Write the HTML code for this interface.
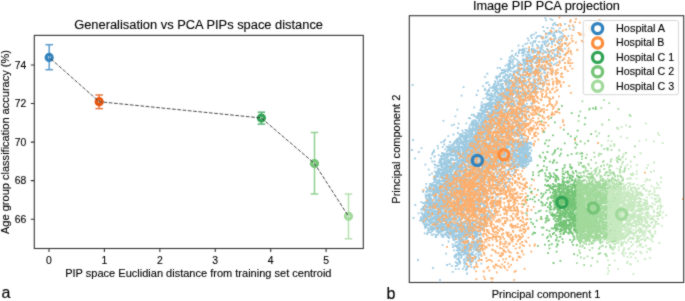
<!DOCTYPE html><html><head><meta charset="utf-8"><style>html,body{margin:0;padding:0;background:#fff;overflow:hidden}svg{display:block}</style></head><body><svg width="685" height="301" viewBox="0 0 685 301" font-family="Liberation Sans, sans-serif"><style>text{stroke:#000;stroke-width:0.12px;fill:#000}</style>
<filter id="bl" x="0" y="0" width="685" height="301" filterUnits="userSpaceOnUse" color-interpolation-filters="sRGB"><feConvolveMatrix order="3" kernelMatrix="1 2 1 2 16 2 1 2 1" edgeMode="duplicate" preserveAlpha="true"/></filter><g filter="url(#bl)">
<rect width="685" height="301" fill="#fff"/>
<g stroke="#3182bd" stroke-width="1.5" opacity="0.8"><line x1="49.2" y1="44.7" x2="49.2" y2="69.7"/><line x1="45.400000000000006" y1="44.7" x2="53.0" y2="44.7"/><line x1="45.400000000000006" y1="69.7" x2="53.0" y2="69.7"/></g>
<g stroke="#e6550d" stroke-width="1.5" opacity="0.8"><line x1="99.2" y1="95.0" x2="99.2" y2="108.6"/><line x1="95.4" y1="95.0" x2="103.0" y2="95.0"/><line x1="95.4" y1="108.6" x2="103.0" y2="108.6"/></g>
<g stroke="#31a354" stroke-width="1.5" opacity="0.8"><line x1="261.4" y1="112.2" x2="261.4" y2="124.1"/><line x1="257.59999999999997" y1="112.2" x2="265.2" y2="112.2"/><line x1="257.59999999999997" y1="124.1" x2="265.2" y2="124.1"/></g>
<g stroke="#74c476" stroke-width="1.5" opacity="0.8"><line x1="314.5" y1="132.5" x2="314.5" y2="194.0"/><line x1="310.7" y1="132.5" x2="318.3" y2="132.5"/><line x1="310.7" y1="194.0" x2="318.3" y2="194.0"/></g>
<g stroke="#a1d99b" stroke-width="1.5" opacity="0.8"><line x1="348.5" y1="194.0" x2="348.5" y2="238.8"/><line x1="344.7" y1="194.0" x2="352.3" y2="194.0"/><line x1="344.7" y1="238.8" x2="352.3" y2="238.8"/></g>
<circle cx="49.2" cy="57.4" r="3" fill="none" stroke="#3182bd" stroke-width="3.2"/>
<circle cx="99.2" cy="101.7" r="3" fill="none" stroke="#e6550d" stroke-width="3.2"/>
<circle cx="261.4" cy="118.0" r="3" fill="none" stroke="#31a354" stroke-width="3.2"/>
<circle cx="314.5" cy="163.5" r="3" fill="none" stroke="#74c476" stroke-width="3.2"/>
<circle cx="348.5" cy="216.3" r="3" fill="none" stroke="#a1d99b" stroke-width="3.2"/>
<polyline points="49.2,57.4 99.2,101.7 261.4,118.0 314.5,163.5 348.5,216.3" fill="none" stroke="#333" stroke-width="0.9" stroke-dasharray="3.7 1.6" stroke-dashoffset="3.1"/>
<rect x="34.3" y="35.4" width="329.0" height="213.1" fill="none" stroke="#333" stroke-width="1.1"/>
<text x="26.3" y="68.60" font-size="10.4" text-anchor="end" fill="#000">74</text>
<text x="26.3" y="107.15" font-size="10.4" text-anchor="end" fill="#000">72</text>
<text x="26.3" y="145.70" font-size="10.4" text-anchor="end" fill="#000">70</text>
<text x="26.3" y="184.25" font-size="10.4" text-anchor="end" fill="#000">68</text>
<text x="26.3" y="222.80" font-size="10.4" text-anchor="end" fill="#000">66</text>
<text x="49.00" y="263.7" font-size="10.4" text-anchor="middle" fill="#000">0</text>
<text x="104.42" y="263.7" font-size="10.4" text-anchor="middle" fill="#000">1</text>
<text x="159.84" y="263.7" font-size="10.4" text-anchor="middle" fill="#000">2</text>
<text x="215.26" y="263.7" font-size="10.4" text-anchor="middle" fill="#000">3</text>
<text x="270.68" y="263.7" font-size="10.4" text-anchor="middle" fill="#000">4</text>
<text x="326.10" y="263.7" font-size="10.4" text-anchor="middle" fill="#000">5</text>
<path d="M34.3 65.00h-3.5 M34.3 103.55h-3.5 M34.3 142.10h-3.5 M34.3 180.65h-3.5 M34.3 219.20h-3.5 M49.00 248.5v3.5 M104.42 248.5v3.5 M159.84 248.5v3.5 M215.26 248.5v3.5 M270.68 248.5v3.5 M326.10 248.5v3.5" stroke="#333" stroke-width="1.1"/>
<text x="198.6" y="29" font-size="12.5" text-anchor="middle" textLength="248.8" lengthAdjust="spacingAndGlyphs">Generalisation vs PCA PIPs space distance</text>
<text x="198.35" y="276.8" font-size="10.4" text-anchor="middle" textLength="266.3" lengthAdjust="spacingAndGlyphs">PIP space Euclidian distance from training set centroid</text>
<text transform="translate(8.7 142) rotate(-90)" font-size="10.4" text-anchor="middle" textLength="184" lengthAdjust="spacingAndGlyphs">Age group classification accuracy (%)</text>
<text x="1.5" y="297.6" font-size="16">a</text>
<clipPath id="rc"><rect x="409.3" y="15.7" width="274.40000000000003" height="266.8"/></clipPath>
<g clip-path="url(#rc)" stroke-width="1.8" stroke-linecap="square" fill="none">
<path stroke="#9ecae1" d="M517.5 143.9h0M428.8 229.2h0M497.8 93.8h0M561.8 49.1h0M450.8 220.7h0M474.7 129.7h0M495.3 92.6h0M473.7 148.9h0M443.7 223.9h0M426.1 220.1h0M431.9 234.9h0M445.8 230.0h0M460.1 189.0h0M489.8 103.6h0M484.5 223.3h0M527.5 59.8h0M442.0 226.8h0M491.0 160.0h0M441.1 209.9h0M475.8 140.6h0M483.0 192.9h0M431.4 228.8h0M461.6 162.5h0M458.6 149.0h0M500.1 175.7h0M486.3 161.2h0M509.4 96.0h0M523.4 61.3h0M466.9 153.7h0M473.8 137.2h0M542.2 46.7h0M499.8 183.3h0M435.1 176.0h0M440.0 188.5h0M500.4 73.7h0M445.6 162.5h0M459.7 146.9h0M484.7 144.4h0M477.5 131.1h0M484.9 107.7h0M442.6 176.2h0M527.8 87.6h0M436.6 174.3h0M479.3 207.6h0M465.7 179.2h0M498.4 172.6h0M472.4 228.6h0M445.1 228.5h0M514.4 73.5h0M489.8 124.0h0M479.6 114.8h0M521.2 49.9h0M452.9 202.7h0M490.2 123.2h0M484.7 191.5h0M454.4 173.2h0M462.2 157.5h0M519.5 161.1h0M535.0 58.5h0M439.3 189.7h0M513.3 142.8h0M481.3 105.3h0M481.7 102.5h0M442.3 174.8h0M448.1 189.5h0M504.7 114.3h0M479.2 127.6h0M494.1 132.4h0M496.4 87.9h0M444.4 173.0h0M491.9 114.1h0M530.0 154.0h0M496.2 100.3h0M443.6 225.5h0M444.6 223.6h0M455.1 191.9h0M506.4 147.5h0M464.7 229.8h0M471.2 135.3h0M513.0 61.8h0M530.7 82.3h0M496.7 106.5h0M514.2 153.6h0M472.4 197.4h0M443.5 167.9h0M505.5 133.1h0M532.7 87.2h0M502.4 136.2h0M552.3 57.4h0M431.7 218.0h0M531.6 67.1h0M520.4 109.1h0M462.6 230.7h0M475.3 147.5h0M456.6 151.3h0M441.2 213.1h0M483.1 188.9h0M461.1 222.9h0M523.3 102.7h0M427.3 225.2h0M491.0 172.7h0M468.2 156.4h0M453.8 192.4h0M460.9 164.7h0M489.8 157.3h0M477.7 198.1h0M449.6 215.3h0M517.6 157.0h0M438.2 190.8h0M507.2 148.4h0M507.5 95.7h0M475.4 201.2h0M485.1 125.8h0M464.1 176.4h0M453.4 224.2h0M468.1 230.9h0M478.0 155.0h0M492.5 94.4h0M522.7 60.4h0M500.8 145.4h0M458.1 224.9h0M453.5 206.9h0M479.7 198.1h0M429.7 203.2h0M467.3 213.8h0M545.4 18.2h0M437.4 219.6h0M434.4 198.6h0M482.1 195.4h0M540.9 36.1h0M425.5 224.9h0M463.3 179.7h0M513.3 71.6h0M502.8 102.3h0M508.9 179.1h0M452.6 189.6h0M528.9 66.0h0M437.9 176.2h0M466.6 199.6h0M454.1 207.2h0M475.9 120.7h0M469.0 164.9h0M489.9 108.6h0M437.7 226.1h0M506.7 99.5h0M505.1 121.9h0M466.7 134.4h0M504.0 182.4h0M482.7 127.6h0M496.8 104.9h0M459.3 154.1h0M522.9 49.1h0M471.2 210.8h0M458.6 149.8h0M509.0 136.0h0M508.1 131.4h0M485.3 125.3h0M428.4 200.2h0M476.2 145.6h0M455.1 187.2h0M512.7 157.3h0M486.6 172.1h0M498.3 154.2h0M447.4 164.4h0M511.0 111.4h0M498.1 152.8h0M471.1 163.9h0M542.5 66.9h0M426.8 195.9h0M447.5 235.9h0M532.4 66.5h0M486.2 118.3h0M513.0 175.1h0M501.5 134.9h0M559.2 57.0h0M445.8 155.2h0M465.5 220.2h0M439.2 209.6h0M488.6 99.6h0M475.5 183.4h0M456.5 184.8h0M475.3 136.3h0M503.9 101.5h0M450.5 183.6h0M463.6 138.2h0M448.8 222.7h0M502.3 120.7h0M534.2 90.8h0M447.3 189.4h0M441.2 226.3h0M471.1 136.2h0M443.1 180.0h0M457.0 204.6h0M473.5 128.3h0M432.6 183.3h0M442.9 217.7h0M451.8 218.5h0M464.8 199.9h0M525.2 78.7h0M513.1 139.0h0M473.9 204.5h0M525.4 143.6h0M465.7 155.9h0M432.4 194.8h0M457.5 222.7h0M523.0 105.9h0M465.2 196.4h0M459.1 227.7h0M499.6 175.7h0M506.8 149.1h0M445.1 174.8h0M480.4 195.1h0M497.4 84.9h0M458.3 209.9h0M489.8 143.0h0M522.4 165.3h0M438.8 186.7h0M487.7 95.8h0M460.0 199.2h0M457.0 211.4h0M438.5 182.6h0M490.8 109.2h0M481.8 151.5h0M523.0 53.1h0M491.5 178.3h0M468.0 169.4h0M483.1 154.8h0M458.9 138.4h0M524.9 115.9h0M466.2 153.0h0M489.9 179.3h0M514.9 160.0h0M470.2 160.6h0M520.0 123.7h0M461.4 205.0h0M573.9 27.1h0M446.2 206.4h0M446.0 176.2h0M465.0 150.2h0M517.9 123.8h0M451.4 173.9h0M503.4 131.4h0M450.8 199.2h0M444.2 182.0h0M464.2 209.4h0M492.6 119.4h0M502.3 160.1h0M491.1 87.6h0M437.2 226.2h0M470.7 130.2h0M484.5 133.7h0M525.0 117.8h0M522.0 123.6h0M430.0 204.1h0M486.3 190.0h0M451.1 215.0h0M549.7 51.3h0M474.5 174.9h0M478.9 176.4h0M430.9 232.6h0M530.5 66.5h0M446.2 218.3h0M492.0 110.0h0M486.4 127.8h0M445.8 191.0h0M531.8 38.2h0M454.0 151.9h0M463.7 147.9h0M470.5 146.9h0M439.5 182.7h0M501.7 141.9h0M474.4 140.2h0M491.5 149.2h0M444.7 167.5h0M449.8 171.5h0M451.8 166.2h0M450.7 187.2h0M495.0 121.7h0M453.1 214.0h0M437.9 217.7h0M486.0 117.6h0M504.2 163.9h0M466.5 138.8h0M473.1 138.5h0M492.7 107.0h0M551.7 42.6h0M461.2 219.1h0M488.8 166.6h0M486.6 175.3h0M573.4 29.8h0M440.0 177.5h0M445.7 230.1h0M441.3 163.0h0M472.8 169.1h0M485.7 122.8h0M505.3 94.2h0M512.2 78.2h0M513.0 92.8h0M483.7 156.4h0M474.8 189.2h0M437.9 199.7h0M477.2 124.1h0M506.2 79.1h0M445.1 154.7h0M447.7 172.3h0M528.9 89.8h0M523.3 92.2h0M506.5 121.3h0M446.7 201.2h0M453.6 168.7h0M459.8 183.1h0M437.7 182.3h0M451.2 224.7h0M503.0 88.3h0M498.9 185.5h0M471.2 181.3h0M450.0 211.4h0M485.2 205.8h0M448.2 161.6h0M427.2 224.0h0M468.7 208.2h0M437.9 210.9h0M436.2 203.5h0M489.6 161.3h0M511.6 149.7h0M490.0 163.5h0M455.5 186.3h0M483.0 113.1h0M505.8 97.9h0M505.9 74.3h0M440.4 191.5h0M428.1 230.3h0M444.3 171.5h0M440.3 192.7h0M505.0 129.8h0M552.0 42.5h0M451.0 168.7h0M449.2 188.8h0M482.2 186.7h0M463.8 221.8h0M486.2 206.5h0M483.6 213.7h0M466.7 152.6h0M462.7 214.9h0M441.0 223.8h0M492.3 149.3h0M490.1 100.1h0M519.9 154.8h0M487.5 127.1h0M496.8 127.3h0M484.9 121.0h0M478.3 159.7h0M494.6 109.1h0M480.5 224.3h0M467.4 181.6h0M456.5 139.4h0M564.2 54.6h0M503.0 113.5h0M507.3 80.2h0M498.9 157.5h0M429.8 187.4h0M498.8 164.3h0M443.6 234.5h0M479.3 194.7h0M461.6 233.3h0M513.3 74.7h0M433.6 219.3h0M496.3 142.5h0M517.8 91.9h0M487.5 92.8h0M483.4 155.8h0M498.6 89.2h0M512.3 88.2h0M441.7 225.1h0M425.2 212.7h0M447.3 229.9h0M503.1 101.4h0M436.2 194.5h0M479.0 159.2h0M487.1 150.3h0M458.0 196.7h0M458.4 192.2h0M470.3 175.3h0M452.2 150.0h0M454.5 177.6h0M449.4 163.1h0M491.2 93.4h0M523.2 144.4h0M498.1 145.4h0M428.9 202.3h0M549.2 54.5h0M481.5 176.4h0M424.6 218.2h0M457.2 158.7h0M452.4 186.8h0M438.0 229.6h0M462.2 196.6h0M465.3 153.9h0M499.2 112.4h0M520.7 159.8h0M488.1 157.8h0M465.6 174.4h0M428.8 191.4h0M452.5 234.4h0M488.0 144.6h0M458.3 206.2h0M438.1 217.9h0M443.2 220.1h0M464.7 197.0h0M547.8 45.6h0M520.0 135.3h0M471.7 152.1h0M481.1 201.2h0M494.5 117.6h0M510.0 157.1h0M505.8 89.0h0M495.3 168.3h0M506.5 89.1h0M459.2 209.7h0M503.1 106.9h0M476.9 144.9h0M467.3 181.3h0M482.1 177.8h0M435.7 199.4h0M513.0 131.8h0M490.6 121.2h0M521.0 81.5h0M513.5 152.3h0M503.1 114.5h0M452.1 185.1h0M492.9 135.2h0M455.5 142.2h0M473.1 174.2h0M500.8 114.7h0M522.9 142.3h0M439.4 162.2h0M431.6 200.0h0M439.9 159.4h0M508.8 64.4h0M492.0 112.3h0M497.4 112.5h0M449.2 154.5h0M491.5 114.7h0M488.1 124.9h0M515.9 77.4h0M446.7 188.4h0M527.4 147.2h0M450.1 194.2h0M460.0 181.1h0M504.7 184.2h0M489.7 97.8h0M525.2 160.2h0M437.8 208.7h0M556.7 32.1h0M456.0 155.2h0M443.4 185.9h0M467.4 179.7h0M470.4 162.0h0M444.5 190.0h0M472.7 221.7h0M505.2 148.8h0M481.1 123.1h0M498.6 140.0h0M499.7 149.0h0M438.7 193.6h0M444.2 155.6h0M523.5 94.5h0M478.7 117.6h0M429.0 197.4h0M436.6 196.8h0M464.0 179.5h0M443.3 212.6h0M444.5 162.0h0M422.3 219.3h0M458.0 174.6h0M447.6 157.6h0M470.0 155.3h0M553.2 53.1h0M517.6 69.7h0M474.7 210.2h0M514.2 106.3h0M491.9 116.9h0M444.0 180.6h0M478.1 157.1h0M521.6 147.4h0M498.7 122.7h0M445.4 170.2h0M511.8 138.1h0M476.1 158.6h0M461.3 139.5h0M435.7 201.5h0M472.2 157.7h0M468.9 134.6h0M514.1 78.1h0M452.1 214.5h0M437.8 171.6h0M507.2 157.4h0M471.0 143.9h0M446.8 171.3h0M440.4 199.0h0M480.9 179.9h0M468.6 161.1h0M514.4 105.0h0M489.3 169.5h0M427.0 203.2h0M457.5 209.4h0M438.7 206.5h0M445.5 212.5h0M429.9 223.3h0M492.6 113.5h0M483.6 118.8h0M484.1 146.9h0M530.6 57.8h0M457.1 214.5h0M485.1 125.5h0M502.5 95.2h0M473.8 212.0h0M499.1 170.3h0M509.4 169.3h0M445.2 207.7h0M489.4 123.3h0M477.7 139.3h0M440.3 214.2h0M509.2 165.3h0M472.9 230.6h0M442.0 177.7h0M449.7 169.1h0M456.1 141.6h0M501.5 144.9h0M471.5 165.8h0M458.8 174.5h0M428.9 202.5h0M458.6 200.3h0M463.6 146.3h0M453.9 220.3h0M497.1 157.2h0M445.5 204.5h0M529.3 143.4h0M450.6 180.8h0M450.2 196.3h0M481.6 138.2h0M434.3 184.8h0M461.8 191.5h0M493.1 161.9h0M488.7 136.5h0M496.3 150.5h0M513.6 156.8h0M495.9 133.5h0M524.0 60.5h0M466.7 159.9h0M485.8 226.6h0M515.4 93.6h0M472.3 220.7h0M518.8 53.0h0M440.3 176.7h0M497.2 100.7h0M530.1 68.8h0M445.7 213.1h0M479.1 167.4h0M485.7 145.4h0M446.2 174.9h0M442.2 186.3h0M468.8 232.8h0M497.0 148.7h0M482.1 194.2h0M516.9 126.5h0M435.1 178.2h0M501.2 97.1h0M448.5 187.1h0M498.6 137.7h0M502.4 126.4h0M490.2 166.6h0M473.9 161.6h0M544.3 82.8h0M486.7 115.1h0M451.0 210.2h0M466.0 187.2h0M452.5 195.2h0M432.0 210.1h0M436.3 200.1h0M437.0 226.7h0M528.3 93.9h0M502.7 158.1h0M487.8 136.6h0M509.2 64.6h0M496.6 113.2h0M463.8 182.1h0M476.5 151.4h0M547.6 76.3h0M438.3 169.7h0M458.7 144.3h0M507.9 98.6h0M480.3 152.4h0M467.5 147.9h0M462.0 178.3h0M486.7 163.0h0M435.0 203.9h0M448.7 161.3h0M527.3 43.4h0M449.4 219.8h0M507.0 142.0h0M504.7 72.5h0M491.5 158.1h0M477.6 143.5h0M435.0 208.4h0M530.2 62.4h0M478.6 121.0h0M469.7 172.7h0M448.1 211.4h0M474.0 139.6h0M539.7 51.6h0M487.1 111.2h0M517.7 102.8h0M520.7 100.3h0M462.1 169.7h0M470.4 142.8h0M490.6 121.1h0M490.5 114.4h0M492.9 119.9h0M469.3 146.5h0M481.6 120.5h0M464.0 189.8h0M437.0 213.6h0M478.2 150.1h0M454.7 192.5h0M458.9 147.2h0M455.4 175.9h0M463.3 143.1h0M536.7 86.0h0M445.4 201.3h0M472.9 207.0h0M511.9 144.4h0M495.5 86.1h0M450.0 154.1h0M501.6 154.6h0M445.0 227.1h0M506.1 177.7h0M448.7 159.9h0M498.7 110.5h0M451.4 213.7h0M471.6 204.3h0M493.1 133.8h0M444.9 174.1h0M511.0 144.8h0M456.4 182.1h0M504.5 149.7h0M428.7 221.3h0M515.4 83.5h0M478.1 168.2h0M538.5 87.5h0M438.7 208.5h0M539.1 41.9h0M458.9 208.4h0M434.4 202.7h0M521.2 138.4h0M488.0 105.9h0M524.9 152.3h0M525.3 159.0h0M471.2 195.2h0M517.0 87.5h0M489.9 132.0h0M424.9 226.3h0M451.6 146.4h0M464.8 150.6h0M481.8 199.4h0M468.5 148.8h0M471.0 163.9h0M500.7 104.7h0M532.1 52.5h0M444.9 174.6h0M489.6 173.2h0M437.2 172.1h0M446.5 224.3h0M482.8 138.1h0M459.5 171.9h0M531.5 64.2h0M473.3 221.8h0M516.7 154.0h0M451.3 163.1h0M504.0 94.8h0M537.4 36.7h0M487.3 182.1h0M503.5 121.6h0M523.7 124.7h0M453.9 164.9h0M495.4 177.7h0M522.7 162.6h0M464.5 218.2h0M463.1 147.3h0M473.0 188.9h0M495.3 122.7h0M455.7 189.7h0M459.9 219.6h0M465.4 165.2h0M457.8 142.4h0M514.4 117.0h0M478.3 199.3h0M448.7 211.9h0M508.6 96.0h0M494.1 214.0h0M434.7 178.5h0M459.4 206.7h0M467.6 209.2h0M497.2 143.8h0M483.2 128.1h0M425.7 225.4h0M479.6 129.7h0M496.4 143.6h0M434.1 189.7h0M477.9 161.9h0M491.7 122.3h0M448.5 194.6h0M488.4 90.7h0M506.0 132.4h0M497.9 149.4h0M437.4 210.8h0M499.8 93.3h0M522.5 155.6h0M464.9 148.5h0M500.4 141.4h0M474.6 161.6h0M460.7 136.4h0M519.4 165.8h0M501.4 157.4h0M472.3 155.7h0M544.7 70.3h0M436.3 196.2h0M523.1 114.7h0M435.5 194.1h0M471.8 144.0h0M492.5 105.5h0M473.3 199.1h0M444.7 182.5h0M445.3 190.6h0M467.2 210.3h0M499.9 75.4h0M484.6 196.0h0M438.5 220.4h0M427.4 200.5h0M494.2 193.0h0M473.4 188.9h0M523.6 162.9h0M514.8 170.9h0M509.4 98.7h0M439.7 226.3h0M512.8 68.4h0M435.6 191.7h0M494.4 139.5h0M500.4 170.3h0M486.6 186.4h0M430.0 219.6h0M504.4 126.7h0M524.6 93.4h0M447.3 189.4h0M501.6 88.4h0M460.3 185.2h0M500.3 88.3h0M484.3 142.1h0M456.3 225.3h0M464.4 153.2h0M500.5 114.7h0M517.5 132.3h0M464.1 142.2h0M451.3 182.3h0M451.6 152.7h0M512.4 76.5h0M479.3 152.6h0M464.7 187.7h0M498.3 114.3h0M496.3 87.2h0M512.6 134.0h0M463.8 164.1h0M422.3 221.3h0M493.5 86.2h0M483.3 143.0h0M452.6 189.3h0M476.1 225.9h0M493.0 145.6h0M480.6 196.0h0M492.6 103.4h0M527.0 62.4h0M453.3 220.6h0M439.0 162.7h0M465.6 140.0h0M461.1 142.7h0M510.9 70.9h0M502.0 153.3h0M512.2 144.4h0M457.2 165.8h0M487.7 154.2h0M532.3 52.4h0M425.7 203.2h0M424.2 224.3h0M510.2 98.4h0M522.1 129.8h0M480.1 122.6h0M423.0 215.5h0M546.1 20.4h0M478.2 147.5h0M469.1 195.5h0M485.7 115.0h0M437.1 205.9h0M443.1 190.8h0M450.0 216.1h0M461.8 215.8h0M476.4 126.5h0M502.4 118.8h0M468.9 182.5h0M471.8 173.7h0M531.0 61.0h0M515.1 65.9h0M525.2 95.8h0M448.9 214.1h0M477.1 138.8h0M428.8 199.0h0M474.5 141.9h0M497.2 160.0h0M554.8 23.1h0M446.6 161.4h0M470.1 151.5h0M457.5 198.3h0M510.8 99.4h0M488.7 104.1h0M445.4 180.5h0M480.5 115.4h0M502.0 80.0h0M480.9 130.2h0M439.3 211.9h0M539.4 58.5h0M494.9 100.4h0M496.6 118.5h0M478.5 175.7h0M486.3 106.4h0M447.2 160.2h0M480.9 221.1h0M454.2 148.4h0M487.0 109.4h0M459.8 218.3h0M501.3 90.0h0M519.8 156.6h0M465.8 195.2h0M427.0 201.8h0M456.3 218.0h0M489.9 106.5h0M493.8 103.2h0M441.6 209.3h0M462.4 160.7h0M518.4 153.5h0M535.1 41.8h0M500.7 107.8h0M436.8 216.8h0M478.8 154.0h0M446.9 227.1h0M520.3 162.5h0M446.9 154.1h0M429.2 229.9h0M522.6 160.1h0M440.7 184.0h0M473.5 161.7h0M445.9 227.5h0M503.6 88.9h0M442.1 198.5h0M514.8 135.5h0M499.7 81.0h0M475.6 155.8h0M457.7 146.3h0M512.2 100.8h0M502.3 162.8h0M477.6 139.7h0M483.8 153.9h0M517.7 70.8h0M480.2 177.4h0M471.2 198.5h0M469.2 154.9h0M452.2 181.2h0M448.1 153.5h0M465.0 166.2h0M423.2 217.2h0M516.0 76.7h0M429.3 232.1h0M478.7 188.9h0M445.6 165.3h0M459.9 227.8h0M429.5 196.7h0M473.5 158.0h0M463.2 193.2h0M482.8 208.7h0M437.9 234.5h0M435.9 224.0h0M505.0 91.3h0M451.3 204.2h0M529.1 91.7h0M454.1 160.0h0M533.8 80.3h0M476.1 139.4h0M523.7 77.9h0M477.2 158.9h0M481.8 151.2h0M490.0 141.5h0M453.4 196.8h0M473.9 151.4h0M484.6 168.2h0M545.3 76.7h0M492.5 179.8h0M495.1 140.6h0M471.4 124.7h0M512.6 103.9h0M487.9 143.6h0M457.2 236.0h0M461.8 196.4h0M538.0 57.9h0M560.5 41.8h0M451.9 170.5h0M480.4 202.2h0M498.0 160.5h0M466.0 172.8h0M431.5 210.1h0M462.2 182.6h0M462.3 188.5h0M490.9 145.4h0M464.1 138.8h0M471.0 192.4h0M448.8 232.2h0M443.9 208.2h0M500.5 119.4h0M471.3 159.5h0M449.5 228.2h0M457.4 211.4h0M517.5 87.4h0M459.0 173.1h0M490.3 112.8h0M429.3 221.5h0M453.2 218.7h0M424.8 220.7h0M465.9 187.5h0M517.4 69.8h0M511.2 137.2h0M512.8 149.5h0M516.1 72.0h0M532.8 61.5h0M442.9 199.3h0M524.6 163.1h0M455.4 163.7h0M453.8 146.9h0M431.9 201.0h0M470.5 136.6h0M513.8 122.3h0M475.0 125.8h0M473.8 151.5h0M429.8 214.8h0M493.7 148.2h0M502.7 132.7h0M479.2 138.3h0M469.6 182.3h0M505.9 71.0h0M496.7 86.5h0M434.6 204.8h0M483.2 123.7h0M473.7 152.5h0M522.4 111.5h0M499.8 133.9h0M511.1 159.9h0M493.6 120.0h0M552.0 57.5h0M461.7 187.6h0M554.4 40.3h0M469.8 146.7h0M508.3 170.0h0M492.6 90.8h0M496.0 194.4h0M426.1 210.4h0M502.3 126.4h0M458.4 188.8h0M514.7 122.7h0M430.4 199.0h0M476.4 182.4h0M472.6 153.8h0M438.5 219.6h0M435.3 204.5h0M518.8 115.9h0M451.7 232.2h0M471.7 157.3h0M436.4 185.9h0M447.5 216.8h0M451.7 185.2h0M465.0 135.4h0M561.1 39.2h0M469.6 127.2h0M446.6 177.5h0M494.3 173.1h0M458.5 202.9h0M445.5 196.3h0M559.5 53.5h0M496.6 88.4h0M490.1 112.4h0M444.7 194.2h0M445.7 163.8h0M460.6 179.3h0M458.3 224.3h0M463.2 185.1h0M449.2 160.7h0M478.5 135.1h0M464.6 209.4h0M471.0 135.4h0M427.9 220.0h0M498.4 100.3h0M447.1 201.3h0M512.3 92.0h0M441.9 236.6h0M440.7 217.0h0M483.0 123.7h0M490.9 123.5h0M528.3 73.8h0M484.9 115.4h0M455.4 183.7h0M461.0 200.4h0M559.3 43.7h0M515.8 114.8h0M504.1 113.2h0M456.1 163.8h0M443.6 158.3h0M448.6 181.0h0M494.5 147.5h0M523.6 80.8h0M501.4 112.8h0M489.7 114.9h0M429.7 202.9h0M454.4 143.1h0M483.9 132.0h0M489.3 126.3h0M483.0 172.0h0M468.8 188.4h0M429.2 202.2h0M486.3 112.1h0M430.0 208.0h0M515.4 117.9h0M468.3 221.0h0M473.0 139.1h0M471.3 204.0h0M426.5 218.7h0M451.1 219.3h0M454.3 159.9h0M469.6 185.8h0M458.4 173.6h0M470.9 185.5h0M510.0 96.4h0M474.6 192.5h0M428.7 188.6h0M519.9 148.0h0M508.3 81.1h0M483.9 125.9h0M428.4 194.2h0M485.8 192.0h0M475.8 123.4h0M462.5 168.2h0M425.8 202.9h0M468.5 153.3h0M524.4 157.5h0M534.7 99.4h0M445.7 223.3h0M482.8 179.7h0M444.4 174.7h0M454.0 233.4h0M482.4 110.7h0M501.9 147.8h0M476.2 147.1h0M424.9 204.9h0M439.1 172.3h0M554.8 54.3h0M505.0 96.6h0M424.8 214.5h0M483.8 148.1h0M438.8 220.3h0M490.7 118.9h0M435.1 193.3h0M458.8 174.6h0M522.5 149.1h0M441.0 204.5h0M547.2 42.1h0M548.7 68.6h0M482.0 172.1h0M553.7 64.6h0M456.3 188.2h0M492.7 159.3h0M452.6 177.1h0M525.4 94.4h0M476.8 190.6h0M501.6 191.5h0M510.5 142.6h0M497.1 98.4h0M495.4 91.4h0M477.8 164.0h0M461.2 182.1h0M534.3 79.9h0M434.3 222.1h0M507.6 137.9h0M447.8 155.4h0M508.6 78.6h0M446.6 211.4h0M509.5 62.9h0M492.0 146.2h0M521.5 64.1h0M462.3 186.1h0M508.2 92.6h0M450.6 173.3h0M496.6 90.3h0M494.7 205.9h0M460.6 174.2h0M493.3 132.3h0M452.6 179.2h0M430.6 227.9h0M509.4 81.8h0M456.1 220.7h0M459.9 174.6h0M541.3 47.2h0M474.3 144.3h0M475.2 147.2h0M440.7 160.8h0M447.9 233.7h0M503.6 144.8h0M504.7 71.4h0M479.9 137.0h0M473.0 145.6h0M492.8 123.9h0M523.9 81.7h0M546.0 46.2h0M443.1 208.3h0M449.2 236.9h0M421.3 212.6h0M482.8 113.9h0M544.5 41.6h0M496.5 145.8h0M453.6 144.2h0M446.0 213.2h0M444.3 174.4h0M483.3 120.2h0M453.4 152.2h0M517.9 127.6h0M490.2 95.0h0M509.1 69.7h0M426.5 209.3h0M475.5 216.4h0M495.1 141.8h0M465.3 216.1h0M462.8 185.5h0M456.0 207.9h0M531.1 95.2h0M479.2 120.3h0M454.0 206.4h0M513.1 67.5h0M456.8 187.3h0M460.0 160.4h0M510.6 156.5h0M508.0 100.3h0M496.9 157.9h0M488.9 120.0h0M507.2 104.1h0M545.8 37.3h0M473.9 221.3h0M500.3 153.5h0M517.9 73.0h0M505.6 88.3h0M490.8 159.9h0M468.5 208.8h0M495.9 182.5h0M464.2 177.7h0M480.0 152.9h0M494.5 89.8h0M447.7 199.3h0M454.5 227.9h0M483.6 183.3h0M455.1 165.1h0M443.3 154.3h0M502.6 108.9h0M508.5 86.4h0M487.2 104.4h0M433.8 229.9h0M451.4 177.4h0M494.2 188.9h0M555.9 24.8h0M509.4 141.8h0M518.6 67.9h0M475.6 142.9h0M440.8 225.0h0M423.2 206.6h0M466.4 181.6h0M450.6 179.6h0M451.2 171.1h0M424.9 206.6h0M468.4 184.0h0M460.3 171.8h0M553.6 23.8h0M507.5 75.0h0M494.0 124.4h0M441.5 167.3h0M457.8 212.4h0M520.8 157.2h0M505.0 154.3h0M463.6 172.2h0M457.5 158.6h0M468.9 217.5h0M444.7 215.4h0M540.2 84.1h0M481.0 174.5h0M524.7 50.7h0M476.9 125.9h0M449.8 198.0h0M489.0 169.7h0M503.8 115.9h0M509.4 160.1h0M510.2 80.6h0M439.9 206.2h0M459.5 175.1h0M518.1 114.8h0M465.6 226.8h0M509.8 147.2h0M489.1 91.0h0M521.5 68.5h0M500.5 111.6h0M472.1 172.9h0M464.4 154.4h0M515.1 144.1h0M508.5 165.9h0M477.7 130.9h0M430.9 188.2h0M541.7 45.0h0M425.7 196.6h0M478.5 224.1h0M473.4 172.8h0M458.8 148.3h0M447.2 175.6h0M491.9 175.6h0M447.3 190.1h0M447.2 193.6h0M448.6 187.3h0M477.2 132.8h0M518.3 90.7h0M460.1 156.6h0M429.3 187.7h0M553.2 41.3h0M541.0 52.7h0M491.6 164.1h0M498.9 105.8h0M451.1 175.1h0M487.0 218.0h0M467.7 166.1h0M495.2 165.2h0M438.1 181.1h0M499.9 76.8h0M482.6 170.5h0M532.1 68.5h0M470.6 184.6h0M513.7 92.8h0M535.4 50.2h0M442.0 227.5h0M460.1 170.5h0M496.6 182.5h0M444.1 164.8h0M470.7 194.2h0M450.9 195.2h0M457.9 140.3h0M472.1 141.2h0M459.8 195.8h0M517.9 82.3h0M444.2 220.1h0M490.0 134.5h0M504.8 157.4h0M447.6 220.0h0M470.4 146.8h0M461.2 206.2h0M472.5 151.8h0M452.2 224.8h0M518.4 66.8h0M428.8 213.7h0M446.4 186.9h0M491.6 109.3h0M498.9 76.2h0M448.6 209.3h0M448.5 207.9h0M447.4 174.3h0M432.4 205.7h0M493.4 98.7h0M509.1 67.7h0M535.4 93.9h0M437.3 176.3h0M479.6 229.2h0M490.6 217.3h0M517.2 64.8h0M453.2 169.0h0M429.9 220.5h0M456.5 218.2h0M438.5 193.2h0M442.4 159.0h0M453.7 196.1h0M500.2 79.9h0M478.6 151.1h0M487.8 182.7h0M540.4 80.6h0M486.9 143.9h0M462.3 135.7h0M506.4 85.2h0M478.3 144.1h0M449.5 222.6h0M430.0 223.0h0M527.4 64.2h0M444.2 210.4h0M472.1 131.7h0M448.9 226.4h0M472.3 134.2h0M431.2 209.9h0M426.5 206.7h0M504.2 145.8h0M481.0 197.8h0M444.8 221.2h0M474.1 180.7h0M472.8 212.6h0M446.0 184.5h0M453.8 143.4h0M469.0 132.1h0M470.8 154.5h0M436.5 206.7h0M480.8 160.6h0M470.6 144.0h0M483.4 120.7h0M541.7 37.3h0M546.9 36.9h0M528.3 149.5h0M486.3 127.9h0M482.1 122.5h0M488.0 214.9h0M460.6 160.0h0M428.9 221.8h0M460.7 143.3h0M476.9 140.7h0M446.2 185.5h0M448.9 172.0h0M494.5 192.5h0M441.4 165.4h0M473.0 232.4h0M477.0 215.7h0M443.5 172.9h0M489.8 143.4h0M530.7 95.3h0M531.4 73.2h0M478.5 127.1h0M445.5 195.9h0M466.9 227.1h0M493.4 145.5h0M488.2 117.6h0M545.6 37.8h0M500.7 121.8h0M486.1 145.8h0M492.9 127.2h0M465.7 168.8h0M449.1 174.7h0M561.5 33.2h0M437.3 188.8h0M497.9 130.6h0M455.2 194.0h0M453.0 218.2h0M489.0 95.3h0M439.0 200.4h0M453.0 165.8h0M456.8 150.3h0M472.2 142.7h0M445.3 179.0h0M462.9 203.6h0M479.6 162.5h0M513.9 161.9h0M450.0 194.9h0M462.3 191.7h0M532.9 49.4h0M436.5 214.4h0M493.7 109.8h0M505.7 146.2h0M537.8 46.7h0M443.6 199.0h0M490.6 129.9h0M428.0 203.3h0M497.1 110.8h0M480.3 118.6h0M465.1 205.2h0M466.6 157.4h0M489.7 126.0h0M457.3 206.7h0M487.0 122.8h0M497.4 151.8h0M516.3 116.4h0M434.2 211.8h0M443.0 196.8h0M454.6 195.2h0M450.3 205.3h0M481.7 159.9h0M491.6 123.7h0M478.7 159.7h0M497.1 135.8h0M454.8 189.2h0M442.1 164.5h0M509.0 76.2h0M536.0 32.7h0M448.7 148.1h0M463.5 132.6h0M453.6 204.8h0M455.9 210.6h0M539.3 58.1h0M493.4 140.9h0M520.4 128.0h0M469.6 148.5h0M531.1 157.6h0M445.8 191.8h0M438.5 201.8h0M462.5 225.9h0M476.7 223.0h0M471.9 228.8h0M442.5 193.4h0M503.4 97.1h0M490.7 160.3h0M457.5 166.6h0M521.9 142.5h0M453.6 194.6h0M436.3 192.6h0M474.2 207.5h0M429.9 198.8h0M436.3 236.5h0M508.8 83.6h0M455.4 165.0h0M503.5 142.8h0M520.6 133.3h0M451.7 181.7h0M505.5 104.6h0M525.2 121.3h0M546.9 74.4h0M440.5 164.6h0M449.7 177.8h0M432.6 203.6h0M448.7 147.1h0M445.7 188.6h0M507.3 144.9h0M435.4 185.5h0M542.4 41.8h0M433.1 190.8h0M465.5 143.5h0M543.1 59.6h0M433.8 179.0h0M468.4 222.8h0M443.5 212.8h0M486.2 97.7h0M486.4 139.2h0M442.0 173.1h0M459.8 190.2h0M493.5 139.8h0M473.0 189.2h0M473.7 205.4h0M533.8 49.1h0M450.3 174.9h0M486.2 147.7h0M432.1 226.7h0M444.0 184.5h0M510.8 150.7h0M562.8 36.9h0M481.1 129.5h0M474.0 162.6h0M494.2 145.7h0M539.2 35.8h0M483.3 111.9h0M502.5 155.7h0M441.7 216.9h0M425.7 215.1h0M450.4 206.3h0M452.9 155.5h0M527.0 150.4h0M477.1 124.0h0M481.9 215.9h0M489.4 159.8h0M527.4 56.5h0M485.1 109.7h0M502.1 165.2h0M511.3 131.0h0M506.1 110.7h0M459.9 194.2h0M448.7 233.4h0M436.6 216.6h0M507.7 88.6h0M460.5 181.3h0M482.8 162.4h0M430.4 200.6h0M467.9 158.7h0M489.3 159.5h0M525.0 155.0h0M439.6 172.0h0M443.2 202.7h0M458.4 166.0h0M484.1 126.7h0M492.6 125.8h0M442.3 231.5h0M436.4 201.5h0M535.9 69.2h0M534.4 81.3h0M435.8 227.8h0M460.1 198.3h0M446.8 146.7h0M452.3 223.2h0M530.0 71.6h0M438.1 166.2h0M498.6 172.9h0M496.2 136.3h0M535.5 90.7h0M503.9 168.2h0M522.2 113.3h0M448.1 147.6h0M518.0 96.3h0M491.1 106.0h0M440.4 205.6h0M473.2 174.8h0M440.6 221.7h0M503.5 179.4h0M428.2 214.0h0M488.9 153.9h0M441.8 195.8h0M435.6 218.0h0M508.1 136.7h0M489.6 127.0h0M522.9 168.2h0M511.1 149.2h0M446.4 180.1h0M447.4 172.7h0M433.5 216.9h0M462.3 189.9h0M435.2 213.7h0M487.8 154.0h0M475.1 227.3h0M480.1 155.5h0M542.8 49.9h0M501.4 90.3h0M524.7 146.2h0M448.9 223.1h0M424.6 216.0h0M458.4 146.2h0M464.6 189.8h0M453.7 202.1h0M444.9 223.8h0M497.8 196.4h0M501.7 122.2h0M514.9 141.9h0M496.8 119.6h0M488.0 123.8h0M462.7 144.0h0M466.3 184.0h0M466.8 179.7h0M545.2 65.8h0M486.3 142.6h0M512.4 90.5h0M511.0 120.9h0M465.0 170.0h0M446.0 229.6h0M469.6 163.4h0M466.5 137.0h0M479.2 145.5h0M497.2 153.6h0M445.8 194.0h0M471.1 133.2h0M509.3 137.6h0M498.7 132.9h0M474.1 138.1h0M443.4 176.4h0M477.2 147.9h0M485.7 200.3h0M466.2 150.8h0M486.6 135.8h0M507.3 82.8h0M464.0 152.8h0M461.7 167.9h0M500.8 157.4h0M478.4 156.7h0M468.4 144.9h0M456.3 209.1h0M451.6 154.3h0M470.2 223.6h0M470.9 153.2h0M507.4 103.1h0M464.3 209.3h0M436.8 229.0h0M429.2 221.3h0M475.6 135.7h0M477.3 123.7h0M458.1 148.6h0M431.4 185.9h0M488.9 108.5h0M544.1 31.2h0M431.6 211.7h0M549.9 32.7h0M477.5 129.6h0M474.4 225.2h0M553.3 34.7h0M465.3 235.5h0M544.1 69.7h0M451.4 150.9h0M536.8 50.9h0M470.7 197.9h0M554.8 50.0h0M449.6 168.8h0M491.1 119.2h0M437.4 202.7h0M433.3 186.4h0M437.0 191.2h0M499.8 103.0h0M481.5 185.0h0M517.2 97.6h0M441.5 185.7h0M474.3 159.1h0M490.5 219.7h0M458.8 191.6h0M450.1 168.8h0M454.9 153.7h0M521.3 83.7h0M508.9 92.1h0M503.6 103.4h0M459.0 153.3h0M499.5 131.7h0M501.7 115.1h0M509.9 103.7h0M475.0 161.2h0M480.6 184.6h0M504.0 155.6h0M521.7 76.5h0M458.7 175.1h0M441.7 207.5h0M461.9 161.2h0M447.9 176.7h0M463.9 159.4h0M460.5 147.3h0M480.9 188.5h0M448.0 201.0h0M545.3 62.1h0M426.2 191.6h0M456.3 140.8h0M437.5 175.4h0M495.0 93.1h0M445.8 188.1h0M508.9 151.8h0M436.4 203.7h0M449.3 218.2h0M460.5 154.7h0M455.3 190.3h0M431.9 229.8h0M506.4 137.5h0M489.9 142.5h0M464.1 184.0h0M477.2 134.5h0M557.5 51.0h0M491.0 98.4h0M465.8 141.4h0M488.7 109.4h0M496.5 98.1h0M478.5 167.9h0M447.6 178.8h0M468.4 136.8h0M478.5 169.5h0M552.3 19.9h0M518.0 78.0h0M478.9 140.9h0M479.0 155.7h0M496.6 77.7h0M488.9 99.2h0M507.1 89.4h0M448.8 176.1h0M435.6 193.7h0M553.2 34.2h0M500.1 201.1h0M483.1 123.5h0M516.0 150.5h0M538.1 79.3h0M494.5 112.2h0M460.7 235.1h0M449.4 199.2h0M431.2 207.1h0M534.1 89.0h0M474.9 136.6h0M490.2 117.0h0M430.5 205.5h0M451.8 160.0h0M458.6 149.6h0M553.9 39.4h0M459.9 205.6h0M490.4 190.7h0M451.4 178.2h0M537.0 44.9h0M435.8 220.2h0M507.8 106.0h0M481.9 150.5h0M505.9 134.6h0M513.7 132.8h0M525.0 64.2h0M469.6 133.8h0M489.4 171.5h0M456.6 165.5h0M496.9 96.6h0M533.7 89.3h0M450.8 194.3h0M425.8 209.8h0M451.6 178.9h0M517.3 124.9h0M478.2 124.4h0M462.2 143.1h0M465.3 132.9h0M439.1 199.5h0M501.5 91.7h0M517.4 84.8h0M502.7 86.8h0M528.7 71.1h0M447.4 184.5h0M468.6 174.2h0M462.9 223.8h0M471.0 183.3h0M439.8 186.3h0M508.5 171.0h0M430.4 186.2h0M492.8 169.3h0M473.8 143.5h0M491.8 99.8h0M467.9 140.7h0M439.1 211.6h0M521.8 109.4h0M450.1 167.0h0M473.1 165.3h0M453.3 219.7h0M456.2 158.0h0M473.2 154.8h0M452.2 237.4h0M437.6 171.1h0M469.6 198.3h0M516.4 154.8h0M508.4 69.8h0M522.2 106.2h0M443.9 214.8h0M491.0 120.1h0M439.7 216.7h0M481.5 204.2h0M444.1 195.6h0M451.7 186.3h0M479.9 200.8h0M440.7 176.9h0M565.0 48.7h0M495.2 168.2h0M503.3 96.3h0M482.3 200.5h0M496.1 131.8h0M488.2 167.8h0M509.6 93.2h0M491.9 118.6h0M507.3 101.6h0M486.7 207.6h0M449.4 190.0h0M469.5 155.0h0M454.3 155.5h0M497.6 177.2h0M489.8 144.7h0M447.9 204.7h0M469.2 174.0h0M493.1 147.2h0M446.5 164.7h0M505.3 89.2h0M480.7 226.3h0M436.7 175.0h0M509.5 66.3h0M506.1 117.0h0M458.1 177.5h0M486.3 223.9h0M449.8 162.1h0M459.0 202.3h0M458.1 212.3h0M467.2 153.7h0M469.8 232.7h0M487.8 119.3h0M489.0 94.7h0M453.1 230.6h0M464.5 176.7h0M466.8 138.8h0M464.3 229.2h0M432.8 193.2h0M494.9 147.7h0M453.8 155.7h0M450.5 187.0h0M444.8 181.1h0M486.4 146.3h0M452.3 176.6h0M427.6 214.4h0M428.5 213.6h0M459.2 225.5h0M446.9 195.2h0M462.0 190.1h0M451.2 187.8h0M500.4 105.7h0M430.6 213.1h0M465.2 156.9h0M502.0 84.1h0M463.0 197.8h0M444.1 189.9h0M438.1 220.0h0M476.6 124.5h0M446.9 192.2h0M470.1 125.1h0M450.6 226.5h0M477.7 115.3h0M466.3 167.4h0M518.3 140.9h0M463.5 138.1h0M540.5 71.3h0M500.2 140.0h0M461.6 199.2h0M478.1 159.1h0M453.3 177.8h0M446.5 158.7h0M471.4 175.6h0M451.0 197.1h0M483.7 119.3h0M479.9 207.9h0M496.0 113.8h0M512.5 158.6h0M462.4 179.3h0M436.2 180.3h0M513.1 123.3h0M471.6 161.1h0M462.4 164.6h0M434.3 207.9h0M449.6 166.3h0M468.6 181.0h0M441.9 223.0h0M447.5 189.0h0M437.7 183.5h0M498.5 152.2h0M496.5 134.9h0M436.8 197.2h0M479.6 180.6h0M435.8 218.5h0M454.4 212.9h0M536.9 57.3h0M446.6 204.5h0M508.8 94.0h0M511.6 158.9h0M467.3 187.4h0M470.3 234.3h0M483.5 129.9h0M469.2 202.7h0M443.0 227.2h0M511.8 140.6h0M427.7 195.8h0M481.8 185.3h0M505.5 164.4h0M458.6 206.5h0M474.1 134.7h0M436.1 175.6h0M450.8 178.8h0M504.4 78.3h0M478.2 152.6h0M460.1 187.4h0M491.8 155.2h0M526.9 103.6h0M455.0 148.2h0M531.7 49.0h0M498.9 93.5h0M455.0 224.8h0M432.9 206.1h0M547.9 49.7h0M544.4 44.4h0M495.6 108.6h0M448.1 186.9h0M514.2 154.9h0M455.7 232.1h0M483.1 110.4h0M455.9 192.8h0M476.8 118.0h0M500.7 90.4h0M440.4 222.7h0M456.8 147.4h0M481.9 216.3h0M428.3 215.6h0M437.4 165.6h0M504.8 167.8h0M516.8 149.8h0M439.0 173.3h0M454.0 236.2h0M466.6 149.9h0M471.9 135.6h0M495.1 81.4h0M499.6 149.8h0M448.5 184.5h0M475.5 121.0h0M536.8 70.5h0M533.8 52.8h0M474.6 138.8h0M442.8 234.8h0M486.6 136.4h0M526.6 69.7h0M500.1 140.6h0M442.0 205.8h0M463.7 176.6h0M480.3 110.2h0M477.5 132.9h0M450.0 220.8h0M459.4 143.3h0M531.4 160.3h0M519.9 88.5h0M477.2 207.0h0M508.3 159.6h0M474.7 128.9h0M497.1 128.2h0M535.5 68.6h0M509.6 81.8h0M434.5 217.1h0M482.6 228.2h0M459.9 169.8h0M511.2 82.8h0M540.4 71.0h0M439.7 206.8h0M455.3 153.9h0M485.6 105.6h0M459.0 209.3h0M525.1 89.7h0M470.1 154.3h0M540.4 83.0h0M498.7 169.4h0M507.4 79.9h0M448.6 153.3h0M499.8 175.0h0M481.3 117.8h0M508.8 165.0h0M472.5 178.3h0M481.7 140.8h0M526.5 61.1h0M533.4 102.8h0M484.3 112.7h0M515.1 71.0h0M440.8 191.7h0M464.4 208.4h0M499.0 112.3h0M470.4 147.7h0M541.6 46.9h0M464.8 149.8h0M516.7 117.6h0M457.5 161.4h0M453.8 155.7h0M457.0 210.9h0M523.6 83.8h0M493.9 103.0h0M509.2 180.9h0M527.0 58.4h0M486.8 125.5h0M471.5 185.3h0M470.5 232.3h0M489.9 138.7h0M449.3 216.9h0M455.8 197.6h0M469.7 142.3h0M459.0 217.0h0M447.7 214.8h0M461.4 191.4h0M479.6 204.8h0M447.3 169.4h0M507.4 101.9h0M468.6 137.4h0M466.8 154.6h0M457.9 152.2h0M444.5 188.9h0M561.0 36.3h0M437.3 212.0h0M546.1 62.1h0M475.6 132.7h0M487.3 119.0h0M462.0 186.4h0M446.5 197.4h0M431.3 226.5h0M505.6 148.5h0M435.5 205.0h0M498.9 166.7h0M474.6 230.6h0M527.2 76.8h0M461.8 147.4h0M452.9 208.9h0M441.6 190.4h0M481.6 128.6h0M485.7 107.9h0M443.9 153.3h0M443.3 214.1h0M498.7 103.6h0M475.0 189.9h0M483.5 145.2h0M453.4 237.5h0M526.2 57.2h0M493.2 107.1h0M428.3 205.6h0M464.1 188.3h0M444.7 227.0h0M452.3 166.3h0M530.4 62.8h0M520.1 69.5h0M504.8 112.3h0M525.4 138.3h0M494.2 156.6h0M452.3 231.8h0M507.1 161.2h0M534.9 63.0h0M507.9 115.0h0M437.7 207.6h0M448.5 155.8h0M470.1 151.5h0M466.6 200.0h0M517.7 125.5h0M521.8 136.6h0M519.1 164.4h0M531.3 70.3h0M429.0 211.9h0M461.5 180.5h0M461.0 171.6h0M446.2 178.9h0M489.5 99.5h0M550.8 66.2h0M496.5 134.0h0M445.6 218.7h0M490.9 168.0h0M487.4 90.9h0M510.2 63.8h0M476.8 174.0h0M523.2 159.8h0M523.5 101.2h0M493.1 87.8h0M460.6 154.2h0M491.5 162.2h0M472.4 233.4h0M437.4 229.5h0M483.9 205.8h0M473.0 128.1h0M482.2 111.9h0M497.0 150.1h0M449.6 197.4h0M507.9 123.6h0M461.8 183.5h0M501.1 119.2h0M496.9 144.7h0M471.0 162.2h0M450.7 158.1h0M453.6 201.6h0M508.5 147.0h0M441.1 218.1h0M528.8 152.8h0M439.5 202.8h0M493.0 113.4h0M452.8 174.7h0M468.3 210.1h0M547.0 49.2h0M471.6 154.2h0M427.9 215.4h0M432.7 206.5h0M513.7 134.1h0M481.5 108.0h0M512.1 123.9h0M538.1 75.0h0M506.9 112.4h0M541.8 68.5h0M484.1 134.5h0M494.4 160.9h0M496.9 150.5h0M444.2 193.3h0M505.6 65.6h0M529.1 156.1h0M520.8 158.5h0M539.5 51.2h0M493.1 88.3h0M507.3 114.3h0M500.2 159.8h0M436.0 217.7h0M542.4 46.9h0M465.2 136.9h0M444.8 183.1h0M442.5 172.7h0M459.9 151.2h0M435.4 194.7h0M501.1 178.9h0M435.5 187.4h0M509.9 147.2h0M423.5 221.9h0M536.3 82.9h0M478.4 201.7h0M447.2 195.7h0M484.7 142.4h0M479.8 137.5h0M439.6 208.9h0M507.5 121.3h0M444.4 193.3h0M516.7 87.3h0M475.5 134.9h0M501.0 163.1h0M478.4 186.4h0M532.6 72.9h0M441.2 229.7h0M481.1 172.2h0M522.9 77.8h0M451.7 177.9h0M430.3 200.8h0M452.1 183.2h0M526.0 83.9h0M436.7 215.3h0M528.4 55.7h0M512.4 85.5h0M540.2 67.3h0M497.6 146.5h0M524.7 154.9h0M458.3 235.7h0M455.9 185.7h0M441.1 184.6h0M471.8 144.2h0M479.8 153.1h0M523.7 70.4h0M442.3 177.2h0M491.5 140.3h0M430.1 219.9h0M489.1 89.4h0M486.8 94.1h0M497.5 81.3h0M523.3 146.0h0M455.3 151.0h0M448.0 220.3h0M496.4 176.4h0M439.8 196.1h0M550.2 34.2h0M513.2 76.0h0M463.4 132.5h0M491.1 139.0h0M485.1 191.0h0M462.3 212.7h0M446.2 162.1h0M489.0 130.8h0M499.3 131.7h0M476.3 149.0h0M493.3 120.3h0M453.3 230.1h0M516.3 133.0h0M435.6 180.0h0M463.9 153.5h0M484.0 134.3h0M507.2 147.3h0M510.0 158.8h0M444.3 200.4h0M529.3 116.5h0M518.6 88.7h0M519.4 152.6h0M471.5 154.1h0M437.9 218.5h0M485.7 130.4h0M458.6 178.7h0M474.5 123.6h0M447.9 165.4h0M481.3 144.9h0M546.0 68.3h0M454.4 150.0h0M535.3 72.8h0M488.9 167.0h0M437.5 229.3h0M498.4 162.3h0M451.6 196.0h0M509.2 158.4h0M497.6 148.9h0M455.7 182.7h0M439.1 211.4h0M448.5 212.5h0M489.8 137.4h0M533.9 57.4h0M523.1 99.0h0M446.6 187.0h0M451.4 162.8h0M454.1 167.7h0M485.7 106.2h0M464.5 163.3h0M464.6 147.6h0M458.0 177.9h0M528.5 81.6h0M469.2 219.1h0M481.9 191.9h0M519.9 88.6h0M525.3 44.1h0M517.4 135.4h0M516.3 100.2h0M453.9 143.0h0M498.0 84.5h0M493.8 163.3h0M514.4 153.4h0M437.6 203.4h0M458.5 151.0h0M478.5 198.5h0M543.2 27.0h0M438.8 208.1h0M438.6 174.3h0M451.9 170.9h0M436.4 227.9h0M503.2 76.6h0M512.2 86.0h0M443.7 204.5h0M459.4 143.3h0M533.8 73.0h0M430.1 223.2h0M429.9 198.0h0M502.5 188.3h0M488.1 153.9h0M521.0 148.0h0M514.0 65.6h0M461.6 134.1h0M442.8 197.4h0M463.5 151.7h0M465.3 187.4h0M558.0 42.0h0M425.9 222.3h0M504.0 163.7h0M525.4 60.3h0M453.3 155.7h0M445.0 157.3h0M504.8 145.5h0M473.8 130.5h0M497.9 114.2h0M446.1 228.1h0M525.2 75.6h0M476.0 143.4h0M526.8 68.6h0M511.0 62.4h0M445.9 174.1h0M459.0 153.9h0M455.9 157.2h0M493.2 154.9h0M433.9 179.3h0M516.4 134.4h0M475.5 154.2h0M511.1 103.7h0M540.9 48.6h0M451.8 178.6h0M480.3 125.9h0M497.3 97.6h0M480.1 173.7h0M502.6 106.3h0M481.8 170.5h0M505.3 110.0h0M486.5 125.2h0M440.2 173.6h0M481.5 128.3h0M462.2 159.8h0M485.5 162.8h0M513.3 92.9h0M430.5 195.6h0M460.1 153.1h0M495.8 109.9h0M483.0 184.8h0M503.3 167.9h0M441.0 226.6h0M478.8 169.6h0M438.5 179.8h0M489.0 144.7h0M469.9 134.6h0M486.4 130.3h0M491.8 162.2h0M456.7 198.2h0M466.6 139.4h0M502.5 128.8h0M472.6 143.4h0M510.1 83.8h0M483.5 98.7h0M450.8 220.2h0M549.8 65.8h0M495.3 115.1h0M453.7 216.1h0M502.2 72.9h0M469.3 170.0h0M476.5 143.9h0M447.5 173.5h0M459.5 174.6h0M445.9 203.4h0M558.6 30.7h0M472.5 133.3h0M434.2 228.0h0M559.6 46.3h0M540.8 75.3h0M435.7 228.1h0M526.7 153.1h0M495.8 161.2h0M466.4 209.0h0M437.6 226.8h0M477.6 168.8h0M482.3 203.7h0M487.2 218.0h0M443.6 205.2h0M509.6 169.1h0M448.3 197.6h0M497.6 105.3h0M456.1 185.9h0M523.2 82.6h0M449.4 230.1h0M545.2 72.9h0M446.8 203.2h0M474.4 182.3h0M497.1 78.8h0M454.1 166.3h0M477.3 158.1h0M441.0 189.7h0M450.0 230.4h0M481.2 125.6h0M428.1 203.4h0M465.5 154.9h0M454.6 211.0h0M469.2 199.1h0M485.2 202.2h0M514.0 83.7h0M452.6 170.5h0M537.2 73.9h0M466.7 193.2h0M442.2 207.2h0M445.4 190.5h0M442.8 178.3h0M456.5 230.9h0M451.2 191.0h0M482.0 166.3h0M520.0 88.5h0M478.4 171.2h0M463.0 160.0h0M456.0 176.8h0M532.0 68.8h0M496.9 123.7h0M484.8 139.4h0M442.7 163.2h0M487.7 160.4h0M554.8 56.1h0M440.7 161.0h0M519.6 74.9h0M530.8 36.1h0M473.5 120.5h0M430.6 215.2h0M498.6 110.6h0M446.1 199.5h0M440.2 218.9h0M450.3 160.6h0M522.8 75.3h0M427.4 203.7h0M461.0 196.7h0M499.6 174.7h0M508.6 78.6h0M441.1 204.8h0M462.0 147.5h0M442.4 166.8h0M443.5 196.2h0M452.7 211.9h0M544.6 51.5h0M518.1 62.7h0M458.2 181.2h0M476.3 141.1h0M488.6 127.4h0M528.8 68.5h0M511.2 142.9h0M466.1 136.7h0M463.6 160.4h0M459.4 199.8h0M451.8 225.0h0M467.1 221.9h0M439.2 195.1h0M511.2 166.4h0M470.8 217.2h0M483.1 140.4h0M524.4 70.5h0M559.8 28.1h0M497.4 174.4h0M442.8 207.3h0M448.8 176.8h0M467.8 154.7h0M473.4 154.8h0M513.5 167.0h0M510.9 120.1h0M459.9 180.3h0M495.9 106.6h0M469.3 175.3h0M490.6 187.2h0M502.4 87.4h0M473.5 169.8h0M489.3 132.2h0M462.1 178.2h0M505.8 84.6h0M485.7 154.9h0M517.7 143.3h0M506.6 157.7h0M499.3 98.7h0M443.7 195.9h0M476.7 146.2h0M443.3 205.2h0M504.4 143.6h0M429.3 197.1h0M527.4 97.5h0M496.8 86.5h0M493.2 117.1h0M442.3 176.1h0M435.6 213.3h0M503.0 98.6h0M440.9 227.1h0M467.3 148.9h0M483.3 151.8h0M506.4 108.7h0M467.4 141.2h0M551.6 62.9h0M514.8 88.0h0M524.0 141.3h0M486.0 197.2h0M479.9 151.6h0M491.7 210.6h0M494.8 206.4h0M450.8 165.0h0M490.5 132.6h0M436.5 216.6h0M498.9 149.7h0M438.2 229.3h0M481.2 115.2h0M441.4 222.1h0M536.8 70.1h0M526.4 48.6h0M484.5 218.4h0M444.9 190.2h0M466.7 142.4h0M430.2 226.3h0M545.1 65.8h0M494.9 102.6h0M473.0 144.9h0M436.8 199.8h0M516.9 150.0h0M519.9 117.5h0M437.0 192.2h0M494.1 169.7h0M440.5 225.8h0M472.3 191.7h0M472.1 215.2h0M516.4 101.4h0M466.1 137.6h0M504.1 89.6h0M489.6 165.8h0M506.9 122.5h0M497.4 161.2h0M562.3 60.4h0M478.6 192.2h0M481.3 116.8h0M462.9 167.5h0M438.1 169.4h0M535.0 84.3h0M455.2 164.1h0M474.2 154.0h0M485.3 132.0h0M471.5 144.9h0M456.3 181.7h0M517.1 64.4h0M470.1 184.0h0M476.4 189.9h0M503.8 110.3h0M512.0 94.6h0M431.8 221.7h0M485.5 159.7h0M439.5 225.1h0M517.2 87.3h0M516.2 157.2h0M522.7 115.3h0M480.7 141.0h0M532.1 66.4h0M508.7 152.0h0M537.5 58.2h0M538.7 70.3h0M492.9 118.5h0M489.9 150.3h0M513.5 119.1h0M443.6 185.0h0M435.9 207.0h0M517.8 91.8h0M466.0 148.4h0M453.3 174.8h0M518.1 70.2h0M514.2 154.8h0M515.6 153.2h0M513.1 154.3h0M513.8 57.4h0M466.8 232.9h0M434.7 194.4h0M503.4 160.2h0M512.1 110.8h0M460.6 137.1h0M453.8 166.7h0M482.9 137.0h0M459.7 172.2h0M489.0 147.7h0M452.7 176.4h0M501.3 90.5h0M558.8 39.2h0M489.9 130.2h0M489.0 162.1h0M458.5 158.4h0M437.2 187.5h0M545.5 43.7h0M452.5 155.5h0M476.8 138.1h0M543.9 59.3h0M482.2 158.2h0M450.6 152.3h0M504.2 172.2h0M489.1 209.6h0M434.7 187.7h0M462.1 202.2h0M462.9 153.7h0M477.9 194.5h0M438.8 188.8h0M457.6 152.0h0M491.9 148.7h0M455.2 163.0h0M465.0 195.0h0M489.2 120.2h0M501.6 99.6h0M480.9 149.2h0M497.2 91.6h0M462.7 210.6h0M484.3 215.1h0M505.9 81.0h0M451.0 205.3h0M457.8 192.7h0M469.4 147.6h0M451.5 230.3h0M477.4 186.1h0M529.0 55.4h0M441.6 210.4h0M466.9 149.5h0M443.3 213.2h0M458.8 150.0h0M541.0 76.5h0M471.8 169.8h0M483.8 126.7h0M477.5 159.9h0M423.8 220.6h0M527.1 63.7h0M448.0 174.9h0M500.7 97.6h0M517.4 117.6h0M469.7 206.6h0M520.6 131.5h0M469.8 167.1h0M453.4 174.6h0M433.7 189.9h0M477.8 201.6h0M439.6 196.2h0M440.8 208.6h0M476.7 191.3h0M456.7 143.9h0M468.7 145.4h0M463.2 170.0h0M462.4 192.6h0M509.9 147.4h0M467.2 209.7h0M468.5 229.5h0M510.3 168.0h0M528.8 75.0h0M484.9 132.0h0M540.5 59.6h0M516.5 126.1h0M522.5 49.9h0M461.5 154.7h0M447.4 228.3h0M517.0 93.7h0M447.2 175.5h0M458.5 164.0h0M457.5 178.6h0M432.7 208.3h0M444.9 169.1h0M463.4 144.3h0M451.2 231.7h0M452.0 145.4h0M504.4 141.1h0M443.5 214.6h0M457.7 140.6h0M434.5 196.8h0M518.2 108.9h0M472.3 134.5h0M532.6 59.5h0M491.9 149.4h0M477.2 184.3h0M453.7 183.9h0M427.2 202.8h0M534.8 50.3h0M495.4 113.7h0M473.0 152.7h0M512.0 171.1h0M471.9 150.4h0M435.8 202.5h0M548.3 59.6h0M442.2 221.0h0M447.9 156.1h0M498.4 162.1h0M464.5 215.7h0M469.0 194.0h0M522.6 102.3h0M542.7 69.1h0M481.2 143.8h0M499.2 182.1h0M505.8 170.4h0M482.5 125.2h0M431.8 205.4h0M541.4 78.2h0M457.8 176.1h0M521.7 88.4h0M468.5 207.9h0M436.8 218.2h0M463.9 203.6h0M488.6 103.3h0M439.6 208.7h0M475.4 136.5h0M505.4 162.5h0M469.6 153.7h0M439.4 225.4h0M435.3 195.9h0M458.5 149.5h0M438.2 223.9h0M513.3 110.6h0M475.4 149.2h0M540.3 50.9h0M441.2 198.9h0M527.6 157.0h0M464.3 167.3h0M440.2 232.3h0M517.3 80.0h0M498.7 150.3h0M510.2 66.9h0M438.7 211.9h0M481.0 114.6h0M545.7 40.7h0M528.8 52.2h0M431.2 191.6h0M463.1 155.0h0M505.5 154.6h0M526.2 155.6h0M449.8 229.8h0M525.5 71.8h0M466.4 169.2h0M466.6 133.5h0M511.4 106.4h0M527.9 93.8h0M468.5 230.6h0M451.3 172.1h0M505.7 110.8h0M443.8 180.9h0M545.8 57.7h0M470.9 151.3h0M485.7 118.4h0M493.6 148.7h0M532.4 44.8h0M440.3 169.9h0M442.2 198.9h0M479.1 144.7h0M527.1 143.6h0M439.8 231.7h0M533.9 34.4h0M447.3 220.1h0M491.3 97.2h0M448.7 210.2h0M550.8 33.3h0M448.2 165.9h0M476.5 147.4h0M460.3 151.0h0M544.5 76.3h0M514.7 77.8h0M507.4 134.5h0M440.2 212.5h0M438.5 228.2h0M447.1 206.9h0M472.9 140.6h0M481.1 159.5h0M494.3 146.6h0M431.0 229.6h0M516.2 169.8h0M428.2 211.2h0M431.0 222.8h0M466.3 161.4h0M459.2 145.0h0M482.3 175.3h0M493.3 193.4h0M531.2 95.3h0M435.4 198.6h0M537.0 79.5h0M442.1 223.8h0M468.0 228.0h0M484.2 148.1h0M502.6 106.7h0M445.2 192.3h0M442.8 173.1h0M502.6 70.3h0M506.6 95.0h0M448.2 201.7h0M496.6 186.5h0M501.3 169.0h0M476.4 219.4h0M478.2 182.9h0M431.5 227.6h0M434.7 210.3h0M500.0 100.5h0M487.2 125.3h0M428.0 214.5h0M431.8 202.0h0M460.6 134.1h0M450.0 227.6h0M459.8 190.1h0M425.0 227.8h0M479.3 181.3h0M461.5 180.5h0M526.2 106.1h0M486.7 119.6h0M499.4 121.1h0M485.2 210.9h0M516.8 167.4h0M486.7 164.0h0M528.9 70.1h0M448.2 149.9h0M469.7 138.3h0M447.1 226.8h0M479.5 165.0h0M461.9 135.0h0M457.1 192.6h0M514.7 119.7h0M483.8 143.5h0M449.8 147.4h0M513.4 91.9h0M504.3 89.4h0M427.5 189.3h0M469.8 144.4h0M472.3 162.5h0M436.1 203.8h0M447.0 156.5h0M465.0 170.3h0M450.6 205.8h0M472.9 222.7h0M533.0 97.2h0M528.2 54.5h0M479.9 231.2h0M468.5 145.2h0M501.8 143.7h0M528.6 66.1h0M459.1 234.7h0M503.8 122.9h0M518.5 68.4h0M497.8 97.0h0M507.2 81.9h0M505.7 96.1h0M474.0 151.7h0M489.3 116.3h0M477.6 129.5h0M545.1 56.6h0M498.4 151.2h0M435.7 221.2h0M461.7 164.6h0M507.9 111.8h0M447.0 192.9h0M467.0 156.8h0M504.0 77.5h0M479.5 218.3h0M514.2 66.4h0M495.2 118.1h0M466.9 149.6h0M457.7 163.8h0M501.6 95.1h0M518.3 162.6h0M493.1 160.5h0M440.9 213.9h0M474.8 142.1h0M479.4 149.2h0M483.9 187.8h0M442.3 170.5h0M472.3 130.1h0M445.5 204.6h0M452.7 158.5h0M452.7 155.0h0M545.8 36.7h0M461.5 185.5h0M456.7 211.8h0M474.8 211.6h0M455.0 230.3h0M480.0 204.0h0M528.2 100.3h0M441.4 219.5h0M533.3 83.0h0M460.4 206.8h0M527.1 82.2h0M430.3 205.9h0M427.5 214.2h0M434.5 212.4h0M461.0 185.9h0M479.1 210.3h0M502.3 119.3h0M506.9 156.6h0M462.3 169.3h0M505.3 76.3h0M544.0 72.5h0M459.7 154.9h0M468.7 165.2h0M460.6 220.5h0M497.6 145.2h0M465.3 166.9h0M493.5 113.3h0M464.4 217.2h0M553.0 35.7h0M510.3 139.1h0M433.1 211.6h0M457.8 196.7h0M482.0 178.1h0M482.3 136.3h0M549.3 52.3h0M484.4 138.4h0M518.7 65.5h0M447.6 209.1h0M441.5 216.3h0M468.1 150.2h0M437.6 177.1h0M483.4 113.9h0M456.7 190.2h0M508.9 137.6h0M484.4 159.9h0M523.5 127.8h0M430.9 209.8h0M438.6 181.1h0M471.4 144.0h0M426.3 226.4h0M469.3 128.1h0M472.4 140.8h0M482.0 211.4h0M518.5 145.6h0M427.4 220.3h0M475.3 131.8h0M501.5 88.0h0M467.7 137.3h0M488.0 148.1h0M439.5 216.4h0M556.3 48.6h0M493.9 149.4h0M425.3 214.0h0M432.4 185.1h0M448.5 203.7h0M446.2 191.9h0M502.5 117.4h0M476.9 127.0h0M456.7 176.4h0M450.4 151.3h0M436.6 188.4h0M522.5 100.1h0M457.8 192.5h0M434.4 225.0h0M444.1 161.0h0M492.7 119.3h0M447.7 182.9h0M475.7 127.4h0M465.7 170.1h0M512.6 140.7h0M443.5 174.7h0M462.2 155.5h0M507.2 132.5h0M512.5 149.1h0M519.6 112.2h0M516.1 88.2h0M497.8 103.8h0M521.6 76.8h0M473.0 156.5h0M498.8 106.5h0M481.1 188.6h0M512.7 64.2h0M487.6 153.2h0M440.4 218.9h0M460.4 175.1h0M462.3 197.1h0M443.6 168.8h0M483.3 226.1h0M501.3 134.2h0M442.0 214.7h0M493.2 141.8h0M536.3 92.1h0M470.0 172.1h0M475.4 153.8h0M485.8 143.8h0M480.6 188.2h0M484.8 129.4h0M465.9 181.3h0M500.4 84.1h0M446.1 153.3h0M497.8 105.3h0M495.0 117.2h0M505.3 110.1h0M525.2 59.7h0M508.4 144.8h0M485.8 154.0h0M456.3 163.2h0M443.9 173.4h0M432.0 226.7h0M511.0 92.6h0M516.4 139.9h0M484.6 117.2h0M467.1 162.5h0M471.7 129.4h0M520.8 88.0h0M519.4 101.3h0M463.6 213.7h0M440.3 222.6h0M497.1 90.4h0M548.3 57.4h0M488.4 94.2h0M495.0 130.6h0M444.7 184.4h0M443.8 229.5h0M465.0 226.7h0M519.1 154.5h0M480.7 178.2h0M535.4 91.6h0M437.1 199.6h0M549.1 43.8h0M441.5 229.1h0M448.4 150.6h0M520.0 92.8h0M432.8 194.2h0M461.0 143.6h0M463.6 163.8h0M434.6 187.3h0M473.8 136.6h0M490.3 115.2h0M486.3 133.5h0M484.8 156.4h0M423.3 207.9h0M450.6 213.1h0M484.3 137.3h0M462.5 197.4h0M541.7 45.7h0M526.9 68.5h0M493.0 187.3h0M480.8 109.4h0M461.2 178.3h0M441.0 227.8h0M437.3 226.1h0M461.3 192.5h0M521.2 166.6h0M507.4 64.3h0M473.3 149.4h0M479.2 132.2h0M466.4 169.6h0M448.4 204.2h0M470.1 177.7h0M510.3 70.4h0M506.3 110.7h0M428.8 229.6h0M489.5 99.6h0M451.4 228.4h0M524.1 83.0h0M495.6 99.3h0M455.9 146.9h0M522.5 77.7h0M545.8 32.9h0M501.2 100.4h0M516.2 161.3h0M484.7 166.7h0M503.3 171.9h0M513.2 88.6h0M477.2 203.7h0M471.0 155.6h0M479.8 163.0h0M432.0 221.3h0M455.2 198.3h0M442.8 200.6h0M491.0 107.9h0M495.8 102.4h0M436.5 225.7h0M521.9 164.8h0M461.1 230.9h0M473.4 146.0h0M501.6 163.8h0M502.8 83.9h0M457.8 193.3h0M446.8 171.9h0M501.8 73.4h0M527.7 139.9h0M491.5 187.7h0M456.8 215.5h0M443.6 217.8h0M442.6 176.3h0M459.6 186.7h0M522.7 159.6h0M522.5 138.4h0M480.9 117.0h0M499.8 165.1h0M501.4 94.4h0M478.3 164.5h0M478.7 138.3h0M428.5 219.8h0M497.8 103.5h0M475.2 207.2h0M492.1 120.6h0M537.4 69.6h0M513.6 128.8h0M465.6 149.9h0M482.0 126.0h0M448.2 205.3h0M464.3 140.5h0M516.2 84.0h0M510.2 115.5h0M518.8 94.3h0M438.3 230.9h0M495.4 88.1h0M440.2 205.0h0M472.7 225.0h0M457.4 159.8h0M553.6 28.6h0M454.6 210.6h0M511.0 109.5h0M508.4 102.5h0M492.2 151.9h0M478.7 120.7h0M468.0 135.8h0M533.0 42.6h0M454.5 177.7h0M534.6 50.5h0M537.7 70.4h0M457.2 204.8h0M476.8 209.4h0M435.3 216.8h0M456.4 180.5h0M487.3 118.9h0M432.9 228.1h0M502.2 175.5h0M482.3 133.7h0M511.8 148.7h0M527.6 67.0h0M430.1 193.8h0M477.0 166.5h0M471.6 203.0h0M541.7 89.0h0M458.7 154.1h0M499.4 158.7h0M513.4 110.0h0M444.7 167.9h0M479.6 140.8h0M486.9 106.7h0M505.4 75.5h0M444.9 186.8h0M438.2 214.4h0M476.3 223.3h0M439.7 191.1h0M452.9 150.5h0M525.0 70.2h0M445.7 157.8h0M421.6 219.7h0M491.9 168.6h0M494.8 176.6h0M511.8 165.9h0M524.7 64.5h0M473.6 183.2h0M518.2 135.7h0M441.6 231.0h0M483.6 124.4h0M441.1 161.4h0M531.2 92.4h0M476.3 157.9h0M478.6 162.8h0M521.7 93.2h0M463.8 151.2h0M451.6 193.5h0M490.1 112.4h0M445.3 229.8h0M464.5 153.3h0M538.1 65.3h0M569.9 29.1h0M508.7 84.2h0M500.3 155.4h0M518.8 127.7h0M444.6 205.5h0M479.0 136.6h0M456.2 171.7h0M456.6 174.5h0M432.2 184.2h0M557.4 24.9h0M493.5 165.5h0M467.8 211.4h0M500.5 133.5h0M422.2 213.5h0M491.3 102.7h0M491.3 194.1h0M448.9 187.2h0M537.0 88.8h0M524.5 66.8h0M428.3 216.9h0M430.2 206.6h0M478.3 126.0h0M435.7 225.9h0M442.4 174.5h0M490.4 215.3h0M477.3 207.7h0M465.1 151.9h0M471.9 187.1h0M544.3 60.7h0M492.7 134.6h0M420.9 219.0h0M482.0 157.2h0M436.3 202.8h0M519.3 122.8h0M498.1 109.1h0M490.0 101.8h0M460.6 185.2h0M426.6 209.3h0M447.4 167.0h0M470.5 128.9h0M470.6 144.1h0M527.8 150.9h0M445.5 175.3h0M506.1 126.7h0M530.2 153.4h0M494.5 156.6h0M542.8 38.5h0M529.0 76.6h0M515.7 82.0h0M461.9 136.2h0M508.6 98.7h0M426.3 197.0h0M506.7 185.9h0M489.3 167.8h0M485.1 134.0h0M459.9 169.3h0M460.4 156.8h0M536.1 71.8h0M490.3 145.5h0M457.0 231.7h0M452.8 210.1h0M517.2 116.6h0M517.7 123.2h0M426.1 216.7h0M439.2 228.2h0M485.0 112.2h0M430.6 184.3h0M498.4 125.4h0M470.6 169.7h0M484.0 126.4h0M497.6 76.6h0M541.4 66.0h0M481.2 219.8h0M501.5 125.0h0M432.0 200.7h0M479.0 145.9h0M483.3 192.2h0M498.5 82.7h0M497.4 111.6h0M439.8 184.8h0M459.9 159.5h0M521.7 123.6h0M471.8 142.2h0M516.7 116.5h0M476.0 151.1h0M436.8 223.1h0M483.0 119.9h0M454.2 188.7h0M447.0 221.3h0M424.6 202.7h0M445.7 161.3h0M508.1 138.0h0M435.0 191.9h0M529.9 152.9h0M508.5 69.1h0M491.4 136.6h0M472.1 146.9h0M489.1 106.0h0M477.6 179.0h0M449.0 154.7h0M490.0 174.6h0M455.4 173.4h0M501.0 172.0h0M426.3 217.6h0M481.0 214.7h0M434.7 219.0h0M508.2 124.1h0M522.7 96.4h0M457.1 169.1h0M429.3 201.6h0M447.4 184.6h0M512.1 93.8h0M487.3 193.3h0M504.5 144.5h0M434.9 190.1h0M468.1 147.0h0M461.3 228.1h0M482.3 190.3h0M446.5 202.0h0M511.1 129.9h0M482.5 117.0h0M527.7 38.3h0M566.3 40.0h0M469.4 229.7h0M449.3 234.3h0M450.7 193.7h0M455.4 229.9h0M464.0 157.4h0M441.6 158.2h0M460.2 152.8h0M482.0 146.6h0M428.4 204.7h0M459.9 138.0h0M516.3 92.0h0M442.5 212.4h0M459.4 167.5h0M469.5 172.0h0M565.0 24.0h0M465.0 156.1h0M530.1 58.8h0M519.4 151.4h0M454.5 179.5h0M453.8 225.8h0M460.2 139.4h0M473.9 165.8h0M466.5 202.8h0M482.0 113.2h0M474.2 148.4h0M424.2 220.3h0M476.3 203.4h0M506.0 173.7h0M504.9 160.3h0M518.4 156.9h0M475.6 190.1h0M455.7 164.9h0M512.1 109.5h0M451.5 210.4h0M530.7 78.2h0M512.4 148.9h0M477.4 210.6h0M454.3 207.9h0M521.8 81.5h0M462.5 167.6h0M432.4 209.0h0M478.0 170.8h0M447.0 189.5h0M432.9 229.6h0M473.4 124.5h0M432.8 189.3h0M535.1 72.2h0M471.8 228.5h0M442.1 176.2h0M440.5 195.4h0M547.4 27.9h0M543.5 41.6h0M462.6 158.3h0M466.0 151.0h0M527.2 51.8h0M535.5 40.8h0M427.6 219.8h0M465.0 200.7h0M456.8 188.7h0M524.3 62.1h0M458.7 220.0h0M484.6 158.6h0M454.8 213.7h0M476.3 130.0h0M555.7 56.1h0M481.4 154.4h0M529.0 51.9h0M485.0 109.4h0M463.7 211.3h0M523.7 70.8h0M459.3 160.8h0M536.9 59.7h0M486.9 115.4h0M498.7 116.4h0M487.3 98.8h0M487.1 171.7h0M501.6 85.5h0M452.9 148.9h0M498.3 166.6h0M517.0 130.7h0M466.9 205.4h0M456.3 189.5h0M559.5 37.3h0M518.3 161.9h0M485.2 111.8h0M489.4 123.0h0M491.5 109.9h0M466.8 228.9h0M514.0 111.4h0M547.3 61.8h0M530.2 69.1h0M449.4 211.8h0M435.7 199.5h0M482.6 142.2h0M478.9 143.4h0M492.1 188.6h0M508.8 90.2h0M519.8 113.8h0M450.3 154.8h0M497.8 101.4h0M467.8 141.3h0M493.8 96.3h0M464.2 201.2h0M468.7 162.5h0M448.2 171.6h0M445.9 185.2h0M512.7 105.3h0M499.2 106.3h0M499.7 150.7h0M472.8 147.2h0M455.3 217.2h0M516.1 80.2h0M455.1 198.6h0M448.8 228.5h0M447.4 177.8h0M526.1 63.3h0M432.4 221.7h0M445.3 193.2h0M508.2 143.8h0M464.3 176.9h0M472.1 226.4h0M518.2 133.5h0M437.9 170.9h0M441.8 208.1h0M445.0 196.5h0M484.4 120.5h0M470.6 129.3h0M512.6 115.9h0M455.6 202.9h0M502.4 97.4h0M487.9 145.9h0M442.3 166.1h0M488.5 133.9h0M536.4 55.9h0M427.9 213.5h0M494.0 132.3h0M437.4 181.4h0M444.2 163.5h0M503.7 96.2h0M440.0 197.5h0M501.9 70.0h0M475.1 151.7h0M553.0 25.1h0M497.0 139.6h0M508.5 121.5h0M517.1 104.0h0M529.2 148.1h0M476.3 129.0h0M445.9 197.1h0M450.7 155.3h0M467.4 161.9h0M487.1 146.1h0M461.4 201.9h0M458.6 230.6h0M506.3 79.2h0M456.8 188.6h0M496.1 118.4h0M494.8 116.4h0M542.7 56.6h0M477.4 158.9h0M495.8 151.2h0M517.4 64.6h0M446.1 199.2h0M508.3 127.2h0M505.8 92.6h0M456.2 224.0h0M495.4 140.2h0M493.9 116.9h0M457.8 181.2h0M492.0 138.8h0M491.2 166.7h0M448.0 197.9h0M464.6 207.8h0M467.0 144.0h0M544.8 82.3h0M489.3 184.3h0M472.5 151.7h0M518.6 101.3h0M429.0 215.4h0M515.0 117.7h0M525.2 92.0h0M505.4 95.0h0M476.5 122.3h0M469.7 164.1h0M462.4 214.5h0M512.4 148.2h0M495.9 141.7h0M527.7 143.0h0M504.9 81.8h0M541.5 49.2h0M509.3 114.0h0M514.5 66.7h0M487.7 128.4h0M488.7 178.5h0M503.4 72.6h0M521.1 145.9h0M495.5 122.8h0M521.6 68.9h0M490.8 131.2h0M463.4 155.2h0M464.2 224.8h0M487.5 217.1h0M486.0 131.9h0M468.5 156.4h0M471.2 215.3h0M509.9 152.9h0M446.6 208.9h0M553.6 58.1h0M534.9 78.7h0M429.5 213.4h0M489.1 108.1h0M429.9 207.2h0M455.3 167.2h0M522.4 80.8h0M528.5 70.3h0M489.1 134.3h0M447.6 193.9h0M441.3 160.2h0M464.6 201.3h0M474.0 145.1h0M432.9 189.6h0M474.2 116.2h0M509.3 65.6h0M448.2 201.0h0M474.4 139.0h0M452.9 189.9h0M508.5 181.5h0M436.0 228.3h0M466.3 141.0h0M442.3 214.1h0M491.5 165.0h0M450.7 147.4h0M429.0 219.8h0M488.5 212.7h0M523.2 147.3h0M484.1 110.1h0M494.6 137.3h0M518.5 93.1h0M505.8 106.4h0M489.2 117.9h0M484.3 209.0h0M488.4 151.7h0M473.3 159.0h0M483.0 220.2h0M458.4 166.3h0M490.7 167.5h0M519.0 132.2h0M452.2 155.0h0M454.5 175.2h0M519.7 92.3h0M429.3 200.6h0M433.4 189.4h0M451.0 168.0h0M433.3 223.4h0M453.1 182.6h0M521.3 97.4h0M455.9 219.1h0M517.6 132.8h0M436.3 199.7h0M484.3 120.0h0M458.4 177.4h0M519.8 138.3h0M442.4 184.2h0M460.6 170.3h0M425.9 213.6h0M449.1 213.6h0M499.1 156.2h0M487.6 119.9h0M455.8 172.8h0M450.5 218.3h0M450.2 215.9h0M431.2 202.9h0M457.8 204.1h0M526.9 112.6h0M447.5 191.1h0M446.9 229.8h0M445.0 187.0h0M519.6 71.3h0M435.7 220.8h0M437.1 216.6h0M505.2 153.1h0M508.7 88.2h0M478.7 192.4h0M488.6 131.2h0M457.6 166.0h0M513.4 89.7h0M481.2 127.3h0M480.0 211.0h0M531.6 50.4h0M435.7 196.8h0M518.0 129.5h0M450.4 211.4h0M460.0 154.2h0M501.3 81.0h0M463.1 158.3h0M489.0 157.4h0M482.5 178.9h0M502.8 125.4h0M435.1 225.6h0M497.2 127.0h0M493.3 154.7h0M446.5 166.6h0M533.5 86.8h0M483.6 204.1h0M442.7 204.9h0M502.2 105.1h0M469.9 155.3h0M447.8 223.2h0M466.9 170.1h0M477.4 127.5h0M445.3 196.0h0M455.0 206.5h0M512.4 130.3h0M435.5 221.5h0M431.8 218.8h0M445.1 174.8h0M455.6 152.8h0M441.6 208.2h0M493.1 148.9h0M458.5 163.1h0M444.8 178.5h0M541.2 47.5h0M455.1 193.9h0M440.5 201.4h0M517.0 157.8h0M487.0 166.2h0M500.8 157.2h0M521.2 110.1h0M463.0 151.3h0M485.4 116.4h0M527.8 63.4h0M529.7 78.9h0M489.0 127.5h0M438.3 188.7h0M518.4 62.0h0M434.8 186.8h0M447.7 237.2h0M470.8 130.8h0M526.1 120.4h0M441.6 191.8h0M495.5 160.5h0M500.7 124.0h0M507.1 146.9h0M478.4 124.0h0M491.6 159.7h0M515.3 82.8h0M437.2 190.4h0M522.2 50.4h0M512.3 139.6h0M446.0 223.1h0M432.7 195.3h0M523.0 135.3h0M505.3 175.3h0M513.9 114.6h0M444.4 209.5h0M457.3 163.0h0M456.7 150.0h0M472.3 121.4h0M453.4 229.5h0M474.0 156.4h0M460.7 222.2h0M439.0 200.3h0M471.7 184.1h0M484.3 207.4h0M460.9 154.4h0M441.3 211.3h0M482.7 142.6h0M440.7 207.8h0M530.4 97.0h0M492.1 151.3h0M439.7 217.1h0M428.6 210.2h0M492.1 102.3h0M455.6 215.4h0M458.9 231.4h0M461.3 198.3h0M478.9 114.6h0M495.3 162.1h0M447.1 220.1h0M460.0 185.2h0M463.3 191.4h0M504.3 118.6h0M467.2 174.0h0M477.1 140.2h0M520.0 110.5h0M522.5 142.5h0M488.6 207.3h0M455.6 147.8h0M499.0 98.8h0M423.6 214.8h0M549.6 38.7h0M481.2 125.0h0M458.7 176.8h0M509.3 156.3h0M494.2 180.9h0M501.3 183.2h0M556.1 58.9h0M499.6 155.4h0M445.6 233.3h0M472.5 214.9h0M478.7 167.5h0M519.6 73.7h0M475.2 126.2h0M527.4 153.8h0M505.7 187.3h0M465.7 142.5h0M506.8 93.1h0M444.0 163.6h0M446.5 219.0h0M474.7 173.4h0M448.3 170.7h0M471.2 151.1h0M526.3 63.0h0M530.2 84.8h0M480.0 136.5h0M479.5 141.7h0M435.3 208.0h0M476.4 221.6h0M509.4 132.2h0M435.7 237.1h0M438.6 215.4h0M467.6 224.3h0M437.1 177.3h0M507.2 91.2h0M483.7 166.2h0M432.1 231.4h0M434.4 218.3h0M504.8 167.4h0M468.7 164.7h0M467.4 140.6h0M446.5 183.0h0M449.1 197.7h0M496.6 165.0h0M511.0 112.9h0M502.7 70.4h0M456.3 179.1h0M434.5 218.8h0M464.9 164.7h0M433.6 213.7h0M484.2 193.9h0M440.7 200.7h0M442.5 227.6h0M501.7 137.0h0M506.3 99.2h0M513.8 91.0h0M478.1 150.4h0M488.9 131.1h0M469.6 157.3h0M437.6 207.5h0M434.6 218.6h0M499.7 103.2h0M458.8 173.9h0M466.6 150.4h0M510.7 174.6h0M511.6 94.1h0M464.9 171.7h0M490.0 187.8h0M505.9 148.8h0M485.2 158.9h0M491.0 127.2h0M457.4 175.8h0M471.1 148.1h0M470.2 185.6h0M497.9 147.7h0M476.5 185.0h0M435.1 186.5h0M424.5 223.6h0M519.5 62.7h0M550.9 55.9h0M531.7 34.8h0M500.2 130.5h0M482.2 164.3h0M447.1 181.3h0M513.1 75.7h0M493.4 125.0h0M452.5 185.9h0M504.1 94.8h0M489.3 217.3h0M438.1 228.4h0M494.7 145.5h0M473.8 230.6h0M495.4 104.3h0M476.4 137.4h0M472.7 223.3h0M477.8 218.6h0M454.5 162.9h0M490.7 98.3h0M499.9 100.7h0M542.7 80.4h0M466.5 230.1h0M468.8 160.2h0M464.1 167.2h0M483.7 130.1h0M469.3 131.5h0M491.9 111.4h0M472.9 148.6h0M492.3 128.8h0M521.4 135.6h0M454.5 194.9h0M526.1 147.7h0M520.4 150.4h0M456.5 180.4h0M452.1 171.3h0M478.7 119.6h0M472.6 145.5h0M539.5 68.9h0M458.4 154.7h0M479.4 180.3h0M457.7 190.2h0M488.1 154.7h0M513.3 130.4h0M509.2 129.8h0M488.0 132.6h0M474.7 194.1h0M507.2 81.0h0M549.3 64.3h0M517.2 146.9h0M460.2 184.4h0M460.2 179.1h0M555.4 63.8h0M441.1 158.8h0M451.2 172.2h0M482.4 176.0h0M497.4 136.9h0M501.5 114.4h0M475.2 120.5h0M479.3 147.4h0M441.4 221.5h0M507.7 96.3h0M506.2 130.9h0M455.5 172.3h0M445.3 224.7h0M436.3 211.2h0M495.3 137.3h0M495.8 110.0h0M447.5 168.9h0M499.8 93.9h0M504.8 103.9h0M504.6 154.6h0M515.0 97.9h0M457.2 196.8h0M459.7 188.3h0M459.3 186.1h0M473.4 129.1h0M443.6 158.9h0M508.1 71.8h0M445.3 218.7h0M457.7 214.7h0M509.5 89.7h0M450.8 149.2h0M465.7 159.0h0M481.4 176.6h0M434.1 204.8h0M502.3 97.5h0M480.1 148.6h0M430.3 223.3h0M463.2 212.3h0M469.2 150.0h0M523.0 155.3h0M472.3 152.1h0M455.9 187.7h0M423.1 215.2h0M446.3 173.1h0M447.9 161.0h0M478.7 143.8h0M451.2 184.1h0M494.5 143.6h0M519.9 155.9h0M534.2 56.1h0M435.9 234.9h0M431.4 195.4h0M505.8 83.3h0M439.4 180.0h0M488.2 138.5h0M537.9 81.3h0M441.1 176.7h0M468.0 213.9h0M475.8 170.2h0M462.9 136.8h0M550.5 19.1h0M471.6 222.9h0M524.6 104.8h0M454.2 182.7h0M510.0 68.1h0M469.0 156.0h0M442.5 198.2h0M466.4 146.6h0M473.2 197.1h0M514.0 146.1h0M456.3 150.3h0M460.6 171.8h0M469.1 179.5h0M483.2 114.5h0M493.2 111.4h0M460.7 154.3h0M465.6 177.7h0M498.3 152.1h0M445.6 200.5h0M542.5 65.8h0M497.3 91.0h0M446.4 187.9h0M508.3 76.7h0M527.9 92.7h0M496.0 139.7h0M462.1 186.5h0M484.3 143.4h0M504.5 153.3h0M475.9 154.3h0M475.5 221.7h0M508.8 144.9h0M459.8 183.8h0M434.1 214.5h0M542.1 83.4h0M526.3 73.0h0M488.8 102.9h0M538.1 83.9h0M484.1 153.3h0M471.5 142.0h0M497.1 184.9h0M464.7 137.6h0M477.4 122.6h0M496.6 169.4h0M457.3 226.3h0M467.5 131.6h0M449.6 185.2h0M450.4 193.7h0M438.6 182.8h0M505.3 117.3h0M445.7 171.3h0M485.3 158.5h0M469.6 209.1h0M493.7 136.8h0M470.8 161.8h0M481.5 110.5h0M531.1 63.6h0M474.8 125.1h0M529.8 146.9h0M444.7 160.6h0M507.4 69.9h0M442.5 204.4h0M463.9 209.0h0M510.9 68.2h0M467.9 191.3h0M462.0 166.6h0M501.2 198.1h0M449.0 162.4h0M532.7 58.4h0M495.3 131.1h0M461.7 227.9h0M509.2 109.9h0M425.7 211.9h0M483.3 112.5h0M479.2 113.1h0M524.6 65.0h0M494.7 121.5h0M489.8 104.8h0M471.1 140.0h0M436.4 197.1h0M495.5 83.0h0M458.3 154.9h0M464.0 155.2h0M521.0 64.3h0M448.4 198.3h0M472.5 171.4h0M510.8 75.0h0M439.7 207.4h0M526.4 61.1h0M502.3 92.1h0M451.5 189.0h0M466.2 161.9h0M484.7 150.5h0M487.4 138.6h0M473.0 180.4h0M493.3 137.4h0M437.7 206.5h0M478.1 188.7h0M444.4 204.2h0M481.0 154.7h0M522.3 65.2h0M456.0 197.1h0M481.8 125.6h0M499.9 95.0h0M460.6 169.8h0M520.9 64.0h0M461.1 178.0h0M525.1 106.3h0M527.0 157.2h0M445.3 169.6h0M525.7 85.0h0M532.5 84.3h0M492.2 117.4h0M450.4 220.1h0M493.2 160.7h0M456.0 218.6h0M497.9 109.9h0M474.1 152.3h0M475.2 157.9h0M434.4 208.4h0M551.4 50.7h0M485.0 213.3h0M498.9 146.2h0M522.1 158.8h0M446.0 192.7h0M471.9 147.1h0M490.2 215.6h0M453.8 144.8h0M539.4 54.9h0M446.1 204.3h0M483.6 186.8h0M463.5 160.2h0M427.4 207.7h0M424.6 216.6h0M468.3 161.6h0M509.4 133.6h0M559.5 32.4h0M533.7 41.4h0M449.1 224.0h0M482.1 105.4h0M463.1 148.1h0M425.0 220.7h0M490.4 191.4h0M497.9 102.9h0M500.8 140.1h0M488.3 103.9h0M507.1 119.2h0M463.0 135.6h0M446.4 165.3h0M514.3 169.2h0M516.2 122.1h0M461.7 211.5h0M457.4 163.2h0M472.3 121.4h0M490.8 212.8h0M455.0 153.9h0M458.8 223.9h0M517.1 125.3h0M479.2 133.5h0M428.8 205.5h0M514.5 86.4h0M474.8 155.2h0M459.0 165.6h0M480.6 228.7h0M478.2 146.1h0M490.6 120.7h0M463.8 161.6h0M528.7 40.4h0M505.2 118.6h0M426.1 187.5h0M472.2 163.9h0M513.4 101.7h0M523.8 93.6h0M508.9 111.3h0M493.9 84.8h0M441.0 202.4h0M452.6 191.9h0M500.3 100.2h0M495.8 102.6h0M516.6 95.1h0M491.7 121.4h0M469.6 134.7h0M492.1 100.1h0M500.4 121.5h0M442.4 173.9h0M440.5 207.2h0M481.0 131.9h0M469.2 177.9h0M490.3 148.2h0M492.6 142.6h0M492.0 197.8h0M455.6 230.8h0M503.4 177.6h0M525.8 92.7h0M502.2 88.1h0M430.1 223.5h0M449.9 201.4h0M469.1 204.3h0M427.3 218.2h0M462.0 234.2h0M515.5 147.9h0M447.5 225.0h0M470.8 146.8h0M509.0 171.7h0M476.3 160.5h0M424.9 204.8h0M501.0 123.7h0M466.8 138.2h0M496.1 109.7h0M463.8 136.9h0M502.7 73.3h0M445.6 202.0h0M466.3 169.9h0M429.2 209.8h0M475.4 159.6h0M503.3 115.1h0M447.6 205.4h0M491.3 149.8h0M512.3 93.0h0M507.5 87.0h0M446.8 163.6h0M532.9 103.4h0M455.4 172.7h0M459.0 236.7h0M472.8 156.9h0M472.7 169.1h0M489.2 198.5h0M438.1 189.9h0M447.2 191.2h0M497.8 166.2h0M510.1 74.1h0M480.1 114.9h0M494.9 155.3h0M462.0 176.7h0M482.8 168.7h0M500.4 160.6h0M505.4 98.9h0M477.7 162.8h0M439.4 189.2h0M450.2 202.1h0M466.7 231.9h0M454.3 193.7h0M511.5 153.7h0M498.7 118.8h0M435.9 176.4h0M427.7 212.8h0M459.9 142.8h0M476.3 147.8h0M482.6 151.4h0M460.0 228.7h0M459.2 235.2h0M438.9 204.5h0M515.5 158.2h0M539.6 89.1h0M523.4 50.9h0M444.2 161.1h0M523.3 59.0h0M512.9 59.8h0M490.1 116.7h0M535.2 90.6h0M468.6 202.2h0M493.6 191.8h0M442.0 167.1h0M452.1 197.5h0M532.9 82.7h0M510.9 61.3h0M487.6 213.1h0M436.4 201.5h0M508.5 126.0h0M447.4 164.0h0M497.7 179.9h0M437.3 205.0h0M494.0 147.0h0M487.7 161.3h0M479.5 141.7h0M444.5 159.6h0M490.9 166.6h0M454.9 168.7h0M470.6 160.0h0M457.4 168.5h0M452.4 165.7h0M473.9 152.5h0M530.2 54.6h0M471.4 133.8h0M435.6 186.4h0M497.3 146.7h0M506.4 94.2h0M474.3 146.9h0M510.4 74.6h0M503.9 92.7h0M541.4 36.8h0M444.6 180.1h0M458.3 214.0h0M530.1 57.0h0M484.2 127.5h0M429.4 195.2h0M528.5 58.5h0M462.2 181.7h0M427.9 224.9h0M518.7 125.3h0M467.5 147.4h0M519.4 150.9h0M517.4 65.7h0M486.1 160.7h0M537.9 52.8h0M441.8 167.5h0M511.5 163.2h0M533.0 67.3h0M486.7 103.6h0M453.1 211.1h0M449.5 208.3h0M477.7 161.8h0M523.0 85.7h0M520.3 101.4h0M439.9 219.3h0M450.2 177.1h0M517.5 78.5h0M455.5 202.7h0M506.3 83.1h0M461.6 206.6h0M499.3 128.7h0M524.7 69.4h0M425.8 211.5h0M491.7 115.5h0M478.4 172.5h0M514.7 72.0h0M459.1 161.2h0M438.2 220.0h0M517.0 81.5h0M439.2 201.5h0M491.9 110.4h0M438.5 170.3h0M499.2 95.9h0M478.1 139.2h0M512.2 115.2h0M437.7 181.9h0M520.4 93.4h0M486.0 161.5h0M523.6 121.7h0M468.0 185.7h0M528.2 61.2h0M455.2 167.3h0M520.0 81.3h0M528.2 109.2h0M460.2 155.1h0M454.4 198.8h0M532.1 91.6h0M480.6 137.6h0M437.8 228.4h0M509.4 151.5h0M487.8 147.0h0M512.0 163.5h0M429.1 225.1h0M436.4 183.6h0M431.6 219.8h0M451.3 160.1h0M530.2 85.0h0M456.1 172.3h0M469.6 138.3h0M463.3 200.9h0M486.9 109.4h0M519.5 124.4h0M505.3 142.8h0M472.4 229.1h0M446.2 178.0h0M440.8 186.5h0M509.7 130.9h0M432.5 219.0h0M445.6 198.6h0M548.7 52.3h0M468.9 167.0h0M477.5 187.8h0M513.4 112.4h0M440.5 190.7h0M513.3 150.8h0M497.7 131.6h0M480.9 134.4h0M508.9 104.0h0M479.2 113.2h0M529.3 76.1h0M472.9 143.2h0M531.6 106.3h0M481.5 127.2h0M441.6 206.2h0M460.5 163.6h0M464.3 157.9h0M455.7 164.1h0M497.6 155.8h0M453.7 212.2h0M472.3 162.4h0M451.1 160.1h0M439.7 165.6h0M465.1 160.0h0M459.1 185.3h0M568.4 35.8h0M452.5 144.4h0M541.6 59.3h0M445.7 223.6h0M441.8 205.3h0M495.1 113.3h0M435.9 172.5h0M502.4 112.9h0M473.6 137.6h0M435.2 189.7h0M514.9 136.7h0M482.0 209.7h0M439.7 183.1h0M504.3 96.0h0M496.5 158.1h0M451.5 198.0h0M451.8 176.1h0M485.3 108.8h0M442.9 230.3h0M462.5 180.2h0M425.6 194.7h0M451.2 224.6h0M465.6 234.0h0M466.3 184.4h0M494.5 202.4h0M494.7 143.3h0M435.8 194.5h0M449.2 186.4h0M536.9 54.9h0M527.2 148.1h0M486.6 196.8h0M516.4 110.6h0M435.1 223.5h0M447.8 186.0h0M466.2 180.1h0M563.1 34.7h0M515.1 92.7h0M443.8 230.7h0M519.6 123.3h0M496.0 91.6h0M515.1 71.4h0M470.2 171.9h0M446.3 190.3h0M442.4 198.0h0M452.3 182.7h0M504.6 146.6h0M458.1 169.5h0M467.2 198.3h0M555.7 31.2h0M446.5 223.9h0M494.8 160.4h0M486.2 105.0h0M484.5 120.7h0M476.7 136.1h0M483.3 121.8h0M434.6 211.4h0M536.7 92.7h0M488.3 130.7h0M449.9 194.0h0M431.8 199.6h0M494.8 87.9h0M512.5 87.0h0M465.1 146.1h0M471.3 224.4h0M471.2 143.5h0M435.8 215.1h0M488.9 94.8h0M456.2 215.5h0M465.8 167.9h0M530.3 72.1h0M477.1 157.5h0M490.0 113.4h0M497.3 121.5h0M501.4 110.7h0M508.8 69.4h0M522.1 53.0h0M524.3 166.2h0M508.9 144.3h0M541.9 62.0h0M451.4 167.4h0M454.7 195.2h0M491.0 118.4h0M509.6 93.9h0M461.2 185.1h0M440.0 202.1h0M429.9 218.9h0M517.5 112.2h0M448.7 187.9h0M431.3 213.1h0M457.1 156.3h0M442.6 196.4h0M529.0 49.1h0M429.9 223.6h0M436.4 217.1h0M486.3 140.3h0M528.2 108.2h0M464.9 144.9h0M476.8 162.1h0M498.8 108.8h0M467.2 161.8h0M476.2 216.0h0M448.9 183.5h0M498.0 184.0h0M448.0 208.5h0M476.5 213.2h0M502.3 72.8h0M531.2 59.3h0M472.9 172.6h0M529.8 99.3h0M475.5 116.6h0M477.2 205.4h0M466.7 186.3h0M551.5 31.9h0M447.8 187.3h0M424.7 216.1h0M501.1 142.2h0M530.5 106.7h0M555.1 35.7h0M524.0 78.1h0M500.3 142.7h0M432.0 203.5h0M478.7 206.4h0M516.4 80.0h0M512.9 98.5h0M495.2 137.2h0M516.3 111.2h0M478.8 139.6h0M503.7 115.4h0M457.0 170.5h0M493.6 153.3h0M523.0 72.5h0M459.4 209.7h0M442.3 177.9h0M527.7 145.6h0M431.0 199.0h0M468.0 193.3h0M446.5 187.8h0M484.9 184.9h0M523.5 55.1h0M483.9 120.2h0M493.3 168.6h0M437.2 205.4h0M432.9 211.4h0M445.9 215.0h0M491.3 104.6h0M554.5 32.4h0M508.7 161.5h0M519.9 159.2h0M552.1 58.1h0M483.3 107.2h0M469.8 148.9h0M477.5 154.3h0M506.4 94.6h0M524.4 72.2h0M511.2 105.1h0M484.7 111.1h0M502.4 134.0h0M446.5 206.3h0M496.2 201.6h0M468.6 145.8h0M489.9 116.3h0M496.3 107.7h0M492.3 159.5h0M448.6 186.6h0M438.8 217.7h0M491.1 180.2h0M441.8 180.7h0M469.5 205.8h0M509.2 76.8h0M441.1 181.3h0M434.0 179.4h0M497.2 167.1h0M424.0 214.3h0M514.8 58.8h0M512.9 155.2h0M497.0 211.5h0M436.9 182.8h0M427.8 228.2h0M449.3 215.8h0M512.4 85.0h0M483.7 104.3h0M448.4 161.1h0M466.4 175.5h0M496.2 194.2h0M503.2 77.3h0M509.8 80.4h0M456.4 209.0h0M443.4 155.7h0M489.5 135.5h0M484.9 210.3h0M441.0 228.1h0M430.8 197.8h0M481.5 160.6h0M442.3 187.6h0M465.6 154.2h0M483.2 152.8h0M446.7 167.5h0M456.8 175.1h0M500.4 98.5h0M528.3 58.3h0M437.7 192.5h0M554.1 36.4h0M445.5 198.4h0M491.5 107.5h0M522.5 87.6h0M478.1 135.2h0M520.8 76.4h0M464.0 223.2h0M524.0 63.4h0M508.1 122.2h0M454.3 150.5h0M438.7 193.3h0M515.8 78.2h0M480.3 169.7h0M476.2 185.9h0M481.8 127.4h0M455.0 208.5h0M487.1 172.3h0M468.5 130.2h0M466.5 181.4h0M474.7 147.8h0M471.1 182.5h0M511.4 102.9h0M522.6 55.9h0M476.6 153.3h0M553.6 50.7h0M472.9 140.9h0M463.5 145.8h0M482.5 182.0h0M448.8 167.3h0M455.4 199.4h0M469.2 214.6h0M477.3 147.1h0M484.4 166.2h0M557.9 43.1h0M480.7 181.4h0M497.4 180.0h0M487.1 215.0h0M466.0 161.9h0M524.1 52.4h0M448.5 162.6h0M514.3 102.6h0M516.7 125.9h0M439.2 212.1h0M483.4 126.0h0M447.9 161.4h0M462.5 149.7h0M444.8 177.9h0M448.5 213.4h0M486.9 157.6h0M436.4 231.4h0M490.6 179.8h0M425.5 210.9h0M465.9 136.4h0M482.1 157.7h0M462.9 160.8h0M484.3 167.6h0M438.9 232.8h0M460.0 223.7h0M434.3 205.8h0M494.2 143.6h0M434.9 219.3h0M491.3 136.4h0M446.5 216.2h0M441.3 163.0h0M433.8 234.4h0M471.6 174.7h0M523.1 161.2h0M524.9 115.2h0M522.4 125.9h0M436.4 218.4h0M500.6 151.9h0M455.7 198.3h0M470.0 166.8h0M523.9 96.3h0M426.2 201.9h0M430.4 189.7h0M464.0 193.0h0M517.0 109.6h0M443.1 208.3h0M510.0 179.0h0M437.6 223.6h0M487.7 190.9h0M474.2 202.5h0M473.9 210.7h0M451.2 187.5h0M465.0 152.4h0M481.9 174.0h0M508.2 66.3h0M516.5 163.8h0M466.3 142.0h0M430.5 189.4h0M482.7 177.1h0M514.1 173.2h0M531.2 103.5h0M451.0 158.7h0M488.8 129.7h0M485.8 117.6h0M536.0 38.1h0M486.4 149.2h0M476.6 202.3h0M455.4 160.1h0M440.7 169.3h0M502.5 92.7h0M457.9 231.6h0M456.7 193.7h0M450.4 233.6h0M527.9 64.2h0M495.6 124.5h0M459.9 231.6h0M434.5 182.0h0M482.3 126.2h0M507.2 102.5h0M442.1 215.6h0M442.7 171.6h0M510.4 138.6h0M450.6 200.5h0M459.0 234.8h0M460.7 141.5h0M433.2 185.6h0M526.9 60.7h0M484.4 195.1h0M471.6 169.6h0M442.2 155.4h0M469.3 146.5h0M480.1 151.5h0M457.6 147.0h0M475.3 194.8h0M519.6 158.1h0M485.1 172.5h0M476.1 134.5h0M467.8 134.8h0M450.6 213.7h0M483.7 229.4h0M522.5 128.2h0M544.6 42.5h0M460.6 199.7h0M539.6 48.4h0M446.4 203.6h0M524.0 92.6h0M450.6 197.5h0M447.1 197.1h0M433.7 203.3h0M518.6 142.4h0M519.2 117.7h0M462.8 222.7h0M516.9 81.1h0M510.0 87.7h0M467.7 174.7h0M472.0 223.4h0M431.0 216.0h0M459.3 235.7h0M469.2 162.3h0M456.6 142.0h0M449.0 219.0h0M471.6 123.8h0M440.0 161.4h0M492.3 158.8h0M473.6 141.9h0M482.9 133.3h0M446.2 228.4h0M456.3 203.4h0M507.0 124.2h0M473.0 152.3h0M500.8 159.3h0M449.7 224.4h0M502.2 124.5h0M466.9 202.6h0M560.7 50.6h0M469.2 155.4h0M487.2 138.2h0M514.5 90.2h0M453.7 180.3h0M466.7 199.0h0M546.8 80.1h0M429.5 204.7h0M449.8 179.5h0M459.6 134.3h0M460.4 167.6h0M475.8 200.3h0M465.2 208.0h0M503.3 77.4h0M503.1 86.8h0M434.7 223.7h0M461.4 191.7h0M465.4 228.5h0M521.5 134.4h0M555.0 36.8h0M429.3 207.0h0M456.6 163.8h0M517.7 55.9h0M451.0 199.4h0M475.5 123.1h0M560.1 49.6h0M500.5 141.4h0M443.3 202.5h0M500.1 100.0h0M503.5 115.8h0M490.6 125.2h0M443.6 236.9h0M439.1 172.7h0M464.1 148.8h0M471.6 122.6h0M481.9 223.9h0M509.7 159.8h0M458.6 153.6h0M461.7 159.9h0M436.6 213.5h0M520.3 96.1h0M434.1 197.7h0M448.6 179.6h0M537.0 63.4h0M488.7 113.2h0M460.2 232.1h0M544.7 52.3h0M433.2 222.2h0M494.9 96.3h0M511.9 116.1h0M535.0 88.0h0M451.4 232.4h0M496.2 89.2h0M511.3 56.5h0M489.4 165.9h0M452.4 151.2h0M486.2 160.4h0M454.6 164.8h0M469.8 145.9h0M470.5 139.8h0M507.4 98.2h0M516.1 129.7h0M444.2 200.2h0M498.5 140.5h0M502.0 102.2h0M484.8 222.7h0M532.5 91.0h0M439.9 198.9h0M520.7 163.1h0M465.4 223.2h0M485.9 138.5h0M537.0 61.2h0M425.1 209.6h0M482.2 176.8h0M453.1 185.9h0M519.5 80.5h0M508.1 145.3h0M481.2 157.2h0M448.4 206.5h0M510.5 165.2h0M478.3 169.4h0M496.3 166.3h0M445.8 174.1h0M555.7 38.5h0M511.2 100.6h0M499.7 151.2h0M466.7 196.6h0M525.1 142.9h0M509.7 93.1h0M459.8 149.1h0M465.8 139.8h0M487.0 196.3h0M478.8 181.6h0M443.5 220.0h0M455.6 167.7h0M448.1 171.3h0M477.5 124.6h0M473.7 183.9h0M491.5 177.8h0M543.0 86.7h0M433.6 218.6h0M481.2 115.8h0M544.8 66.1h0M443.0 203.1h0M519.0 83.5h0M452.9 167.7h0M545.8 59.4h0M494.4 84.0h0M476.7 149.2h0M460.6 154.3h0M438.4 198.1h0M477.5 129.4h0M449.5 170.7h0M522.2 152.0h0M493.7 126.9h0M481.7 217.6h0M463.7 222.6h0M512.6 130.5h0M491.0 162.9h0M469.5 147.5h0M471.2 229.9h0M427.3 201.5h0M476.8 162.8h0M458.8 217.7h0M441.0 210.8h0M462.8 141.4h0M549.7 68.5h0M454.4 203.4h0M480.6 146.3h0M506.4 118.5h0M430.5 210.4h0M474.7 164.4h0M446.9 202.6h0M428.6 212.0h0M442.8 216.8h0M515.1 165.9h0M502.1 165.0h0M461.4 201.4h0M439.3 213.4h0M537.2 72.2h0M522.8 96.1h0M481.7 137.6h0M554.0 33.3h0M489.4 196.7h0M479.5 134.9h0M475.6 134.4h0M446.9 199.4h0M514.7 166.0h0M516.2 113.8h0M496.5 102.2h0M515.7 171.7h0M462.2 188.5h0M481.9 168.5h0M519.6 112.7h0M466.1 142.5h0M478.5 163.8h0M512.5 84.3h0M448.1 161.2h0M468.7 131.2h0M502.6 163.9h0M549.6 63.5h0M456.0 170.1h0M424.0 218.1h0M505.6 151.9h0M433.3 191.9h0M485.8 143.7h0M445.0 200.3h0M486.8 171.5h0M444.3 184.6h0M438.2 192.3h0M434.7 191.8h0M441.5 170.1h0M433.8 225.5h0M535.3 76.0h0M430.2 196.1h0M465.0 145.9h0M486.4 161.7h0M436.8 177.3h0M439.5 226.9h0M444.3 191.1h0M444.8 215.2h0M454.1 164.0h0M502.7 137.7h0M494.7 94.2h0M509.3 172.4h0M531.7 144.3h0M512.5 82.5h0M518.2 167.2h0M492.5 145.7h0M441.2 198.9h0M487.4 152.8h0M455.0 175.3h0M461.9 156.7h0M442.2 172.7h0M511.0 127.4h0M426.8 224.7h0M478.2 130.6h0M474.3 189.7h0M480.3 170.9h0M516.9 134.9h0M500.4 106.4h0M459.9 161.4h0M451.4 168.2h0M517.3 145.3h0M558.4 48.5h0M484.9 104.4h0M483.5 152.3h0M434.2 182.2h0M457.4 154.5h0M444.3 213.6h0M463.8 170.4h0M466.7 199.4h0M502.3 85.3h0M492.4 116.2h0M508.9 86.0h0M518.8 114.3h0M445.9 176.7h0M488.8 134.1h0M466.4 204.1h0M466.7 155.0h0M512.0 99.2h0M440.1 217.6h0M476.2 204.0h0M464.7 149.3h0M488.6 130.6h0M430.2 205.4h0M499.8 136.6h0M504.4 80.9h0M476.6 180.4h0M488.0 160.1h0M419.9 220.6h0M479.1 202.2h0M557.1 54.2h0M445.3 220.4h0M454.6 197.0h0M445.9 204.3h0M544.1 84.6h0M446.4 188.0h0M428.6 213.0h0M450.2 179.8h0M481.0 150.3h0M445.7 170.2h0M517.4 117.6h0M479.3 202.2h0M492.6 95.1h0M430.4 213.3h0M453.3 164.6h0M429.4 210.3h0M461.1 222.6h0M463.5 158.3h0M468.5 144.1h0M471.5 144.6h0M483.9 196.0h0M426.3 227.0h0M435.8 180.2h0M532.0 85.6h0M528.1 154.7h0M472.7 130.5h0M499.5 133.6h0M430.9 205.2h0M429.2 205.0h0M424.3 208.8h0M522.2 137.9h0M473.4 184.8h0M458.9 202.7h0M459.3 204.5h0M569.4 26.3h0M515.7 119.9h0M524.6 75.8h0M487.0 215.4h0M478.0 134.5h0M463.4 136.9h0M432.4 229.3h0M527.9 70.6h0M444.6 169.9h0M507.1 93.7h0M476.6 146.7h0M515.0 80.6h0M438.6 221.9h0M494.2 112.7h0M493.9 132.4h0M553.7 41.5h0M500.5 101.8h0M471.9 152.5h0M516.4 92.4h0M524.9 162.6h0M470.6 181.8h0M471.5 183.1h0M499.1 109.7h0M436.1 186.4h0M448.9 195.0h0M504.4 69.7h0M443.3 221.2h0M508.0 100.4h0M453.5 166.1h0M522.0 114.0h0M483.7 190.3h0M451.1 192.0h0M474.6 168.6h0M484.1 162.7h0M464.7 171.4h0M548.0 34.3h0M428.2 213.7h0M433.9 193.3h0M525.7 75.4h0M436.2 218.0h0M449.1 161.9h0M464.5 149.8h0M482.7 107.4h0M444.8 202.9h0M425.6 206.2h0M482.1 135.7h0M475.6 157.9h0M504.7 159.4h0M486.1 176.9h0M427.9 199.4h0M527.6 109.5h0M450.7 150.7h0M443.9 179.3h0M545.4 79.7h0M483.1 214.6h0M462.4 218.2h0M508.4 137.2h0M442.3 170.0h0M507.7 121.0h0M443.3 189.8h0M495.6 130.2h0M481.7 122.3h0M425.2 214.5h0M460.1 202.0h0M450.3 231.9h0M500.4 146.0h0M441.0 205.0h0M437.6 228.3h0M527.2 86.4h0M442.1 181.1h0M442.1 226.4h0M456.7 144.4h0M557.9 51.9h0M520.6 79.5h0M465.9 204.2h0M485.5 143.8h0M460.0 156.5h0M477.2 138.4h0M494.2 173.6h0M510.6 100.1h0M503.6 110.6h0M438.4 186.9h0M441.3 177.6h0M497.8 110.9h0M507.6 97.2h0M439.6 200.0h0M492.5 175.8h0M518.1 74.8h0M441.5 191.4h0M560.5 31.9h0M459.4 165.9h0M436.9 184.7h0M523.4 149.8h0M464.5 181.8h0M523.9 69.0h0M490.0 121.8h0M433.9 203.0h0M445.3 196.5h0M512.2 160.5h0M461.5 146.6h0M474.2 151.9h0M497.5 100.9h0M478.0 133.9h0M481.4 133.5h0M435.2 190.9h0M477.0 143.4h0M551.7 27.8h0M515.9 86.6h0M495.4 100.3h0M460.0 139.7h0M451.1 222.8h0M522.3 109.2h0M458.0 167.9h0M565.7 44.1h0M473.7 124.4h0M465.8 159.8h0M460.0 189.3h0M443.3 219.5h0M466.5 135.4h0M484.6 119.4h0M437.5 200.4h0M492.0 174.9h0M489.2 135.0h0M427.7 210.1h0M473.2 124.0h0M493.1 202.8h0M489.6 134.3h0M448.1 209.1h0M452.3 166.0h0M469.9 138.6h0M510.2 155.5h0M438.4 203.7h0M538.4 46.4h0M479.3 130.1h0M434.4 202.2h0M467.2 220.4h0M533.1 76.3h0M473.9 163.0h0M521.8 157.3h0M442.5 203.5h0M480.8 180.1h0M518.3 158.3h0M490.4 145.4h0M444.7 191.7h0M530.6 43.0h0M487.3 117.7h0M498.5 141.3h0M467.7 210.0h0M547.5 28.2h0M451.9 159.9h0M452.1 181.2h0M459.0 182.0h0M486.7 109.1h0M445.5 182.1h0M508.1 127.5h0M436.7 203.0h0M491.0 153.1h0M458.3 141.1h0M461.3 225.5h0M435.0 181.5h0M445.1 193.4h0M505.5 120.3h0M443.4 177.1h0M473.4 122.4h0M493.1 96.7h0M444.3 224.6h0M452.7 159.1h0M450.8 166.5h0M484.9 174.7h0M440.1 218.0h0M515.9 77.1h0M444.3 184.6h0M496.2 171.2h0M460.9 206.5h0M463.8 208.9h0M509.8 109.8h0M486.9 182.3h0M497.5 93.2h0M513.0 139.0h0M521.7 68.3h0M523.9 162.2h0M510.7 90.9h0M427.7 201.2h0M445.2 168.7h0M525.9 114.9h0M510.9 105.9h0M426.5 195.3h0M466.2 144.4h0M462.7 234.8h0M481.8 137.3h0M481.2 123.0h0M488.5 164.4h0M475.3 142.5h0M442.6 156.2h0M447.6 226.5h0M453.6 164.7h0M459.3 137.3h0M444.2 224.2h0M450.9 217.3h0M462.5 148.1h0M450.0 233.9h0M469.4 225.1h0M464.0 172.7h0M426.3 207.1h0M441.0 234.5h0M494.9 111.8h0M496.0 119.3h0M475.1 141.0h0M423.2 218.9h0M448.2 160.4h0M475.7 147.8h0M449.7 167.4h0M487.2 132.9h0M477.8 127.6h0M517.7 135.7h0M468.1 141.5h0M461.3 186.3h0M465.9 206.9h0M490.5 138.1h0M502.4 167.6h0M557.0 62.5h0M522.4 68.7h0M480.7 127.6h0M497.3 124.3h0M491.3 95.8h0M500.7 111.7h0M513.4 113.2h0M446.0 198.7h0M503.6 152.7h0M444.2 225.7h0M495.9 159.7h0M491.4 119.8h0M429.4 200.7h0M513.3 93.1h0M481.2 147.8h0M461.4 154.8h0M459.7 176.9h0M528.3 111.7h0M496.4 108.2h0M463.4 203.6h0M508.1 93.7h0M468.9 158.9h0M511.6 160.4h0M464.6 139.5h0M477.8 136.1h0M442.3 190.3h0M489.2 115.0h0M426.8 217.0h0M474.1 182.9h0M479.6 229.4h0M470.2 187.6h0M446.1 194.4h0M498.6 132.2h0M526.6 165.2h0M443.4 215.6h0M469.9 162.2h0M518.3 159.8h0M455.8 164.7h0M434.4 228.5h0M486.4 149.3h0M443.1 176.1h0M497.1 116.9h0M509.8 83.7h0M497.3 77.3h0M463.7 189.3h0M437.5 226.9h0M528.3 52.3h0M486.5 163.1h0M508.6 162.9h0M471.1 146.3h0M507.5 173.6h0M488.8 124.8h0M470.8 136.2h0M457.1 183.3h0M430.9 199.5h0M445.5 234.4h0M479.4 116.2h0M461.9 148.4h0M543.5 52.4h0M563.2 37.5h0M481.1 140.6h0M441.4 215.1h0M462.7 151.7h0M449.5 171.2h0M510.4 73.8h0M486.0 135.7h0M440.7 191.8h0M450.5 154.5h0M510.5 75.4h0M507.3 69.2h0M454.8 141.4h0M457.4 139.0h0M495.0 117.9h0M480.3 203.0h0M537.1 36.4h0M490.2 163.5h0M488.8 157.5h0M449.3 149.5h0M443.3 212.6h0M470.0 190.9h0M513.1 166.3h0M450.0 178.8h0M511.7 85.9h0M442.2 198.5h0M441.3 189.3h0M431.1 216.7h0M483.0 138.3h0M487.6 174.4h0M486.1 93.7h0M485.8 167.2h0M461.9 216.6h0M506.7 158.0h0M467.4 196.3h0M438.2 172.7h0M515.1 83.6h0M445.2 218.9h0M446.3 191.8h0M463.0 164.3h0M474.7 167.1h0M471.7 145.6h0M532.9 76.7h0M451.7 226.9h0M476.3 200.9h0M513.1 127.7h0M438.7 212.3h0M465.1 178.3h0M439.1 199.0h0M494.8 165.3h0M465.4 193.8h0M469.6 145.9h0M522.3 102.4h0M516.9 59.7h0M515.0 162.0h0M472.7 204.7h0M446.7 205.6h0M514.0 93.2h0M452.8 169.1h0M462.7 158.5h0M440.1 188.7h0M495.8 106.9h0M472.8 151.1h0M552.7 72.3h0M496.6 115.8h0M472.8 201.4h0M551.8 59.1h0M532.5 46.3h0M480.2 137.3h0M442.2 217.8h0M456.9 151.1h0M551.6 41.3h0M548.0 68.5h0M428.1 199.7h0M433.0 212.0h0M488.3 131.4h0M570.3 21.0h0M461.6 215.8h0M503.7 186.1h0M495.7 198.1h0M513.2 145.0h0M441.5 187.9h0M477.6 222.9h0M431.6 206.6h0M436.3 222.9h0M535.5 52.2h0M506.8 98.6h0M467.7 156.3h0M521.0 153.3h0M445.2 181.1h0M532.8 71.7h0M454.5 174.8h0M466.3 152.6h0M473.1 163.0h0M464.3 147.5h0M482.1 179.5h0M472.3 140.7h0M497.0 164.0h0M499.8 191.3h0M483.5 122.1h0M527.4 154.0h0M490.4 120.9h0M493.4 175.7h0M485.0 126.5h0M536.0 61.9h0M532.3 87.5h0M448.6 162.8h0M506.9 160.9h0M496.8 118.5h0M494.9 103.8h0M434.5 207.9h0M485.8 173.9h0M464.5 181.1h0M441.0 213.9h0M447.0 231.6h0M431.7 188.4h0M431.7 221.9h0M508.9 142.0h0M442.7 197.2h0M464.8 176.7h0M552.2 44.4h0M465.9 185.7h0M506.2 137.5h0M474.5 144.6h0M518.5 61.4h0M439.1 181.1h0M458.9 169.4h0M436.7 223.6h0M514.9 146.7h0M496.9 135.2h0M500.9 152.2h0M474.1 129.2h0M499.6 85.9h0M548.4 64.6h0M477.8 197.1h0M485.7 139.3h0M514.6 92.5h0M501.0 95.8h0M458.4 202.5h0M548.2 40.5h0M442.9 214.3h0M456.6 158.4h0M450.6 208.9h0M436.3 185.3h0M524.4 107.7h0M520.5 69.6h0M533.3 59.5h0M437.9 209.8h0M442.8 194.3h0M440.7 197.5h0M452.6 194.6h0M477.7 156.1h0M440.5 192.8h0M476.6 138.7h0M505.1 184.8h0M438.0 217.9h0M454.5 148.3h0M456.3 150.7h0M500.5 161.8h0M475.5 142.6h0M515.1 79.1h0M438.8 215.9h0M471.9 164.4h0M490.7 155.3h0M447.8 189.2h0M512.2 164.1h0M488.7 164.5h0M459.2 205.1h0M452.4 189.2h0M436.9 221.2h0M509.6 160.0h0M488.6 165.1h0M437.6 213.3h0M492.9 141.5h0M498.2 151.3h0M450.3 161.2h0M435.6 221.5h0M532.0 56.6h0M473.9 151.5h0M428.8 224.6h0M519.6 70.1h0M449.8 177.0h0M443.7 223.9h0M464.1 190.4h0M502.0 161.1h0M525.7 54.5h0M440.6 175.2h0M472.9 184.4h0M473.5 214.7h0M510.5 136.9h0M496.0 112.3h0M524.5 71.4h0M469.6 195.2h0M468.5 232.7h0M493.0 86.8h0M490.7 165.3h0M430.6 223.2h0M433.6 207.8h0M490.4 158.5h0M434.4 194.1h0M471.9 137.3h0M426.3 198.6h0M450.7 169.2h0M472.6 127.0h0M487.3 129.3h0M515.1 149.8h0M499.4 108.3h0M491.0 164.5h0M467.1 202.5h0M449.9 169.3h0M465.7 198.2h0M481.6 106.1h0M478.7 197.4h0M446.4 166.4h0M511.9 78.5h0M496.8 85.7h0M473.6 227.6h0M485.4 152.9h0M453.8 207.9h0M501.5 80.6h0M560.1 54.4h0M482.3 116.8h0M490.7 105.6h0M509.8 83.9h0M451.4 147.4h0M455.1 171.7h0M495.6 95.9h0M440.5 230.0h0M540.5 83.8h0M521.3 161.3h0M508.7 106.1h0M521.5 107.8h0M457.8 177.5h0M510.5 140.7h0M456.0 230.8h0M452.1 179.9h0M438.1 224.2h0M437.0 172.7h0M470.8 176.2h0M442.7 183.9h0M458.5 172.2h0M524.3 111.2h0M471.5 170.2h0M442.7 216.9h0M450.1 214.5h0M480.5 185.9h0M477.8 153.8h0M519.4 132.4h0M497.6 77.3h0M480.0 129.4h0M437.3 203.1h0M480.5 156.5h0M487.9 144.2h0M459.6 204.2h0M500.5 158.2h0M432.4 203.0h0M518.0 125.6h0M435.5 188.7h0M488.9 149.6h0M446.3 166.9h0M448.6 171.7h0M486.7 118.0h0M457.7 221.2h0M508.6 146.7h0M500.9 136.5h0M522.0 50.6h0M489.5 139.4h0M470.1 144.8h0M505.9 161.6h0M438.9 169.0h0M468.5 179.9h0M468.6 150.9h0M461.2 142.1h0M473.0 167.1h0M441.1 188.2h0M448.6 161.6h0M480.7 199.9h0M565.1 43.6h0M458.7 161.5h0M521.0 152.6h0M478.6 130.2h0M488.7 145.5h0M435.6 189.8h0M437.4 231.8h0M441.6 200.7h0M455.3 191.0h0M462.0 194.2h0M441.3 210.2h0M483.9 180.5h0M465.7 139.5h0M512.8 82.0h0M498.9 103.9h0M462.4 194.3h0M472.5 172.8h0M519.6 87.3h0M442.7 214.3h0M472.7 125.6h0M513.5 112.3h0M464.6 161.6h0M430.7 227.9h0M533.7 50.7h0M481.5 149.4h0M459.7 202.2h0M500.6 90.4h0M442.6 184.9h0M481.7 130.6h0M443.9 179.0h0M498.7 92.4h0M508.0 77.4h0M448.5 198.6h0M433.7 214.5h0M512.1 96.2h0M466.2 146.2h0M460.9 160.8h0M462.9 135.3h0M436.9 206.1h0M551.0 39.9h0M449.5 223.2h0M524.0 48.7h0M466.5 130.5h0M528.9 85.8h0M460.2 212.8h0M469.7 140.8h0M500.1 119.0h0M448.0 217.5h0M492.3 104.5h0M445.4 215.9h0M530.4 106.4h0M508.9 60.6h0M487.6 160.3h0M497.9 109.8h0M452.0 145.7h0M509.3 92.3h0M520.6 111.1h0M513.9 73.2h0M470.7 150.7h0M445.9 235.2h0M492.1 164.1h0M447.2 177.7h0M471.7 132.6h0M476.7 141.7h0M481.6 114.0h0M500.3 123.5h0M498.7 108.6h0M508.9 134.4h0M479.8 139.0h0M463.9 173.3h0M504.0 70.2h0M463.3 174.2h0M460.6 202.5h0M477.5 148.2h0M449.2 178.8h0M546.5 52.5h0M548.7 32.8h0M521.6 161.7h0M460.4 234.4h0M478.7 226.9h0M464.3 228.5h0M474.6 243.4h0M464.9 234.2h0M462.6 239.1h0M474.1 243.3h0M468.9 231.1h0M475.2 232.3h0M471.7 253.4h0M470.0 247.4h0M463.9 250.0h0M464.2 266.7h0M474.3 257.4h0M469.1 253.7h0M463.2 251.1h0M470.6 244.7h0M471.1 264.3h0M474.8 237.8h0M455.8 254.3h0M462.5 236.4h0M465.9 257.3h0M471.6 244.6h0M462.0 238.6h0M468.2 259.2h0M470.7 229.8h0M464.6 259.1h0M476.0 235.1h0M470.0 234.8h0M468.7 241.8h0M466.9 273.4h0M481.2 241.7h0M472.1 230.9h0M454.4 229.8h0M477.2 232.6h0M481.1 238.2h0M463.3 249.6h0M480.5 233.1h0M467.7 252.4h0M464.2 244.7h0M462.5 245.6h0M464.4 253.9h0M466.2 270.0h0M471.0 233.0h0M468.2 227.8h0M461.6 232.0h0M478.9 231.7h0M479.0 249.8h0M473.6 254.6h0M478.6 252.5h0M456.9 246.9h0M457.9 253.3h0M458.2 234.6h0M456.6 235.5h0M467.2 247.0h0M462.5 236.2h0M478.1 251.3h0M465.5 226.5h0M477.4 250.2h0M463.5 236.5h0M459.4 230.8h0M476.2 249.8h0M457.7 235.7h0M478.5 255.5h0M466.9 249.3h0M464.7 235.0h0M481.3 263.6h0M470.6 249.4h0M464.3 262.6h0M476.3 237.0h0M458.8 252.4h0M467.9 245.7h0M479.0 252.4h0M479.3 230.0h0M457.6 231.6h0M459.8 231.9h0M459.4 240.7h0M458.6 258.2h0M456.7 235.3h0M468.4 232.7h0M463.1 226.5h0M467.4 249.3h0M467.6 233.0h0M467.1 230.6h0M477.2 239.6h0M467.5 240.9h0M455.7 230.4h0M471.3 245.7h0M482.0 241.5h0M477.8 244.1h0M466.0 250.2h0M473.6 249.4h0M463.5 251.4h0M468.6 250.2h0M470.6 226.7h0M456.6 245.4h0M466.5 238.7h0M463.0 247.1h0M456.7 236.7h0M468.9 258.8h0M467.3 257.8h0M474.7 233.3h0M459.5 240.6h0M476.2 231.1h0M470.5 255.1h0M475.8 245.8h0M468.1 232.7h0M457.4 236.3h0M463.7 240.5h0M460.0 263.6h0M458.7 232.2h0M465.3 250.6h0M465.2 264.2h0M461.2 241.7h0M470.4 244.2h0M467.8 241.3h0M461.0 232.8h0M461.3 252.2h0M459.8 227.9h0M458.3 244.9h0M468.5 258.9h0M483.3 229.7h0M474.1 244.8h0M465.5 261.9h0M464.5 252.2h0M470.9 254.2h0M459.5 244.2h0M457.3 247.3h0M472.5 230.8h0M467.9 229.2h0M480.0 231.0h0M457.3 228.9h0M473.0 227.3h0M471.6 261.0h0M483.6 229.0h0M456.7 250.3h0M469.0 245.1h0M466.3 238.7h0M454.4 231.0h0M459.2 260.0h0M478.8 255.0h0M466.4 246.0h0M459.4 244.2h0M464.3 226.4h0M465.3 234.9h0M458.0 246.4h0M463.6 232.4h0M460.0 239.7h0M464.0 235.4h0M459.2 248.8h0M477.3 248.0h0M460.1 226.5h0M459.5 253.8h0M472.4 238.7h0M453.1 229.9h0M460.4 254.3h0M470.5 250.1h0M455.1 236.8h0M466.4 232.9h0M465.4 251.3h0M481.9 227.8h0M476.9 236.3h0M471.0 250.0h0M458.5 239.1h0M478.7 247.5h0M473.5 248.7h0M474.7 243.9h0M464.3 249.6h0M476.2 247.6h0M459.1 244.0h0M479.0 258.1h0M469.1 235.7h0M477.5 234.5h0M470.4 259.5h0M467.3 244.4h0M473.3 260.4h0M471.9 233.5h0M479.6 237.8h0M460.4 240.8h0M473.1 227.8h0M472.6 230.3h0M463.2 233.5h0M466.5 253.8h0M463.3 250.3h0M458.5 250.0h0M466.3 236.6h0M457.8 248.2h0M473.4 226.3h0M469.5 261.2h0M467.2 226.2h0M455.5 226.8h0M468.9 244.1h0M469.8 243.6h0M463.5 233.1h0M470.7 261.6h0M466.7 266.2h0M469.1 232.5h0M473.7 229.9h0M468.3 233.0h0M459.7 237.5h0M482.0 247.1h0M466.3 237.3h0M458.9 260.9h0M476.3 257.2h0M461.1 257.8h0M470.6 228.9h0M480.0 249.9h0M458.4 226.1h0M476.7 227.3h0M470.9 229.3h0M459.2 242.5h0M469.1 255.9h0M458.5 230.5h0M468.5 257.0h0M468.2 243.4h0M465.7 226.6h0M465.6 239.1h0M462.4 248.5h0M462.0 245.2h0M453.7 233.8h0M474.4 268.3h0M466.6 247.1h0M470.2 244.8h0M471.1 227.2h0M467.3 244.8h0M460.6 244.0h0M474.9 235.5h0M482.6 230.0h0M468.1 260.3h0M475.2 256.1h0M471.0 257.4h0M479.4 231.4h0M473.7 241.5h0M476.4 228.1h0M460.8 234.0h0M472.5 255.1h0M475.1 234.8h0M472.5 229.2h0M470.8 231.2h0M479.6 230.7h0M467.1 273.7h0M469.4 226.9h0M464.5 254.2h0M458.2 259.3h0M467.1 260.1h0M473.8 238.2h0M475.1 250.3h0M479.1 226.4h0M474.3 231.5h0M460.0 253.4h0M474.5 231.1h0M467.9 246.3h0M462.7 231.1h0M457.1 229.7h0M467.2 246.9h0M459.9 250.0h0M457.1 242.1h0M474.7 236.8h0M466.9 260.0h0M479.4 245.5h0M459.1 239.8h0M480.9 228.2h0M478.7 246.7h0M480.4 241.9h0M467.5 255.6h0M457.7 227.9h0M460.3 262.0h0M462.8 240.6h0M453.4 239.8h0M481.1 235.2h0M468.8 233.8h0M463.3 252.0h0M463.2 239.8h0M468.9 232.6h0M456.3 237.0h0M481.1 248.1h0M470.8 246.2h0M470.2 262.3h0M476.1 248.3h0M456.2 234.7h0M466.4 239.2h0M477.5 251.4h0M472.9 239.3h0M460.8 241.5h0M461.7 256.7h0M466.4 247.1h0M461.1 255.4h0M479.4 250.1h0M471.4 267.2h0M455.2 235.8h0M470.9 230.2h0M472.9 252.1h0M467.9 241.7h0M452.5 244.4h0M477.6 241.1h0M476.3 253.8h0M480.2 250.5h0M472.8 236.1h0M472.0 252.5h0M479.8 242.3h0M466.0 241.8h0M470.9 257.6h0M462.5 242.6h0M459.1 255.8h0M464.8 247.9h0M480.5 244.4h0M471.9 244.2h0M470.6 257.8h0M465.6 227.3h0M457.6 250.5h0M472.4 241.3h0M474.7 237.5h0M480.3 240.2h0M477.5 231.3h0M480.0 251.8h0M451.8 230.8h0M468.8 248.0h0M466.8 259.9h0M467.3 244.3h0M478.8 245.8h0M475.4 244.0h0M465.0 236.6h0M468.4 240.8h0M466.7 260.0h0M471.4 247.6h0M459.2 254.9h0M464.0 227.9h0M474.3 243.6h0M466.1 269.2h0M465.0 249.4h0M454.7 256.0h0M473.3 226.6h0M470.7 264.5h0M464.4 253.0h0M476.2 231.3h0M457.9 264.2h0M474.3 246.9h0M454.0 250.3h0M462.6 249.1h0M464.2 263.4h0M468.1 256.1h0M469.3 228.9h0M453.0 237.5h0M464.8 231.2h0M475.1 243.7h0M466.1 247.5h0M479.7 244.6h0M467.5 267.1h0M475.8 242.6h0M459.3 262.1h0M468.0 227.3h0M458.8 268.8h0M460.2 246.4h0M464.4 262.1h0M473.4 228.1h0M464.5 234.9h0M470.4 235.5h0M466.6 250.4h0M476.0 244.6h0M477.2 227.6h0M462.0 250.7h0M476.2 233.4h0M465.6 236.8h0M463.3 241.9h0M466.9 246.6h0M471.2 244.5h0M461.9 230.5h0M461.6 240.6h0M471.3 262.0h0M461.1 237.4h0M460.0 248.0h0M467.1 231.5h0M464.0 254.5h0M463.2 231.1h0M455.7 269.1h0M454.4 230.1h0M464.1 230.2h0M475.8 248.4h0M463.1 236.3h0M457.3 259.0h0M460.9 240.9h0M456.2 229.1h0M475.6 258.5h0M454.4 245.1h0M482.7 228.7h0M463.8 231.8h0M475.3 259.0h0M462.6 254.7h0M455.7 262.2h0M455.9 242.3h0M456.0 239.3h0M473.2 246.3h0M475.0 241.9h0M472.5 252.3h0M467.3 247.5h0M467.0 268.5h0M481.9 228.0h0M468.7 232.6h0M462.9 268.8h0M468.0 233.4h0M454.1 239.1h0M462.8 241.7h0M468.8 226.6h0M464.5 244.8h0M466.8 237.0h0M479.9 239.7h0M467.7 232.7h0M468.2 252.8h0M457.9 235.3h0M471.4 260.4h0M471.9 232.7h0M476.9 242.3h0M472.4 261.5h0M482.0 245.3h0M457.6 231.4h0M475.9 241.7h0M479.2 235.0h0M453.4 232.2h0M461.9 238.6h0M473.6 248.4h0M469.1 230.9h0M465.5 233.0h0M455.5 242.7h0M453.6 231.8h0M469.3 231.4h0M480.7 239.3h0M460.2 249.4h0M465.7 253.0h0M462.9 230.8h0M460.3 227.3h0M465.9 245.5h0M463.8 233.9h0M478.0 246.0h0M480.9 254.5h0M462.5 233.5h0M462.5 227.7h0M458.9 234.1h0M452.6 230.6h0M475.1 241.8h0M456.4 227.6h0M458.5 237.8h0M453.6 233.9h0M463.9 254.3h0M455.4 257.5h0M456.3 235.3h0M456.2 229.3h0M459.8 239.9h0M476.1 232.4h0M453.9 229.8h0M463.9 260.0h0M461.2 232.3h0M466.7 252.9h0M466.9 254.8h0M453.7 240.1h0M466.4 239.3h0M467.3 238.3h0M476.2 262.1h0M457.3 254.4h0M468.8 236.9h0M460.1 235.7h0M478.4 239.4h0M463.2 230.6h0M523.9 144.1h0M523.0 145.7h0M521.9 162.1h0M523.2 148.9h0M518.1 149.5h0M524.6 161.0h0M525.3 150.0h0M526.8 165.2h0M523.7 150.6h0M526.0 142.2h0M528.1 162.0h0M525.9 161.2h0M517.2 149.6h0M521.3 144.1h0M515.7 156.3h0M520.5 162.6h0M530.0 143.6h0M515.6 141.7h0M520.5 148.8h0M513.9 141.5h0M524.7 149.3h0M520.6 162.9h0M524.8 150.1h0M525.9 143.6h0M529.1 159.9h0M526.2 166.5h0M516.2 154.1h0M521.2 160.9h0M517.2 146.3h0M518.1 144.9h0M521.7 147.8h0M523.5 152.7h0M530.1 157.3h0M518.6 164.0h0M526.8 149.8h0M521.6 166.7h0M523.3 161.1h0M517.4 146.5h0M527.6 147.2h0M529.9 146.7h0M517.6 142.3h0M519.0 161.6h0M528.4 150.2h0M513.8 163.0h0M523.3 142.5h0M522.7 142.7h0M526.9 158.4h0M522.4 159.6h0M516.3 157.1h0M519.1 153.7h0M526.6 152.8h0M513.9 164.2h0M512.6 162.1h0M525.1 142.7h0M522.7 162.0h0M515.4 165.1h0M516.2 157.5h0M519.3 149.3h0M523.3 148.4h0M524.2 148.5h0M520.1 153.0h0M523.7 156.6h0M521.2 144.8h0M527.3 148.3h0M522.4 162.8h0M523.3 155.2h0M520.8 141.7h0M523.9 142.9h0M528.2 156.7h0M530.7 147.7h0M519.2 157.8h0M520.3 157.1h0M515.3 142.7h0M520.0 149.7h0M524.1 146.9h0M521.1 152.3h0M530.0 153.2h0M516.9 165.6h0M521.7 150.5h0M528.5 164.2h0M520.1 165.1h0M519.4 154.9h0M517.9 151.2h0M523.2 166.6h0M523.3 147.3h0M525.7 157.6h0M531.2 143.1h0M522.1 151.5h0M522.1 159.3h0M530.8 161.0h0M523.5 165.5h0M526.8 155.8h0M527.1 151.7h0M526.4 161.8h0M517.2 143.5h0M523.6 146.7h0M527.3 146.5h0M519.3 161.8h0M522.7 144.2h0M524.4 145.2h0M526.5 149.2h0M525.2 142.6h0M515.9 148.6h0M523.3 154.2h0M525.9 163.8h0M521.6 166.0h0M515.2 143.6h0M519.1 149.0h0M520.5 142.8h0M521.8 151.2h0M523.4 159.2h0M514.7 147.7h0M527.5 144.0h0M525.2 148.8h0M517.1 142.2h0M521.8 147.3h0M526.7 162.2h0M527.7 158.7h0M520.4 163.0h0M523.4 151.7h0M514.4 165.9h0M522.2 148.9h0M526.3 150.9h0M523.2 163.5h0M518.4 146.7h0M526.3 164.9h0M529.5 156.4h0M523.2 163.7h0M516.1 155.2h0M514.1 145.7h0M517.3 146.6h0M521.7 150.2h0M516.1 159.5h0M522.2 156.3h0M515.7 165.1h0M520.0 163.2h0M520.3 149.1h0M523.9 162.1h0M524.9 148.0h0M529.9 142.7h0M526.4 153.8h0M526.9 159.2h0M523.0 147.0h0M520.6 153.6h0M522.2 146.2h0M526.8 145.3h0M523.4 148.9h0M526.8 160.2h0M518.7 143.0h0M516.0 158.1h0M529.1 161.3h0M523.1 149.8h0M521.4 165.0h0M523.1 146.4h0M520.0 143.8h0M518.6 148.8h0M523.2 156.0h0M514.5 151.9h0M520.7 145.3h0M520.4 156.7h0M524.1 147.6h0M517.2 145.9h0M521.4 151.4h0M525.6 153.4h0M518.5 153.5h0M525.3 160.2h0M521.6 161.1h0M531.1 158.8h0M520.2 161.1h0M517.9 149.5h0M526.4 145.4h0M518.2 147.8h0M522.3 166.5h0M522.2 141.0h0M512.5 154.2h0M525.1 142.0h0M522.6 153.6h0M517.7 164.1h0M526.6 142.3h0M522.3 141.2h0M519.8 153.3h0M526.6 146.2h0M524.1 159.3h0M514.8 155.6h0M522.7 156.9h0M528.3 155.1h0M527.0 145.4h0M524.1 153.5h0M519.0 159.2h0M528.0 156.5h0M524.4 161.3h0M521.9 153.3h0M522.4 146.2h0M526.7 146.3h0M526.6 155.9h0M515.9 160.4h0M525.1 158.4h0M522.4 146.6h0M517.6 143.1h0M531.4 150.5h0M446.1 253.7h0M454.0 240.1h0M453.8 235.5h0M454.4 256.5h0M452.7 271.8h0M455.1 235.6h0M448.6 241.5h0M446.9 230.2h0M442.6 245.1h0M452.5 236.2h0M452.9 247.0h0M451.9 266.1h0M452.2 234.3h0M457.2 265.7h0M449.0 238.0h0M451.7 232.5h0M450.6 234.8h0M456.7 263.0h0M448.0 233.1h0M453.8 233.3h0M446.3 232.9h0M455.6 266.2h0M455.1 246.0h0M456.2 256.2h0M455.8 235.7h0M449.6 264.2h0M447.6 147.9h0M448.7 146.7h0M441.1 142.3h0M441.2 162.0h0M430.9 190.8h0M434.8 171.3h0M439.7 161.4h0M422.0 208.6h0M434.5 164.4h0M501.8 72.6h0M472.6 122.2h0M413.5 218.0h0M512.3 55.5h0M427.6 232.7h0M418.5 213.4h0M509.6 57.3h0M421.0 217.2h0M424.7 233.4h0M438.2 168.3h0M483.0 86.2h0M434.9 156.3h0M515.5 54.8h0M421.2 209.6h0M509.7 61.2h0M434.3 156.6h0M501.2 59.1h0M465.6 130.0h0M434.0 150.5h0M457.8 128.0h0M431.0 158.3h0M496.5 76.5h0M438.7 155.1h0M415.3 205.0h0M440.8 156.4h0M457.9 132.9h0M510.6 59.2h0M432.1 154.3h0M448.3 136.1h0M473.6 114.7h0M427.2 234.1h0M495.9 77.4h0M512.1 50.8h0M489.1 85.0h0M449.2 149.5h0M437.7 145.8h0M435.5 165.1h0M422.8 191.4h0M484.9 90.2h0M519.4 49.7h0M511.6 56.7h0M487.4 73.7h0M445.3 149.4h0M423.2 203.2h0M490.3 87.6h0M518.9 51.3h0M440.9 162.5h0M440.2 160.0h0M426.3 183.9h0M438.1 148.3h0M477.1 117.0h0M434.0 151.8h0M487.1 73.7h0M474.2 107.3h0M434.2 176.4h0M429.6 174.9h0M477.9 90.7h0M427.1 190.7h0M429.3 186.7h0M424.6 210.7h0M429.7 190.4h0M423.3 191.9h0M442.6 147.1h0M444.2 144.5h0M449.6 145.1h0M478.2 113.2h0M516.1 53.3h0M479.7 113.5h0M443.3 141.7h0M469.0 118.1h0M460.4 135.5h0M423.1 222.7h0M426.7 192.2h0M421.3 202.1h0M434.6 161.4h0M471.6 114.8h0M423.3 209.9h0M430.0 184.0h0M486.2 83.0h0M487.9 82.4h0M442.0 153.0h0M518.5 45.5h0M450.1 142.2h0M522.8 45.9h0M453.5 134.5h0M463.6 87.1h0M428.7 169.7h0M432.2 161.5h0M444.2 141.4h0M470.2 118.3h0M445.0 139.6h0M450.1 141.8h0M457.4 109.7h0M485.0 88.6h0M500.1 67.8h0M432.7 152.5h0M451.8 125.3h0M462.3 130.3h0M485.2 76.9h0M425.4 164.6h0M447.0 151.2h0M442.2 156.1h0M432.0 173.3h0M443.4 120.8h0M466.4 123.3h0M476.6 95.0h0M461.6 95.6h0M454.1 124.6h0M458.7 123.6h0M455.4 116.3h0M497.6 67.8h0M418.8 152.0h0M435.3 167.6h0M414.9 158.5h0M421.5 148.1h0M412.6 85.0h0M413.0 140.0h0M412.0 150.0h0M418.0 260.0h0M433.0 268.0h0M447.0 265.0h0M440.0 280.0h0"/>
<path stroke="#fdae6b" d="M495.5 211.6h0M474.1 169.8h0M492.1 165.3h0M486.1 158.2h0M478.8 146.9h0M487.2 191.9h0M494.3 236.9h0M484.8 160.9h0M470.7 205.8h0M450.4 203.5h0M472.2 231.2h0M483.6 185.1h0M489.1 146.6h0M450.1 222.5h0M485.8 179.2h0M486.5 152.0h0M459.3 200.5h0M508.7 161.5h0M466.0 208.1h0M501.7 111.9h0M475.3 169.9h0M464.7 184.7h0M467.8 211.3h0M508.6 90.5h0M504.4 142.9h0M497.6 150.7h0M461.5 191.4h0M480.8 183.5h0M513.3 127.2h0M478.7 190.5h0M503.6 171.5h0M447.8 199.2h0M546.8 61.0h0M457.8 217.1h0M520.0 109.9h0M470.4 220.5h0M468.4 204.2h0M472.0 150.1h0M480.5 211.0h0M506.6 212.8h0M494.2 142.3h0M479.6 212.4h0M486.3 175.9h0M469.9 200.1h0M558.0 25.3h0M510.9 113.2h0M524.7 100.4h0M461.3 165.8h0M469.5 204.4h0M488.4 154.5h0M518.4 129.5h0M514.8 79.7h0M472.8 229.2h0M483.5 178.4h0M487.4 155.1h0M491.6 179.0h0M467.0 198.7h0M521.9 130.9h0M522.6 194.1h0M564.8 36.0h0M511.8 92.9h0M493.0 206.5h0M495.6 211.7h0M523.4 179.3h0M474.4 176.1h0M475.9 159.6h0M527.3 209.0h0M501.3 206.9h0M516.7 116.1h0M455.1 211.1h0M481.5 189.5h0M496.3 128.3h0M518.1 227.2h0M535.4 72.0h0M504.9 179.7h0M500.3 150.7h0M501.2 110.9h0M458.8 192.1h0M471.6 175.9h0M461.9 216.2h0M455.4 173.7h0M473.1 170.7h0M490.4 156.7h0M494.2 163.4h0M524.1 188.9h0M522.9 115.7h0M515.1 183.0h0M450.1 183.3h0M496.4 228.2h0M525.1 127.0h0M539.1 64.7h0M524.1 168.2h0M490.5 223.3h0M519.4 82.4h0M513.4 167.9h0M512.1 238.7h0M468.0 217.9h0M528.5 123.7h0M469.7 237.2h0M524.3 130.3h0M483.7 228.2h0M465.2 183.1h0M478.0 132.6h0M513.4 128.5h0M478.4 260.6h0M509.9 192.4h0M520.7 174.2h0M464.5 214.1h0M500.1 154.4h0M500.9 189.8h0M493.9 177.5h0M489.7 211.3h0M561.8 39.3h0M493.4 151.1h0M518.3 86.6h0M468.8 198.7h0M470.3 159.9h0M528.0 137.9h0M521.5 237.4h0M535.9 112.5h0M550.5 73.7h0M471.0 216.9h0M502.1 141.3h0M465.2 201.5h0M509.8 99.2h0M525.7 107.7h0M511.9 132.9h0M505.7 117.6h0M488.4 177.4h0M495.8 123.4h0M493.1 134.9h0M477.2 136.6h0M562.5 43.9h0M496.6 127.1h0M456.8 197.4h0M482.3 200.5h0M528.8 130.1h0M482.1 155.4h0M478.6 174.2h0M475.6 196.0h0M481.6 185.7h0M535.9 70.5h0M470.3 167.8h0M470.5 196.7h0M489.2 129.4h0M465.5 178.5h0M494.2 158.0h0M507.3 178.7h0M475.7 193.0h0M480.8 150.0h0M486.4 168.0h0M488.7 179.1h0M471.6 194.9h0M577.4 49.6h0M525.5 111.9h0M528.7 91.5h0M467.0 187.0h0M518.8 136.1h0M492.0 180.3h0M497.8 233.0h0M503.0 230.0h0M475.2 150.0h0M561.3 46.3h0M505.6 119.4h0M490.3 149.6h0M472.2 159.9h0M467.0 213.2h0M507.2 174.7h0M470.3 185.2h0M494.1 164.7h0M509.7 94.6h0M553.5 58.4h0M460.9 190.7h0M486.7 162.0h0M522.5 85.8h0M556.3 87.4h0M505.1 114.7h0M483.8 217.5h0M493.8 140.0h0M504.3 168.2h0M529.4 61.0h0M486.2 125.0h0M496.0 134.5h0M481.1 222.5h0M457.8 186.7h0M532.6 72.4h0M512.4 109.7h0M542.5 117.4h0M522.3 206.9h0M534.0 134.7h0M549.7 103.2h0M496.3 204.8h0M500.0 248.0h0M558.3 52.6h0M480.0 223.2h0M547.2 63.0h0M467.0 208.2h0M510.3 237.6h0M500.7 148.5h0M485.2 224.4h0M465.9 215.1h0M513.9 193.9h0M501.2 110.4h0M489.6 165.3h0M449.7 216.3h0M520.4 100.2h0M509.2 122.0h0M483.4 163.3h0M547.4 96.8h0M476.0 177.8h0M469.8 203.5h0M470.3 145.5h0M519.8 125.6h0M526.5 74.2h0M546.2 81.2h0M494.3 190.7h0M464.7 194.9h0M561.3 74.0h0M457.4 214.3h0M469.9 182.4h0M484.5 242.3h0M488.7 179.8h0M523.0 218.5h0M466.5 181.7h0M467.9 195.5h0M561.7 40.6h0M514.6 86.2h0M544.9 97.1h0M456.9 190.8h0M526.1 100.7h0M497.4 102.7h0M561.7 49.7h0M531.2 88.7h0M466.3 173.2h0M488.7 165.0h0M481.7 211.8h0M474.3 210.5h0M531.6 62.0h0M461.9 215.4h0M492.7 245.0h0M524.7 232.5h0M454.4 207.8h0M530.5 120.9h0M536.0 71.7h0M463.1 226.2h0M534.7 100.1h0M460.7 191.0h0M460.4 181.2h0M485.7 121.7h0M519.3 86.4h0M514.7 207.6h0M559.8 81.6h0M523.7 134.7h0M492.8 181.9h0M469.7 183.8h0M476.4 217.1h0M491.7 128.4h0M518.5 94.9h0M479.7 246.2h0M523.5 204.2h0M535.1 86.1h0M464.8 195.5h0M507.7 164.9h0M467.3 242.9h0M508.6 144.1h0M521.0 118.6h0M518.8 235.6h0M505.5 220.8h0M444.4 183.7h0M511.1 127.8h0M516.1 96.7h0M501.5 194.0h0M489.4 148.3h0M544.0 112.7h0M463.1 183.0h0M514.9 113.6h0M500.2 118.9h0M488.5 172.0h0M495.6 153.6h0M491.9 261.5h0M471.6 203.0h0M515.4 193.3h0M517.4 91.8h0M472.4 214.5h0M499.8 194.3h0M545.1 66.0h0M506.1 139.2h0M464.1 175.4h0M483.7 162.6h0M476.1 211.3h0M494.6 267.8h0M513.3 239.4h0M460.0 208.8h0M474.7 193.5h0M507.8 118.5h0M494.3 160.6h0M495.2 210.6h0M485.5 164.9h0M504.2 217.8h0M523.6 103.8h0M500.6 200.3h0M513.2 109.2h0M536.7 72.6h0M472.1 170.2h0M563.0 30.7h0M492.9 181.7h0M459.3 166.7h0M474.4 225.6h0M498.6 123.7h0M476.1 152.2h0M466.7 199.1h0M493.5 266.2h0M497.7 137.6h0M465.7 206.2h0M456.4 214.6h0M487.4 220.7h0M491.8 197.8h0M478.8 183.2h0M510.2 210.6h0M523.8 139.1h0M545.7 91.3h0M523.2 229.3h0M513.7 189.6h0M517.5 121.5h0M567.4 45.7h0M464.3 229.3h0M454.8 228.5h0M458.5 202.4h0M463.7 195.6h0M452.9 218.8h0M488.7 146.0h0M495.1 132.7h0M464.8 248.4h0M490.6 167.8h0M507.1 116.1h0M549.3 57.5h0M520.3 101.9h0M510.5 108.8h0M504.4 148.4h0M474.0 207.5h0M518.6 174.6h0M499.4 230.9h0M534.6 92.0h0M559.9 81.3h0M472.6 186.2h0M502.4 106.9h0M486.3 127.5h0M504.2 251.1h0M519.3 256.5h0M495.8 208.9h0M460.3 205.1h0M491.9 194.1h0M534.6 136.0h0M479.5 172.1h0M519.7 239.4h0M492.6 165.5h0M461.1 181.2h0M500.0 175.0h0M519.7 80.6h0M522.9 81.5h0M493.0 237.1h0M557.3 84.0h0M474.4 227.6h0M476.2 178.5h0M486.7 223.7h0M491.4 206.9h0M556.0 78.2h0M456.8 201.1h0M534.3 114.5h0M550.6 98.8h0M515.0 188.6h0M491.0 165.8h0M471.0 207.4h0M495.7 166.0h0M454.0 201.0h0M495.7 105.9h0M493.5 177.8h0M460.8 215.9h0M454.0 222.5h0M519.6 230.5h0M450.9 203.6h0M493.2 204.7h0M468.4 204.1h0M472.6 168.6h0M474.1 209.1h0M493.8 140.2h0M468.7 191.6h0M540.7 91.6h0M505.0 267.9h0M505.3 143.6h0M478.7 191.7h0M464.7 213.7h0M481.3 147.8h0M488.3 140.1h0M480.8 209.9h0M488.3 167.4h0M452.8 176.5h0M465.6 194.2h0M486.8 206.0h0M502.4 137.1h0M449.0 201.4h0M483.8 194.5h0M528.4 228.4h0M536.3 62.9h0M487.4 170.4h0M477.9 142.4h0M510.9 87.9h0M506.1 128.9h0M526.8 68.5h0M469.5 250.9h0M502.1 152.9h0M480.1 202.2h0M586.9 25.5h0M492.8 215.0h0M480.7 132.7h0M464.8 191.1h0M501.5 117.6h0M502.2 248.6h0M519.4 144.7h0M469.7 223.5h0M508.6 206.7h0M449.2 206.2h0M493.4 193.2h0M466.6 168.1h0M476.5 158.0h0M509.2 160.3h0M496.1 165.8h0M467.1 201.5h0M465.8 169.4h0M508.8 98.1h0M487.5 230.8h0M485.1 211.7h0M502.0 93.8h0M460.7 221.5h0M496.4 195.5h0M479.2 241.2h0M500.8 180.5h0M522.9 115.4h0M570.7 51.0h0M507.6 190.0h0M483.1 165.3h0M512.3 151.3h0M508.4 125.8h0M488.3 138.1h0M530.0 95.0h0M449.3 211.1h0M526.3 126.4h0M478.0 190.1h0M508.4 125.6h0M483.0 127.4h0M467.9 174.6h0M481.2 186.0h0M523.3 213.1h0M518.0 103.1h0M496.0 264.5h0M485.3 171.6h0M484.1 229.7h0M478.9 226.1h0M504.8 176.7h0M506.4 242.5h0M518.7 124.2h0M502.3 223.9h0M570.0 63.1h0M472.3 246.3h0M462.8 162.7h0M458.8 202.7h0M470.7 211.9h0M474.5 180.2h0M471.1 211.0h0M507.0 107.2h0M533.2 118.0h0M511.0 169.2h0M492.5 187.5h0M507.4 207.0h0M484.0 154.1h0M540.0 88.7h0M512.2 112.6h0M489.7 245.5h0M485.2 218.8h0M544.5 64.9h0M482.3 180.1h0M512.4 109.9h0M471.2 198.4h0M510.5 197.8h0M464.7 241.5h0M466.5 205.0h0M464.4 206.5h0M551.4 31.5h0M475.8 154.9h0M474.6 173.0h0M515.1 175.9h0M469.8 156.1h0M465.2 185.0h0M495.7 177.8h0M523.5 254.4h0M530.7 127.4h0M483.0 244.7h0M517.8 217.8h0M508.6 188.9h0M481.7 209.5h0M482.8 211.2h0M448.5 202.3h0M454.8 195.3h0M513.8 117.8h0M493.2 197.3h0M509.8 124.6h0M504.9 206.3h0M551.6 46.8h0M559.2 49.3h0M456.3 180.4h0M480.1 245.3h0M471.2 199.5h0M460.6 226.2h0M556.6 90.6h0M517.5 182.6h0M514.0 103.4h0M511.5 239.1h0M500.1 169.7h0M544.2 118.7h0M495.8 237.9h0M507.7 232.9h0M464.2 180.3h0M495.4 128.2h0M457.5 171.3h0M528.8 111.6h0M456.5 213.2h0M485.1 239.6h0M484.9 173.5h0M531.2 84.0h0M479.3 201.4h0M502.3 161.3h0M476.3 193.0h0M460.7 186.8h0M462.5 180.4h0M496.5 162.0h0M495.0 226.6h0M490.1 167.3h0M518.3 117.2h0M526.7 223.0h0M507.4 211.3h0M535.1 122.7h0M512.3 113.7h0M476.5 182.6h0M473.8 210.8h0M502.6 190.6h0M483.4 224.2h0M451.7 206.5h0M455.8 185.4h0M483.9 170.7h0M502.5 129.6h0M512.2 114.7h0M475.4 220.7h0M511.5 224.1h0M500.7 129.4h0M503.8 145.0h0M545.2 128.4h0M462.0 187.2h0M486.7 135.1h0M501.9 131.0h0M490.5 159.0h0M518.5 146.6h0M515.9 172.7h0M499.7 255.8h0M486.4 184.6h0M551.5 114.6h0M473.7 177.3h0M519.0 178.4h0M472.6 218.2h0M492.0 281.8h0M472.9 188.3h0M459.7 167.0h0M526.1 93.4h0M521.8 86.5h0M590.2 27.0h0M528.8 129.4h0M474.9 168.7h0M571.4 54.1h0M450.1 190.5h0M572.0 35.7h0M481.8 141.4h0M481.4 208.4h0M500.3 239.5h0M486.4 170.5h0M500.5 154.9h0M522.3 216.6h0M552.9 70.9h0M490.7 116.0h0M497.0 205.5h0M532.9 51.5h0M445.5 206.1h0M508.9 111.2h0M467.8 187.3h0M490.0 149.4h0M519.9 104.7h0M460.5 206.3h0M515.2 111.7h0M512.5 178.1h0M474.9 256.9h0M490.7 237.9h0M541.2 83.5h0M470.9 179.6h0M504.4 172.4h0M520.3 198.0h0M496.5 186.3h0M463.3 226.6h0M462.9 210.1h0M491.9 139.5h0M531.4 119.4h0M484.8 201.0h0M547.6 45.4h0M512.2 133.9h0M486.1 214.7h0M483.5 245.3h0M456.2 195.7h0M521.0 82.2h0M477.5 165.7h0M509.5 194.6h0M515.9 170.4h0M517.0 150.7h0M454.7 192.8h0M485.5 170.9h0M498.7 131.8h0M531.2 65.3h0M483.7 202.1h0M526.1 224.9h0M555.8 70.7h0M500.0 152.9h0M522.4 245.2h0M487.8 148.1h0M469.7 163.0h0M549.8 64.1h0M526.8 129.4h0M469.5 179.6h0M518.2 170.1h0M521.4 176.7h0M504.7 129.7h0M572.8 25.5h0M523.7 101.6h0M526.9 58.3h0M508.3 173.9h0M537.7 70.0h0M446.3 212.2h0M503.5 126.6h0M498.8 122.4h0M493.8 178.6h0M519.5 64.7h0M472.3 208.2h0M485.1 181.5h0M453.8 184.2h0M528.2 98.6h0M505.4 208.5h0M512.8 179.6h0M466.3 194.2h0M495.2 153.8h0M537.7 98.4h0M477.7 204.5h0M504.4 120.4h0M532.8 101.8h0M570.6 20.1h0M533.6 84.9h0M481.5 154.2h0M538.4 118.3h0M502.0 144.1h0M474.1 196.7h0M454.1 187.5h0M525.0 81.1h0M517.3 192.5h0M488.3 168.5h0M533.8 125.9h0M568.5 44.4h0M454.6 210.8h0M475.4 162.6h0M512.9 94.9h0M468.8 254.7h0M458.3 199.2h0M491.6 125.2h0M481.0 129.6h0M459.9 195.4h0M534.0 128.1h0M491.5 185.1h0M468.4 220.9h0M501.8 119.8h0M542.6 109.1h0M535.2 82.7h0M455.4 210.0h0M507.5 235.7h0M509.8 94.0h0M483.4 213.6h0M469.3 200.5h0M452.5 202.3h0M522.2 190.7h0M515.1 126.6h0M539.7 124.6h0M539.5 108.2h0M568.2 60.8h0M494.3 167.5h0M468.9 174.7h0M499.3 126.4h0M473.1 194.9h0M499.7 136.2h0M453.8 219.5h0M447.3 217.8h0M456.4 196.6h0M550.7 51.3h0M498.7 121.0h0M513.6 119.1h0M462.3 207.7h0M480.6 132.9h0M497.5 112.8h0M492.3 141.6h0M482.1 154.6h0M492.6 205.1h0M492.4 151.6h0M492.9 125.3h0M493.0 138.1h0M455.7 214.4h0M520.7 183.6h0M446.2 216.8h0M463.0 203.8h0M504.6 166.8h0M468.0 229.4h0M447.1 224.9h0M540.2 115.6h0M477.2 144.7h0M543.6 105.1h0M477.8 195.1h0M496.0 135.3h0M552.2 112.5h0M507.4 115.4h0M482.3 241.6h0M512.4 241.4h0M464.1 194.2h0M553.6 58.8h0M522.3 200.8h0M484.4 216.4h0M453.3 215.7h0M491.7 221.5h0M520.1 227.7h0M485.1 203.6h0M473.9 145.7h0M527.7 229.2h0M472.3 231.6h0M504.5 194.2h0M501.6 181.0h0M454.5 210.2h0M497.1 145.2h0M515.0 133.1h0M533.3 112.4h0M532.8 92.8h0M555.4 105.1h0M473.4 193.8h0M544.5 118.5h0M493.7 173.7h0M472.1 183.5h0M517.7 72.1h0M488.2 154.5h0M523.4 229.5h0M562.7 51.3h0M510.8 225.5h0M498.6 119.0h0M551.8 72.2h0M494.0 155.3h0M511.5 107.1h0M471.0 193.5h0M472.8 220.1h0M498.7 236.5h0M498.8 123.3h0M494.3 232.2h0M488.7 181.8h0M467.2 218.6h0M552.3 78.9h0M510.2 235.2h0M570.6 52.0h0M474.1 213.7h0M517.3 93.5h0M507.5 97.3h0M500.6 135.5h0M515.4 181.1h0M451.4 221.8h0M470.2 248.6h0M501.2 267.6h0M461.2 224.6h0M521.6 220.8h0M544.3 109.3h0M466.9 224.3h0M472.3 172.8h0M495.8 143.9h0M490.7 146.8h0M518.7 126.0h0M500.5 114.5h0M509.7 190.9h0M480.3 187.3h0M467.8 188.0h0M512.9 227.5h0M564.4 36.3h0M559.6 82.9h0M464.5 200.7h0M507.5 191.7h0M487.8 147.5h0M513.7 174.7h0M511.0 93.4h0M437.9 219.6h0M479.6 178.3h0M490.2 173.9h0M507.5 165.6h0M500.2 126.9h0M496.0 239.2h0M461.9 215.6h0M530.1 107.4h0M435.1 205.8h0M518.6 257.1h0M469.0 175.6h0M465.0 202.7h0M539.4 52.7h0M465.0 235.3h0M479.5 219.8h0M535.5 89.3h0M463.7 217.4h0M497.8 140.5h0M481.2 189.5h0M459.8 214.0h0M474.6 185.1h0M467.9 208.3h0M519.9 247.3h0M536.1 56.8h0M470.2 196.0h0M479.9 198.4h0M513.2 125.9h0M548.4 89.2h0M526.9 187.0h0M492.3 198.4h0M466.7 210.2h0M552.0 74.0h0M519.6 182.5h0M486.8 247.2h0M461.1 195.8h0M495.8 156.8h0M528.7 87.8h0M581.8 41.0h0M490.3 166.7h0M446.1 181.8h0M521.6 204.0h0M528.7 119.1h0M474.0 183.5h0M505.9 118.0h0M517.7 214.9h0M505.5 135.3h0M486.1 197.6h0M506.6 119.3h0M522.9 100.6h0M490.3 176.9h0M470.8 171.2h0M516.9 206.9h0M519.8 236.8h0M443.5 206.2h0M498.2 188.2h0M473.7 215.2h0M505.1 123.7h0M543.7 84.8h0M465.3 218.4h0M508.9 153.0h0M519.9 100.0h0M516.4 107.0h0M466.8 191.6h0M515.6 214.3h0M492.9 230.5h0M460.8 177.5h0M558.8 40.2h0M531.9 114.3h0M460.1 183.2h0M473.4 216.7h0M551.3 65.6h0M468.3 190.5h0M491.0 225.5h0M456.2 205.1h0M486.9 225.8h0M530.2 99.8h0M465.0 201.3h0M452.6 214.2h0M526.9 183.1h0M470.1 197.5h0M513.0 142.7h0M476.2 215.7h0M502.2 193.7h0M489.6 151.8h0M465.0 170.5h0M536.8 96.6h0M461.5 171.7h0M464.8 193.1h0M514.1 83.9h0M498.0 211.9h0M512.9 195.3h0M494.1 131.3h0M468.3 185.1h0M503.6 132.6h0M534.5 132.9h0M492.3 228.6h0M497.4 205.6h0M513.8 150.4h0M482.5 223.4h0M498.6 219.5h0M463.8 205.2h0M503.3 177.1h0M499.1 131.9h0M448.0 226.6h0M471.5 207.0h0M496.0 252.7h0M484.7 145.7h0M500.2 189.7h0M494.7 217.6h0M521.0 112.8h0M511.2 239.8h0M456.4 187.0h0M521.3 211.4h0M519.5 247.8h0M445.5 196.2h0M513.0 138.7h0M468.5 173.1h0M474.0 173.5h0M557.1 41.7h0M525.0 96.9h0M469.2 175.2h0M520.1 243.7h0M474.7 144.0h0M507.5 152.2h0M520.4 103.3h0M511.4 139.2h0M448.3 226.8h0M536.2 129.2h0M492.3 200.5h0M497.4 240.7h0M559.8 44.2h0M458.0 206.8h0M552.4 69.6h0M467.1 219.2h0M513.5 202.5h0M448.2 201.6h0M488.9 147.2h0M481.1 184.7h0M493.1 146.6h0M584.3 33.9h0M492.2 140.5h0M476.2 138.2h0M510.5 208.5h0M463.4 191.6h0M467.9 209.5h0M484.9 152.4h0M515.7 171.6h0M537.5 97.1h0M480.2 192.9h0M514.4 127.3h0M517.7 117.2h0M518.8 80.3h0M488.2 207.6h0M476.5 149.6h0M502.6 243.6h0M461.5 165.1h0M478.4 200.8h0M518.3 178.8h0M466.4 216.4h0M478.7 186.6h0M489.2 211.0h0M450.1 206.2h0M447.4 202.6h0M448.1 193.4h0M531.8 65.1h0M496.4 107.4h0M532.4 110.0h0M484.4 249.2h0M531.8 87.0h0M491.3 202.6h0M460.7 172.2h0M477.3 152.6h0M530.9 74.3h0M527.6 111.6h0M479.9 231.2h0M475.7 191.0h0M465.6 182.0h0M467.4 218.2h0M472.0 200.2h0M456.8 174.5h0M454.1 207.9h0M478.8 208.4h0M492.3 152.2h0M519.9 186.8h0M513.5 210.6h0M478.1 198.3h0M469.4 220.7h0M511.4 80.9h0M552.3 68.5h0M497.1 156.5h0M462.3 228.6h0M549.9 61.0h0M513.7 208.2h0M509.8 186.9h0M508.7 189.7h0M523.5 200.0h0M474.8 196.9h0M569.1 25.7h0M477.8 178.0h0M497.2 190.4h0M461.5 218.8h0M518.4 235.5h0M506.0 83.7h0M506.0 132.7h0M527.3 209.4h0M538.3 79.6h0M481.6 255.9h0M523.8 111.4h0M438.8 218.7h0M514.9 109.4h0M486.9 239.2h0M487.5 167.9h0M472.8 177.7h0M510.8 117.2h0M511.0 264.9h0M492.4 202.6h0M452.0 227.7h0M471.2 211.0h0M535.1 75.3h0M508.4 130.9h0M483.0 132.3h0M559.7 49.0h0M488.6 218.1h0M527.4 124.0h0M475.6 149.3h0M472.7 152.1h0M469.1 182.2h0M492.0 217.8h0M490.7 131.8h0M464.9 173.7h0M489.2 240.3h0M447.2 203.3h0M485.0 188.7h0M492.2 153.4h0M498.2 120.9h0M467.2 209.0h0M502.1 177.9h0M496.5 186.1h0M513.0 258.3h0M489.5 138.1h0M509.5 196.2h0M451.5 203.0h0M501.1 229.1h0M531.1 129.8h0M473.7 185.5h0M535.9 132.3h0M473.0 214.9h0M467.5 220.4h0M523.9 108.1h0M503.7 165.9h0M493.6 131.8h0M482.0 151.5h0M564.9 42.9h0M510.7 130.4h0M534.4 96.5h0M471.4 151.0h0M488.8 133.9h0M517.6 219.2h0M548.5 55.9h0M457.7 204.7h0M472.0 213.9h0M461.7 230.1h0M473.1 198.3h0M493.0 160.2h0M497.6 265.6h0M478.0 176.3h0M537.6 109.9h0M483.8 171.2h0M499.9 185.3h0M469.5 234.6h0M451.6 202.9h0M456.9 202.8h0M490.8 158.7h0M504.1 148.6h0M469.9 186.8h0M452.2 214.2h0M504.2 137.2h0M482.3 164.2h0M490.9 201.5h0M543.8 83.1h0M487.1 157.8h0M463.8 214.5h0M446.1 216.3h0M501.6 150.8h0M464.7 205.7h0M490.7 123.4h0M479.6 193.9h0M491.3 205.3h0M552.3 53.4h0M502.0 228.7h0M532.8 92.6h0M557.0 83.9h0M530.6 122.9h0M498.5 129.3h0M512.8 140.0h0M483.8 276.6h0M473.8 179.6h0M501.4 169.1h0M508.1 178.4h0M528.3 119.2h0M522.3 90.3h0M495.5 181.1h0M453.4 193.6h0M536.5 65.8h0M543.2 85.5h0M488.7 190.2h0M524.3 79.2h0M497.7 172.7h0M515.3 121.1h0M467.0 197.4h0M543.5 62.4h0M472.7 190.0h0M532.6 67.5h0M454.0 219.7h0M495.9 212.8h0M468.7 205.9h0M512.9 195.9h0M447.2 196.6h0M471.5 182.9h0M493.3 185.1h0M507.3 187.0h0M457.5 185.4h0M481.5 180.3h0M502.0 112.8h0M451.6 214.2h0M504.0 188.9h0M534.9 90.1h0M490.6 128.9h0M520.5 99.3h0M504.0 116.7h0M484.4 194.9h0M533.1 91.7h0M476.0 271.3h0M492.7 165.0h0M510.3 220.6h0M505.1 221.0h0M556.0 74.6h0M457.5 223.1h0M520.6 99.5h0M463.0 177.2h0M456.1 209.0h0M513.5 146.7h0M504.7 182.8h0M493.2 178.3h0M536.2 88.1h0M534.5 57.9h0M468.9 187.8h0M552.1 113.9h0M495.7 159.2h0M478.3 247.6h0M475.8 163.1h0M525.3 81.4h0M476.9 184.5h0M482.5 160.6h0M468.4 156.9h0M498.7 188.4h0M493.2 236.0h0M462.5 185.4h0M564.8 69.1h0M475.4 217.7h0M520.5 238.3h0M480.5 154.2h0M521.3 95.9h0M459.9 194.8h0M497.3 142.4h0M512.2 154.3h0M466.5 186.1h0M510.8 176.2h0M485.3 224.9h0M447.5 203.0h0M488.5 149.6h0M484.1 172.0h0M451.5 183.8h0M565.9 53.7h0M524.4 85.1h0M543.0 37.3h0M467.1 179.2h0M506.8 198.0h0M533.6 101.0h0M472.5 166.9h0M506.4 193.4h0M487.5 204.1h0M475.9 208.8h0M517.1 110.7h0M538.3 83.8h0M488.7 132.8h0M513.0 206.0h0M453.5 204.2h0M489.5 166.5h0M504.4 173.8h0M494.0 154.4h0M442.5 216.5h0M486.6 229.8h0M456.6 192.1h0M484.3 164.0h0M497.1 133.1h0M485.7 174.8h0M444.2 208.3h0M471.5 198.4h0M476.9 158.9h0M471.9 188.0h0M537.1 123.1h0M529.0 132.7h0M459.7 228.7h0M499.3 208.7h0M525.3 185.9h0M537.8 110.3h0M470.8 220.2h0M512.4 185.4h0M493.1 180.9h0M501.1 256.3h0M459.0 198.7h0M487.0 196.8h0M468.2 218.8h0M518.2 103.0h0M501.1 176.3h0M474.4 267.0h0M491.1 194.4h0M468.5 209.2h0M482.6 151.9h0M513.4 100.4h0M492.2 172.4h0M504.7 95.8h0M487.9 180.0h0M475.3 185.7h0M449.3 206.9h0M454.8 208.1h0M489.9 215.9h0M457.6 208.7h0M495.9 180.3h0M523.1 103.1h0M501.0 158.3h0M453.1 195.8h0M486.1 194.1h0M515.9 216.5h0M497.2 193.8h0M481.8 165.6h0M464.9 246.5h0M489.6 122.9h0M493.4 138.1h0M481.9 182.1h0M448.6 211.6h0M473.6 257.8h0M449.2 183.0h0M542.5 93.7h0M476.6 219.8h0M478.9 226.5h0M507.6 120.9h0M469.3 195.5h0M477.1 158.1h0M465.2 182.9h0M488.0 115.5h0M491.4 255.6h0M448.3 193.0h0M515.7 248.6h0M487.6 197.4h0M500.8 129.3h0M450.7 191.8h0M490.0 132.9h0M513.9 100.8h0M504.7 180.1h0M492.1 249.6h0M486.7 202.3h0M529.7 75.4h0M524.5 134.1h0M464.8 200.7h0M508.3 201.4h0M483.2 170.4h0M477.1 158.7h0M474.2 200.3h0M520.3 257.3h0M547.8 105.2h0M480.1 199.3h0M520.2 145.3h0M567.1 38.8h0M516.9 133.4h0M455.3 194.9h0M468.9 266.2h0M472.4 170.3h0M522.2 104.2h0M539.7 61.3h0M455.1 207.3h0M490.9 151.9h0M492.8 169.3h0M502.0 167.0h0M512.5 121.7h0M469.5 212.1h0M500.4 200.3h0M450.0 215.9h0M457.4 174.6h0M509.6 114.3h0M511.8 182.8h0M513.6 119.3h0M503.2 140.2h0M465.4 232.2h0M486.2 143.9h0M494.5 151.1h0M489.2 163.7h0M499.8 204.3h0M488.5 188.8h0M522.3 99.5h0M497.9 182.0h0M512.9 237.0h0M509.2 106.2h0M503.4 189.4h0M481.5 240.5h0M522.5 184.1h0M498.3 144.8h0M487.4 223.4h0M470.7 237.2h0M464.9 183.6h0M513.0 259.0h0M570.4 59.9h0M480.7 227.8h0M504.4 214.0h0M463.1 179.9h0M497.1 226.7h0M508.5 141.2h0M462.2 199.1h0M496.0 186.5h0M550.8 70.5h0M471.2 193.7h0M550.1 68.8h0M514.0 141.5h0M484.4 248.5h0M513.4 85.6h0M517.1 197.7h0M532.4 95.9h0M490.1 133.1h0M459.7 190.8h0M494.8 210.1h0M514.7 83.7h0M534.5 73.7h0M524.8 71.8h0M572.7 40.9h0M442.1 187.3h0M491.8 149.0h0M500.0 128.1h0M498.6 151.8h0M522.2 121.4h0M539.5 76.7h0M486.0 189.4h0M472.4 190.5h0M506.6 143.8h0M461.1 186.8h0M483.6 184.0h0M494.2 162.4h0M461.6 223.4h0M446.1 210.3h0M482.7 224.4h0M461.5 211.7h0M483.3 188.3h0M534.7 55.9h0M487.0 144.5h0M479.0 201.2h0M500.2 243.6h0M500.4 156.1h0M493.7 112.5h0M496.5 203.0h0M473.4 242.5h0M497.8 135.7h0M520.2 118.8h0M518.7 118.8h0M526.0 97.8h0M530.7 84.8h0M457.6 210.8h0M547.5 117.0h0M490.7 152.2h0M505.8 251.8h0M458.5 177.4h0M504.5 213.4h0M512.8 147.4h0M497.4 173.8h0M504.5 122.4h0M468.1 174.4h0M477.9 217.8h0M503.9 175.1h0M453.5 177.3h0M511.0 224.5h0M516.6 194.3h0M491.7 146.4h0M479.7 197.7h0M539.5 64.1h0M493.2 145.8h0M472.2 143.0h0M512.3 127.9h0M480.3 189.1h0M454.1 179.5h0M525.9 199.9h0M471.2 184.9h0M552.9 108.9h0M510.9 116.9h0M491.5 237.9h0M489.2 180.8h0M488.9 232.3h0M487.8 225.8h0M473.5 181.4h0M531.5 131.3h0M469.1 190.1h0M529.0 115.5h0M488.4 129.4h0M470.8 247.9h0M512.1 134.9h0M491.8 137.9h0M511.5 157.0h0M545.4 69.7h0M482.1 199.3h0M509.0 201.1h0M503.8 113.8h0M438.0 209.1h0M496.0 234.7h0M558.6 65.2h0M548.4 125.5h0M495.6 152.6h0M440.6 217.9h0M535.8 109.2h0M500.2 228.4h0M476.8 194.7h0M535.3 90.4h0M507.0 134.3h0M522.1 242.0h0M489.8 171.9h0M512.7 123.6h0M479.4 184.2h0M501.1 187.6h0M470.2 192.7h0M508.6 244.6h0M464.1 186.7h0M461.4 213.3h0M483.9 194.1h0M459.1 213.9h0M489.7 149.4h0M497.8 187.5h0M446.0 221.6h0M480.3 189.5h0M484.3 177.2h0M483.8 161.9h0M506.9 132.7h0M497.1 212.5h0M534.9 80.9h0M509.2 251.8h0M491.4 115.4h0M438.2 213.7h0M507.1 196.7h0M471.3 187.6h0M491.0 278.4h0M501.3 140.0h0M503.7 251.4h0M486.5 156.6h0M499.1 219.5h0M461.1 193.3h0M470.5 144.9h0M515.5 202.7h0M505.7 194.8h0M475.4 229.8h0M491.1 159.3h0M464.4 169.8h0M476.6 193.0h0M486.4 247.5h0M527.6 106.6h0M492.7 278.5h0M510.6 144.5h0M441.7 185.9h0M473.8 195.4h0M515.4 234.9h0M508.8 144.0h0M472.6 186.8h0M487.1 146.4h0M464.2 190.4h0M526.0 125.8h0M479.4 205.1h0M482.5 163.5h0M513.0 213.7h0M482.5 153.7h0M517.5 213.7h0M545.9 122.7h0M474.7 178.4h0M470.0 216.9h0M479.1 141.2h0M541.0 67.1h0M464.9 214.9h0M503.4 233.5h0M480.2 137.8h0M514.4 75.4h0M468.1 176.3h0M466.4 184.5h0M441.0 194.5h0M457.8 208.4h0M462.5 250.3h0M520.8 120.7h0M468.9 194.5h0M512.6 141.0h0M519.7 186.9h0M468.1 257.6h0M468.0 154.6h0M481.1 162.7h0M523.0 129.1h0M556.6 101.5h0M485.4 208.1h0M462.9 206.2h0M511.9 111.4h0M510.5 200.4h0M480.6 189.5h0M497.3 246.3h0M478.3 222.2h0M553.4 81.4h0M477.0 249.8h0M525.5 201.9h0M519.3 130.5h0M514.5 165.4h0M503.6 198.8h0M507.6 117.8h0M497.5 221.4h0M503.2 149.1h0M499.0 211.3h0M443.6 190.8h0M510.0 182.7h0M532.4 97.5h0M525.1 116.6h0M555.2 111.8h0M458.4 206.7h0M489.6 176.8h0M478.9 191.3h0M533.3 98.4h0M482.2 134.6h0M515.4 227.5h0M470.1 201.3h0M543.4 82.6h0M496.3 158.9h0M470.1 194.9h0M470.8 192.3h0M467.6 160.5h0M494.4 267.1h0M462.2 199.9h0M524.7 127.5h0M492.2 187.8h0M475.1 178.1h0M472.9 220.7h0M557.0 79.1h0M528.9 85.2h0M504.8 146.3h0M467.0 187.5h0M493.0 153.0h0M492.7 215.9h0M498.8 145.1h0M484.2 208.4h0M530.6 97.2h0M495.3 117.5h0M455.1 172.2h0M508.3 123.5h0M469.4 202.3h0M488.3 169.8h0M443.8 218.9h0M505.4 96.6h0M529.6 82.7h0M494.4 228.5h0M502.2 229.5h0M495.9 171.7h0M488.5 260.2h0M465.2 205.7h0M506.6 164.5h0M494.2 163.4h0M500.3 236.8h0M480.5 194.4h0M499.7 164.0h0M503.3 208.3h0M490.8 152.5h0M465.9 186.3h0M516.2 110.6h0M520.7 75.2h0M503.6 139.5h0M523.0 74.4h0M458.6 199.1h0M469.2 212.6h0M559.6 61.2h0M469.7 180.3h0M511.8 194.6h0M483.9 182.4h0M493.8 156.1h0M496.1 150.1h0M522.5 134.6h0M489.7 185.3h0M526.4 196.6h0M536.3 114.4h0M469.8 205.4h0M517.8 130.3h0M507.4 165.0h0M497.3 152.1h0M515.4 90.4h0M471.3 175.5h0M474.8 174.1h0M557.6 89.9h0M491.2 203.2h0M541.7 58.0h0M471.7 154.3h0M461.2 184.5h0M468.8 176.9h0M485.8 169.7h0M449.4 225.2h0M553.1 50.2h0M505.8 137.6h0M559.8 57.6h0M486.6 172.5h0M513.2 93.8h0M543.4 89.6h0M453.7 207.0h0M518.9 96.6h0M521.3 105.7h0M514.9 86.4h0M508.5 207.7h0M495.9 124.1h0M533.7 109.9h0M497.8 184.4h0M579.8 22.6h0M502.5 153.3h0M529.3 123.5h0M449.4 186.2h0M468.8 226.9h0M480.3 134.4h0M491.7 222.0h0M486.8 235.7h0M537.2 101.3h0M567.2 52.8h0M524.1 81.5h0M517.2 135.5h0M505.4 158.6h0M485.3 208.7h0M503.1 114.5h0M478.6 201.8h0M547.4 76.4h0M518.6 139.7h0M515.7 117.1h0M509.5 244.0h0M520.9 65.1h0M516.4 237.4h0M456.5 196.1h0M474.0 145.5h0M515.8 111.6h0M479.7 194.2h0M477.3 178.0h0M471.5 215.1h0M466.3 157.6h0M529.1 74.0h0M562.1 45.7h0M496.5 142.6h0M460.4 195.9h0M487.0 202.8h0M499.4 143.1h0M519.2 97.9h0M529.2 107.6h0M564.9 67.0h0M488.5 146.1h0M489.4 237.8h0M511.5 210.7h0M477.2 169.0h0M514.8 112.9h0M502.1 264.4h0M523.1 134.0h0M518.3 178.0h0M510.1 94.5h0M567.9 71.2h0M450.0 185.0h0M467.9 184.3h0M501.2 180.0h0M509.9 124.0h0M547.5 77.4h0M521.4 197.0h0M510.3 108.7h0M459.8 170.7h0M519.7 108.0h0M513.2 219.0h0M492.0 149.3h0M489.4 129.0h0M465.5 181.0h0M475.2 192.3h0M489.3 167.8h0M501.7 174.2h0M509.1 171.8h0M520.8 110.3h0M529.4 76.2h0M511.3 188.8h0M499.3 133.0h0M454.0 178.5h0M503.9 125.2h0M498.4 253.0h0M472.3 146.1h0M523.6 108.1h0M503.7 131.3h0M501.6 172.5h0M462.9 185.2h0M516.8 150.3h0M512.6 82.1h0M498.0 200.6h0M504.1 266.4h0M495.4 161.3h0M492.4 169.8h0M510.7 252.6h0M485.1 175.7h0M490.2 120.0h0M486.5 135.9h0M460.6 177.3h0M467.2 209.0h0M488.3 156.3h0M515.7 225.6h0M512.6 128.9h0M470.2 190.3h0M473.8 206.1h0M521.3 230.7h0M473.0 229.8h0M465.0 189.0h0M460.7 183.5h0M506.3 135.3h0M469.9 198.7h0M484.3 213.1h0M494.8 131.7h0M483.5 175.6h0M515.9 122.9h0M493.6 200.9h0M469.2 213.6h0M501.9 164.6h0M521.0 112.8h0M512.1 241.6h0M471.3 186.9h0M499.5 138.1h0M479.7 187.9h0M516.0 125.2h0M452.3 210.7h0M449.6 197.5h0M480.2 206.5h0M499.3 113.4h0M497.0 153.7h0M518.0 174.7h0M458.0 192.0h0M497.5 226.3h0M502.3 181.0h0M492.5 187.2h0M509.2 209.6h0M538.2 75.6h0M481.9 212.0h0M487.9 131.3h0M487.9 200.0h0M518.3 212.1h0M536.4 108.5h0M549.4 101.1h0M522.8 145.1h0M468.0 189.8h0M468.2 205.1h0M492.5 208.2h0M484.5 225.3h0M516.3 244.0h0M472.3 188.5h0M457.3 204.6h0M468.2 260.4h0M557.2 82.9h0M476.7 194.3h0M450.2 202.0h0M488.7 211.7h0M506.9 89.0h0M489.9 203.5h0M544.0 125.6h0M463.6 206.1h0M525.6 123.4h0M526.6 117.6h0M472.7 179.1h0M486.2 258.1h0M560.9 86.7h0M459.7 193.1h0M511.1 207.0h0M550.9 38.4h0M524.5 91.4h0M487.9 131.6h0M502.6 123.3h0M509.5 174.9h0M497.6 123.3h0M474.3 201.3h0M487.4 222.9h0M468.2 161.5h0M470.8 158.4h0M545.2 77.6h0M486.3 139.4h0M497.8 229.9h0M510.7 164.5h0M519.6 187.9h0M467.7 181.7h0M548.9 116.3h0M526.0 116.0h0M493.1 114.3h0M460.9 211.7h0M512.2 239.8h0M481.9 173.7h0M480.3 153.4h0M451.8 183.7h0M526.5 200.7h0M502.3 183.3h0M515.3 114.4h0M480.3 169.1h0M514.6 176.3h0M575.9 42.5h0M477.8 231.0h0M525.2 114.7h0M507.7 219.4h0M500.3 207.2h0M481.4 180.3h0M481.1 133.2h0M506.8 220.6h0M505.5 132.0h0M472.7 168.1h0M476.7 186.2h0M519.1 217.8h0M528.0 136.6h0M514.4 225.8h0M512.3 134.9h0M512.9 198.6h0M512.2 184.2h0M478.5 129.9h0M506.8 214.7h0M539.3 121.5h0M494.1 145.2h0M476.8 161.6h0M532.0 127.8h0M470.8 166.3h0M560.2 24.0h0M508.2 97.9h0M480.8 186.7h0M480.9 248.8h0M498.5 183.1h0M550.3 103.3h0M501.7 127.1h0M502.5 179.2h0M562.2 73.3h0M546.1 95.5h0M472.6 212.8h0M495.6 215.4h0M579.8 34.9h0M555.3 73.5h0M469.4 195.7h0M480.6 211.2h0M485.8 152.0h0M472.6 192.9h0M465.1 205.0h0M557.8 73.0h0M507.0 123.9h0M499.5 125.9h0M446.8 196.6h0M525.5 80.8h0M499.7 190.9h0M477.7 198.0h0M447.8 199.5h0M517.5 185.1h0M475.4 220.3h0M492.9 159.6h0M467.6 196.5h0M514.9 167.1h0M515.3 132.0h0M489.1 232.6h0M534.5 110.0h0M511.4 120.0h0M503.8 98.7h0M475.1 191.0h0M528.4 227.3h0M518.4 179.1h0M469.1 156.0h0M508.9 204.8h0M488.2 193.9h0M565.4 55.4h0M467.9 196.2h0M482.8 250.6h0M523.3 229.0h0M470.0 230.7h0M488.5 190.7h0M533.2 99.3h0M511.1 234.5h0M482.7 202.5h0M480.7 216.9h0M506.3 197.7h0M554.5 114.3h0M520.1 132.8h0M435.5 195.0h0M460.1 226.2h0M477.2 227.0h0M511.5 86.4h0M533.9 102.9h0M517.1 124.8h0M471.9 200.7h0M498.3 153.7h0M503.7 246.4h0M531.6 107.3h0M530.1 134.2h0M513.3 231.8h0M538.1 133.7h0M504.3 198.3h0M500.3 145.3h0M467.7 219.0h0M463.5 192.1h0M527.4 61.0h0M467.3 201.1h0M461.8 213.5h0M457.0 186.1h0M518.2 107.3h0M498.7 165.7h0M520.4 97.4h0M482.4 167.9h0M517.0 120.5h0M518.9 121.4h0M475.1 215.5h0M498.2 153.9h0M536.0 94.8h0M512.3 217.4h0M495.7 265.1h0M498.9 179.1h0M489.6 139.3h0M495.3 208.3h0M464.9 203.5h0M445.1 201.7h0M508.5 121.4h0M486.6 137.1h0M521.3 176.6h0M457.3 200.3h0M482.6 178.1h0M494.3 106.7h0M467.1 199.7h0M535.0 73.9h0M480.8 218.7h0M488.0 115.2h0M511.9 168.8h0M501.1 115.0h0M480.2 163.2h0M511.0 91.0h0M542.3 97.2h0M485.1 220.3h0M525.5 240.7h0M486.9 196.6h0M497.0 180.3h0M499.9 116.0h0M461.1 238.6h0M500.1 139.9h0M481.7 140.7h0M520.3 220.4h0M504.7 244.0h0M508.6 200.3h0M476.4 186.7h0M473.5 186.6h0M518.8 141.4h0M455.4 222.4h0M456.3 201.3h0M456.2 190.1h0M504.2 136.9h0M477.5 228.4h0M476.4 223.5h0M566.0 29.5h0M551.8 115.4h0M521.4 86.4h0M442.2 194.5h0M478.3 194.4h0M500.0 121.9h0M542.1 94.1h0M499.4 222.2h0M502.8 126.7h0M499.0 177.1h0M472.9 157.9h0M450.5 212.7h0M508.9 104.3h0M475.8 220.7h0M487.4 168.0h0M489.0 218.8h0M547.2 87.4h0M522.2 118.7h0M507.6 201.1h0M521.6 111.4h0M502.1 234.1h0M505.4 150.4h0M528.2 125.6h0M508.3 137.5h0M508.2 112.8h0M500.6 121.0h0M498.3 204.8h0M505.3 128.8h0M520.3 230.5h0M509.5 243.0h0M439.7 209.4h0M549.6 60.8h0M540.9 123.9h0M497.9 108.4h0M503.6 96.1h0M479.3 234.6h0M484.2 179.3h0M484.3 182.9h0M453.9 191.7h0M507.2 116.3h0M454.3 198.1h0M481.8 194.7h0M516.7 78.1h0M558.8 81.1h0M492.6 184.0h0M465.0 187.7h0M480.2 219.5h0M484.2 230.6h0M517.1 260.0h0M530.2 107.8h0M537.8 53.5h0M520.4 69.2h0M528.7 79.3h0M501.8 132.6h0M454.5 208.3h0M503.7 210.1h0M490.6 161.8h0M440.9 197.0h0M538.5 66.2h0M472.9 236.0h0M500.0 171.2h0M488.3 266.8h0M512.4 147.7h0M525.5 197.7h0M465.2 195.3h0M466.8 200.1h0M450.9 204.7h0M504.7 141.2h0M483.1 149.7h0M477.5 204.3h0M482.7 191.4h0M440.1 211.9h0M532.4 105.5h0M469.2 207.9h0M483.9 122.9h0M482.0 249.0h0M478.7 214.8h0M483.4 187.3h0M508.1 235.5h0M492.5 214.7h0M496.7 158.5h0M442.1 206.1h0M538.7 102.9h0M451.6 195.8h0M463.2 153.3h0M506.4 113.4h0M472.3 160.0h0M495.7 168.4h0M506.6 161.5h0M473.8 204.4h0M543.4 130.2h0M461.0 214.0h0M505.5 117.2h0M469.2 210.3h0M527.8 90.8h0M498.3 123.4h0M463.9 236.9h0M495.3 151.7h0M474.8 216.5h0M526.5 139.7h0M439.2 196.1h0M476.4 200.4h0M468.2 183.8h0M554.0 107.2h0M513.0 84.8h0M487.3 147.1h0M440.6 221.8h0M514.9 181.5h0M451.0 194.2h0M475.6 178.8h0M552.0 105.0h0M517.2 252.9h0M527.7 97.1h0M553.4 83.7h0M485.6 157.7h0M458.5 212.4h0M478.3 152.5h0M542.0 65.4h0M492.1 202.9h0M492.8 167.4h0M507.9 173.3h0M496.6 187.0h0M472.0 182.0h0M509.4 126.8h0M490.5 172.4h0M549.8 104.4h0M464.8 179.4h0M550.5 92.7h0M514.3 127.1h0M481.2 160.5h0M499.4 202.8h0M543.4 68.4h0M473.4 195.7h0M488.2 137.7h0M467.0 191.0h0M482.8 234.3h0M496.3 146.9h0M492.5 127.3h0M479.7 196.8h0M488.4 139.8h0M454.2 209.0h0M522.8 188.2h0M517.3 209.0h0M451.0 186.0h0M522.1 116.9h0M483.0 212.6h0M535.1 133.4h0M472.8 238.3h0M447.0 185.2h0M482.2 211.7h0M568.2 63.0h0M528.2 106.7h0M478.2 171.0h0M494.3 162.7h0M503.2 178.7h0M495.9 153.8h0M513.2 141.2h0M486.1 234.2h0M480.6 157.2h0M491.8 141.6h0M476.8 186.3h0M488.9 120.8h0M443.0 200.1h0M536.4 106.9h0M460.4 191.8h0M520.4 91.8h0M470.2 176.0h0M485.3 120.7h0M443.5 200.4h0M460.8 205.8h0M498.1 194.8h0M538.3 52.0h0M589.0 28.5h0M536.6 125.1h0M522.1 251.6h0M505.2 145.8h0M500.4 131.3h0M553.1 81.9h0M458.2 210.9h0M473.9 238.5h0M484.9 211.0h0M546.8 74.9h0M451.3 210.1h0M479.7 210.7h0M468.5 227.4h0M473.1 181.9h0M490.9 121.6h0M527.1 215.5h0M488.0 135.8h0M490.2 145.3h0M478.2 166.5h0M489.2 126.4h0M489.2 186.0h0M460.1 214.6h0M530.5 122.5h0M492.5 176.6h0M510.3 127.2h0M470.3 201.3h0M543.4 61.7h0M472.4 168.0h0M473.5 220.6h0M487.9 154.4h0M496.2 232.0h0M481.7 182.1h0M553.2 114.3h0M568.7 48.5h0M493.5 224.7h0M507.0 210.5h0M503.2 253.7h0M491.1 197.8h0M447.0 189.8h0M461.6 179.3h0M481.7 260.0h0M492.6 239.6h0M487.9 198.2h0M499.9 165.5h0M508.7 127.0h0M558.1 48.6h0M506.5 160.7h0M478.7 167.7h0M485.5 150.5h0M509.5 137.3h0M452.7 176.8h0M445.9 206.2h0M465.6 182.6h0M547.8 54.9h0M487.2 231.8h0M518.5 239.6h0M450.4 198.4h0M471.2 206.4h0M492.4 176.6h0M467.1 175.6h0M471.7 201.5h0M499.7 94.9h0M566.4 37.8h0M488.2 173.2h0M519.1 179.2h0M501.4 191.0h0M479.3 132.9h0M474.5 203.4h0M531.2 60.5h0M494.4 187.9h0M535.3 92.8h0M464.1 189.0h0M477.2 240.6h0M499.2 170.3h0M517.7 141.8h0M501.3 159.7h0M539.4 111.9h0M489.8 146.3h0M484.3 209.3h0M504.0 140.5h0M480.6 181.3h0M464.7 204.2h0M440.7 192.2h0M518.3 97.5h0M454.8 174.1h0M469.0 171.4h0M474.8 136.6h0M478.4 164.9h0M515.6 123.0h0M527.1 64.1h0M537.1 66.9h0M486.3 161.9h0M470.3 171.6h0M484.7 226.1h0M509.0 135.3h0M546.6 68.0h0M505.9 159.6h0M460.2 191.4h0M526.0 135.7h0M477.6 141.5h0M507.7 150.2h0M496.4 133.7h0M477.5 208.1h0M502.1 139.4h0M493.9 166.6h0M470.0 221.4h0M470.1 167.1h0M473.1 212.5h0M479.5 250.4h0M515.1 198.9h0M511.8 133.7h0M483.4 228.3h0M475.0 204.3h0M489.6 182.5h0M453.0 208.2h0M492.2 115.1h0M463.8 214.3h0M551.0 39.0h0M516.7 115.0h0M465.5 221.7h0M470.0 256.3h0M490.7 166.6h0M517.0 116.3h0M507.2 247.4h0M567.7 53.2h0M523.0 100.8h0M471.9 242.4h0M557.7 80.3h0M483.2 208.2h0M553.5 39.3h0M521.6 68.5h0M517.9 253.1h0M481.9 154.7h0M474.8 147.6h0M535.0 106.1h0M497.8 214.9h0M496.9 272.4h0M504.1 187.6h0M560.2 47.3h0M483.0 136.9h0M467.8 204.5h0M533.0 120.9h0M524.9 131.8h0M522.5 225.2h0M444.3 218.8h0M481.7 225.1h0M478.4 133.5h0M460.7 195.9h0M523.2 125.0h0M504.7 141.6h0M492.7 137.2h0M472.8 201.7h0M444.9 200.6h0M498.0 131.8h0M477.1 164.6h0M492.4 206.8h0M560.8 56.6h0M466.8 217.9h0M467.3 211.1h0M514.8 204.4h0M541.9 95.5h0M483.3 143.6h0M477.0 138.2h0M525.4 187.4h0M491.4 223.9h0M494.9 158.4h0M499.5 102.2h0M462.7 201.1h0M466.3 201.1h0M570.2 65.9h0M471.7 201.7h0M476.1 158.1h0M524.9 229.2h0M549.1 97.9h0M482.5 219.2h0M558.0 81.1h0M483.5 236.4h0M501.9 109.3h0M438.7 212.1h0M465.8 186.3h0M526.5 95.0h0M497.8 150.6h0M524.3 185.4h0M456.4 231.2h0M477.7 242.8h0M556.7 65.4h0M500.4 147.9h0M488.0 116.0h0M482.1 153.3h0M512.8 126.1h0M552.3 106.3h0M510.7 108.7h0M484.9 279.0h0M459.0 209.6h0M493.2 176.1h0M509.6 193.4h0M500.1 151.0h0M489.9 148.2h0M541.3 121.7h0M468.3 155.6h0M508.4 250.1h0M446.1 222.8h0M451.4 200.2h0M479.6 199.7h0M475.9 140.0h0M495.5 136.7h0M540.6 79.5h0M520.3 193.9h0M544.1 111.6h0M482.4 190.4h0M466.7 193.7h0M502.0 234.5h0M564.3 58.5h0M492.5 187.5h0M486.2 216.3h0M470.0 225.0h0M512.6 191.6h0M496.3 149.3h0M478.3 175.0h0M500.4 215.2h0M516.1 121.4h0M460.7 207.3h0M520.6 108.6h0M518.1 210.4h0M498.4 152.7h0M509.6 166.5h0M476.5 175.4h0M469.7 195.3h0M497.6 130.9h0M470.3 245.2h0M485.4 177.8h0M471.9 257.8h0M497.7 236.5h0M487.9 230.2h0M519.3 99.7h0M471.8 227.3h0M491.8 178.5h0M452.5 206.6h0M466.0 210.8h0M472.4 183.7h0M505.7 192.0h0M492.4 114.8h0M486.8 157.9h0M460.0 209.9h0M570.4 21.8h0M491.4 175.2h0M509.6 207.6h0M484.0 253.0h0M507.9 187.6h0M578.4 33.1h0M488.9 150.8h0M530.6 99.3h0M550.4 65.2h0M474.5 195.7h0M482.6 125.9h0M478.4 221.7h0M487.5 138.3h0M510.5 106.1h0M510.5 128.9h0M510.8 200.9h0M518.4 196.1h0M480.3 238.2h0M544.0 122.4h0M476.3 179.7h0M514.2 204.6h0M556.5 72.2h0M537.8 127.6h0M488.1 170.1h0M522.8 90.4h0M444.9 205.9h0M504.0 115.0h0M503.0 117.0h0M521.1 126.4h0M511.2 109.3h0M457.1 180.6h0M494.9 123.0h0M489.4 166.1h0M471.5 187.4h0M511.0 216.0h0M471.1 153.7h0M563.4 59.6h0M488.7 180.0h0M504.4 130.7h0M496.8 194.6h0M485.4 217.0h0M496.9 201.7h0M534.6 57.1h0M493.5 193.1h0M506.4 90.4h0M518.4 126.7h0M508.7 101.8h0M561.0 25.4h0M544.0 125.4h0M466.5 185.5h0M454.3 180.6h0M491.4 123.7h0M473.6 172.2h0M448.7 226.4h0M474.6 229.8h0M494.6 154.5h0M482.7 198.3h0M490.3 190.1h0M466.1 202.5h0M527.4 210.9h0M481.3 212.5h0M509.3 256.5h0M454.5 180.3h0M514.4 120.7h0M547.2 106.2h0M527.6 219.0h0M461.5 229.5h0M455.3 202.6h0M450.3 202.9h0M514.3 201.5h0M487.4 205.2h0M560.9 85.2h0M483.6 271.2h0M497.9 202.4h0M493.3 174.8h0M486.7 121.9h0M542.7 90.6h0M487.1 186.2h0M485.5 220.9h0M501.3 157.1h0M449.3 179.8h0M480.9 175.9h0M491.2 192.5h0M575.0 22.1h0M486.7 169.7h0M514.4 135.7h0M541.3 100.0h0M491.8 214.4h0M465.6 204.1h0M469.1 231.3h0M501.1 153.8h0M480.7 172.5h0M491.1 142.6h0M525.2 125.0h0M495.9 188.7h0M493.5 219.6h0M539.8 82.6h0M446.7 189.0h0M476.5 157.9h0M474.8 179.1h0M472.0 203.6h0M507.3 102.2h0M476.0 186.6h0M476.9 164.1h0M497.3 155.0h0M482.0 132.2h0M471.7 185.7h0M479.2 214.5h0M483.9 193.6h0M460.7 172.0h0M466.8 174.7h0M542.5 115.9h0M501.7 116.3h0M461.8 231.3h0M454.3 207.8h0M503.2 178.9h0M469.4 179.8h0M519.4 236.4h0M461.8 209.7h0M495.2 185.0h0M512.3 145.2h0M469.5 166.6h0M465.0 185.8h0M512.8 259.9h0M504.2 238.8h0M490.4 223.9h0M475.9 185.5h0M476.9 155.6h0M488.3 151.7h0M551.1 59.2h0M501.2 152.3h0M478.5 155.7h0M529.5 91.2h0M538.1 128.7h0M460.9 224.4h0M559.5 17.6h0M494.7 178.8h0M508.3 117.2h0M508.3 139.6h0M491.9 118.6h0M475.1 167.0h0M510.7 90.1h0M462.9 175.2h0M461.1 198.1h0M499.7 266.5h0M538.1 72.4h0M487.4 138.0h0M506.2 165.4h0M516.3 211.1h0M505.9 175.6h0M496.6 131.8h0M489.0 126.9h0M446.2 204.9h0M484.0 233.9h0M520.5 100.3h0M477.2 199.5h0M490.1 186.3h0M506.7 155.3h0M515.2 131.4h0M463.8 187.6h0M519.9 133.3h0M503.6 192.7h0M451.4 204.6h0M495.1 203.4h0M528.8 131.1h0M503.4 160.6h0M503.8 249.9h0M510.2 225.5h0M573.5 29.7h0M503.3 161.1h0M559.7 62.9h0M486.9 192.6h0M489.1 155.7h0M490.0 117.0h0M498.4 193.9h0M565.7 69.4h0M506.5 182.4h0M443.1 215.3h0M487.1 196.0h0M550.6 39.1h0M493.3 145.5h0M506.9 211.0h0M483.9 140.2h0M477.6 174.8h0M462.5 204.4h0M488.4 179.9h0M459.0 181.7h0M445.8 217.1h0M538.3 73.6h0M474.8 215.0h0M462.5 194.4h0M500.2 122.3h0M540.5 60.4h0M519.7 107.8h0M491.6 161.7h0M486.8 261.1h0M542.8 53.9h0M495.8 108.3h0M500.2 123.7h0M507.8 129.4h0M484.1 221.1h0M477.9 177.2h0M482.6 224.4h0M443.8 221.2h0M508.7 113.5h0M502.9 237.1h0M484.9 143.2h0M513.4 111.5h0M532.6 115.1h0M521.3 129.3h0M564.9 63.0h0M530.8 129.7h0M533.5 59.2h0M525.8 193.4h0M552.1 74.6h0M495.9 237.2h0M490.4 191.7h0M515.6 193.8h0M469.2 208.2h0M491.7 188.9h0M470.0 188.8h0M504.4 223.2h0M464.0 199.5h0M524.5 114.0h0M494.5 147.3h0M508.7 232.6h0M456.8 199.6h0M525.1 135.3h0M503.6 153.3h0M553.0 88.5h0M553.1 98.1h0M487.4 219.7h0M541.9 38.2h0M471.4 181.2h0M487.7 220.3h0M500.7 146.0h0M483.1 158.7h0M439.6 221.2h0M477.5 182.8h0M476.0 176.6h0M476.3 135.6h0M489.9 173.4h0M507.3 182.3h0M482.0 242.3h0M491.4 135.4h0M517.5 200.9h0M479.2 126.3h0M454.6 194.1h0M508.8 203.4h0M490.2 120.8h0M460.9 179.1h0M532.7 129.0h0M474.0 147.7h0M488.6 171.6h0M496.1 158.1h0M480.5 156.8h0M499.8 198.4h0M487.2 167.7h0M528.2 206.1h0M497.9 121.4h0M509.9 119.1h0M529.6 94.3h0M473.0 200.2h0M502.3 131.4h0M489.4 270.5h0M446.5 197.9h0M478.1 182.9h0M471.6 205.4h0M513.6 140.6h0M526.0 219.3h0M527.2 88.3h0M489.8 212.1h0M469.4 207.1h0M538.5 61.8h0M489.8 165.4h0M486.5 241.4h0M470.2 197.2h0M499.2 201.4h0M472.6 209.9h0M471.5 185.5h0M498.2 132.0h0M447.2 181.4h0M515.2 105.6h0M486.4 175.2h0M488.3 130.2h0M484.3 132.2h0M540.7 110.0h0M487.8 176.3h0M504.1 128.5h0M520.0 128.1h0M511.7 129.1h0M441.6 197.9h0M494.1 111.5h0M456.0 238.7h0M493.1 249.9h0M467.3 184.7h0M485.7 121.0h0M480.1 190.4h0M499.9 153.3h0M517.7 90.1h0M483.7 147.3h0M466.9 160.1h0M545.8 62.0h0M484.7 190.5h0M491.4 234.1h0M493.0 152.1h0M496.6 179.9h0M478.1 143.2h0M522.0 234.2h0M539.3 62.1h0M522.9 133.3h0M492.9 231.0h0M497.3 163.6h0M500.3 148.8h0M535.7 111.8h0M511.3 125.9h0M502.2 218.1h0M487.6 191.0h0M542.0 128.6h0M485.3 122.4h0M523.9 232.4h0M532.8 129.6h0M478.2 199.7h0M523.7 88.3h0M530.8 113.5h0M538.6 60.0h0M496.0 221.7h0M513.5 246.1h0M526.3 119.7h0M502.9 147.4h0M518.9 118.3h0M479.7 145.1h0M471.9 192.9h0M501.2 117.3h0M521.4 176.4h0M505.2 190.9h0M562.5 77.1h0M571.5 38.7h0M511.7 197.5h0M451.0 213.9h0M483.0 174.6h0M471.5 220.4h0M499.9 128.6h0M557.8 51.9h0M516.1 76.8h0M479.7 225.1h0M516.6 113.1h0M459.5 179.7h0M505.4 241.5h0M486.0 130.7h0M471.1 186.1h0M521.1 142.5h0M435.7 208.0h0M484.3 219.1h0M470.6 187.9h0M512.1 195.8h0M486.2 154.2h0M500.8 194.4h0M492.7 150.2h0M480.4 160.7h0M480.5 199.5h0M473.8 224.1h0M474.9 186.6h0M501.5 183.9h0M524.2 141.6h0M508.2 263.5h0M537.6 67.3h0M558.3 109.1h0M498.9 139.5h0M505.7 210.7h0M533.0 107.9h0M492.3 168.5h0M522.0 250.6h0M512.8 94.3h0M503.1 133.2h0M458.3 225.3h0M513.1 189.5h0M445.1 210.9h0M473.7 184.2h0M478.6 209.7h0M561.2 67.9h0M528.8 80.3h0M493.1 196.8h0M489.5 179.8h0M479.7 195.7h0M526.1 75.2h0M522.8 115.4h0M496.4 118.1h0M494.9 176.6h0M475.6 184.5h0M463.3 204.2h0M496.3 149.1h0M517.6 226.8h0M527.0 211.2h0M499.8 193.3h0M508.2 128.3h0M463.6 181.7h0M525.9 86.3h0M464.6 201.1h0M477.3 174.7h0M479.8 259.9h0M439.1 200.5h0M464.9 243.0h0M529.3 96.4h0M471.1 206.2h0M474.4 179.8h0M501.6 253.1h0M507.9 142.4h0M451.3 193.2h0M485.1 191.4h0M507.3 270.1h0M512.5 225.7h0M489.1 187.6h0M493.9 201.1h0M510.4 136.0h0M503.2 144.4h0M494.1 164.3h0M511.1 158.8h0M463.6 191.3h0M518.8 68.1h0M497.3 147.3h0M443.5 187.3h0M484.9 221.1h0M508.5 143.2h0M590.0 30.5h0M513.6 218.7h0M495.1 142.2h0M491.8 132.6h0M478.7 210.8h0M463.3 208.6h0M453.8 183.1h0M520.0 220.6h0M532.9 100.1h0M481.5 173.2h0M474.0 173.0h0M493.4 133.0h0M485.5 187.8h0M495.0 159.5h0M469.9 192.4h0M537.6 92.0h0M491.4 125.5h0M501.7 143.3h0M476.0 166.8h0M548.7 83.7h0M485.2 146.1h0M468.0 207.1h0M490.5 146.0h0M471.6 204.2h0M460.0 208.1h0M523.0 236.4h0M467.7 240.9h0M478.4 183.5h0M524.5 224.1h0M467.2 165.7h0M456.4 183.2h0M468.7 200.1h0M537.4 92.9h0M466.9 223.7h0M523.3 222.2h0M481.7 173.6h0M496.4 241.3h0M466.4 171.1h0M555.1 45.2h0M469.5 187.2h0M516.9 109.2h0M514.7 190.3h0M461.9 209.5h0M479.9 136.7h0M461.8 219.4h0M472.3 151.5h0M507.9 104.2h0M522.0 84.2h0M477.5 266.8h0M475.3 225.4h0M498.9 156.3h0M523.9 178.8h0M482.4 164.5h0M467.4 176.7h0M480.9 222.3h0M480.9 162.7h0M512.7 106.9h0M457.6 214.4h0M483.8 271.5h0M459.3 179.9h0M479.3 204.4h0M490.8 115.9h0M546.7 93.5h0M556.3 30.8h0M516.9 142.2h0M477.5 228.4h0M469.0 202.6h0M492.1 227.8h0M460.7 198.0h0M494.5 158.2h0M552.0 89.3h0M485.6 129.0h0M462.2 180.3h0M489.2 182.9h0M464.0 242.5h0M494.4 166.5h0M533.8 79.5h0M458.0 204.3h0M512.0 227.5h0M540.3 99.4h0M547.7 63.9h0M508.4 99.3h0M463.3 194.6h0M495.4 200.1h0M553.4 60.2h0M491.8 136.5h0M477.8 141.2h0M503.2 185.8h0M500.8 115.1h0M489.6 122.9h0M514.0 161.8h0M504.5 104.4h0M494.4 184.7h0M473.8 187.7h0M483.8 216.9h0M484.7 184.3h0M497.1 138.1h0M470.6 227.6h0M503.8 189.0h0M479.5 227.9h0M493.7 164.0h0M524.0 226.3h0M507.5 161.0h0M493.6 216.4h0M568.8 58.2h0M507.2 233.8h0M479.4 146.1h0M476.6 186.7h0M522.1 124.4h0M522.9 88.8h0M479.8 169.7h0M513.7 141.2h0M484.2 132.1h0M510.0 193.8h0M503.2 190.1h0M492.8 118.9h0M473.1 200.9h0M525.3 98.9h0M448.3 224.7h0M540.8 111.0h0M500.1 112.0h0M519.3 79.0h0M510.6 137.3h0M499.7 181.3h0M526.6 61.4h0M493.2 141.0h0M506.3 120.1h0M455.2 204.9h0M503.7 153.9h0M460.0 213.2h0M498.8 260.7h0M456.9 178.5h0M517.1 72.8h0M482.6 209.5h0M496.1 123.9h0M488.3 244.5h0M497.1 220.7h0M549.7 100.0h0M476.5 264.0h0M507.1 135.8h0M457.9 197.5h0M510.6 190.7h0M500.4 126.6h0M484.4 254.7h0M484.6 191.1h0M519.5 109.8h0M518.0 135.3h0M554.0 58.1h0M497.7 189.5h0M495.1 236.8h0M521.3 120.8h0M527.7 74.0h0M504.4 198.6h0M556.1 81.3h0M511.7 113.4h0M470.7 215.2h0M453.3 182.6h0M528.4 124.6h0M450.3 214.6h0M520.4 120.2h0M479.8 174.8h0M547.6 50.7h0M547.9 72.5h0M500.2 204.3h0M536.1 73.5h0M485.8 222.4h0M491.5 197.2h0M525.1 197.7h0M539.4 72.5h0M558.0 47.2h0M510.3 95.0h0M532.5 138.0h0M519.4 113.7h0M518.8 105.4h0M486.6 191.9h0M456.9 213.7h0M494.7 146.2h0M506.0 258.8h0M502.8 147.4h0M516.1 81.5h0M485.4 184.7h0M463.7 182.5h0M519.0 125.9h0M466.2 193.8h0M498.8 143.9h0M464.6 185.0h0M549.1 84.9h0M500.6 255.2h0M480.9 138.3h0M471.9 157.5h0M481.4 229.5h0M511.5 138.4h0M530.1 128.6h0M499.0 156.2h0M488.0 200.5h0M485.0 246.3h0M469.4 201.8h0M492.3 120.5h0M508.7 172.3h0M507.4 178.5h0M434.2 206.9h0M471.0 173.5h0M508.2 152.0h0M527.9 87.6h0M504.4 222.9h0M516.0 197.7h0M538.9 78.4h0M451.5 211.4h0M512.5 115.9h0M480.1 231.0h0M495.4 131.7h0M496.5 221.3h0M497.4 141.4h0M513.7 140.4h0M502.6 133.3h0M497.6 117.6h0M503.6 132.9h0M454.0 209.9h0M445.3 215.3h0M484.5 148.6h0M496.7 159.3h0M455.3 192.9h0M510.3 200.4h0M479.6 153.9h0M499.0 105.4h0M509.0 126.7h0M493.2 135.8h0M519.7 78.0h0M499.8 128.8h0M452.7 189.8h0M473.6 205.6h0M502.4 181.1h0M496.2 169.4h0M493.6 234.6h0M511.0 102.0h0M472.5 213.3h0M480.5 222.5h0M520.0 126.4h0M502.6 163.1h0M517.2 207.8h0M501.5 127.7h0M521.3 225.6h0M475.2 191.4h0M506.6 99.1h0M465.7 176.0h0M505.9 141.1h0M493.2 187.7h0M480.8 179.5h0M534.6 70.7h0M471.8 188.8h0M538.2 80.0h0M519.2 197.7h0M482.9 224.0h0M512.7 106.4h0M464.9 164.5h0M528.8 106.8h0M485.6 155.8h0M458.5 212.8h0M458.6 190.8h0M445.8 187.5h0M469.7 184.6h0M468.7 219.4h0M455.5 210.3h0M506.4 232.3h0M490.7 223.4h0M513.5 199.6h0M486.1 207.4h0M497.5 166.4h0M565.2 67.1h0M467.0 193.8h0M489.7 220.7h0M493.8 152.1h0M484.3 193.0h0M504.0 158.0h0M508.6 99.7h0M481.7 246.1h0M508.6 236.6h0M548.8 80.6h0M509.6 139.5h0M545.3 76.6h0M495.4 144.3h0M469.3 216.4h0M484.4 192.4h0M556.6 103.4h0M491.1 179.2h0M481.9 246.8h0M454.5 218.2h0M462.7 195.9h0M552.9 84.5h0M493.3 167.3h0M483.3 127.4h0M530.8 93.5h0M481.4 141.2h0M488.0 152.0h0M454.2 208.1h0M509.6 164.4h0M489.3 152.8h0M515.7 200.0h0M513.5 84.0h0M559.0 96.4h0M473.1 183.8h0M478.0 147.6h0M562.0 49.6h0M522.6 207.2h0M466.9 234.4h0M496.7 187.2h0M515.0 210.0h0M486.6 163.5h0M461.8 216.8h0M475.6 198.4h0M509.2 185.2h0M483.0 143.0h0M509.8 133.7h0M497.9 105.1h0M545.2 78.4h0M484.7 148.1h0M500.5 242.0h0M500.1 205.2h0M505.5 223.0h0M498.6 124.5h0M496.0 113.6h0M468.9 210.2h0M499.4 202.7h0M536.8 113.5h0M478.0 200.1h0M469.6 173.0h0M524.0 94.6h0M494.1 123.2h0M507.9 115.3h0M475.8 172.7h0M485.7 239.4h0M526.2 203.4h0M493.4 150.4h0M464.0 222.1h0M473.6 156.6h0M494.1 121.2h0M476.0 172.0h0M503.5 225.3h0M523.5 75.1h0M559.4 62.2h0M480.4 171.5h0M518.3 113.2h0M538.8 107.2h0M563.7 82.4h0M487.0 199.4h0M512.4 100.3h0M483.6 158.1h0M522.2 93.9h0M486.1 201.1h0M473.5 237.3h0M490.4 259.8h0M526.3 86.6h0M457.9 194.3h0M508.7 132.6h0M498.5 156.6h0M496.3 211.1h0M462.5 209.5h0M527.2 72.1h0M502.6 116.0h0M487.0 135.1h0M489.9 144.3h0M503.1 259.3h0M480.1 212.3h0M499.7 201.2h0M509.5 98.4h0M537.7 108.2h0M481.5 187.7h0M537.7 70.4h0M537.4 48.1h0M487.9 166.6h0M488.9 131.7h0M493.5 139.4h0M530.4 98.7h0M474.2 182.5h0M504.8 262.1h0M519.0 108.0h0M485.4 140.8h0M524.9 178.8h0M456.8 177.8h0M471.8 208.1h0M507.3 97.1h0M471.4 208.9h0M486.0 163.4h0M452.6 183.6h0M452.5 181.6h0M512.9 219.8h0M453.7 205.7h0M517.8 115.9h0M463.5 187.4h0M490.1 181.9h0M481.7 144.6h0M542.5 125.0h0M448.3 201.3h0M488.2 237.5h0M483.5 196.9h0M489.1 233.4h0M550.5 65.9h0M470.0 223.2h0M483.8 165.6h0M447.5 207.8h0M468.7 209.3h0M544.4 57.2h0M492.9 203.7h0M463.2 215.3h0M517.7 224.2h0M553.0 97.4h0M476.5 163.8h0M504.2 202.8h0M501.9 105.5h0M505.5 126.9h0M475.1 148.3h0M505.9 210.5h0M480.6 141.7h0M497.3 125.8h0M478.1 190.0h0M472.8 215.1h0M504.0 126.2h0M441.0 206.4h0M476.4 148.9h0M506.5 218.0h0M476.4 183.1h0M502.6 166.7h0M547.2 56.6h0M470.1 143.9h0M490.8 213.3h0M557.5 56.0h0M472.1 234.4h0M476.3 209.8h0M474.4 191.9h0M487.0 200.7h0M487.2 125.8h0M473.6 167.5h0M474.5 136.9h0M477.7 184.1h0M490.8 222.8h0M476.0 160.0h0M489.0 183.9h0M553.6 58.1h0M526.3 182.3h0M554.8 92.2h0M504.5 110.4h0M535.5 101.9h0M513.7 74.4h0M503.4 93.3h0M524.0 122.9h0M517.6 241.2h0M525.6 109.9h0M534.5 245.9h0M466.6 151.4h0M534.7 132.9h0M572.4 41.3h0M539.5 57.0h0M538.3 139.5h0M525.5 201.2h0M494.4 211.3h0M522.3 170.9h0M559.4 112.9h0M500.5 220.5h0M511.9 132.1h0M509.1 266.9h0M570.8 92.8h0M508.7 143.9h0M515.8 236.7h0M479.8 210.4h0M549.8 91.5h0M545.9 34.2h0M529.7 245.5h0M544.3 68.4h0M527.1 210.9h0M600.9 36.2h0M467.2 235.1h0M517.9 156.1h0M541.7 73.6h0M473.4 160.4h0M496.4 234.7h0M513.0 230.8h0M488.7 152.0h0M513.6 196.9h0M452.8 219.0h0M531.7 193.7h0M526.5 242.0h0M468.2 149.7h0M528.1 138.0h0M457.1 192.8h0M476.5 266.1h0M572.4 68.6h0M496.6 151.4h0M450.1 233.4h0M462.3 241.8h0M487.2 268.2h0M518.5 164.5h0M568.2 51.0h0M537.7 122.1h0M533.9 143.6h0M531.4 210.0h0M460.8 190.0h0M489.2 199.4h0M572.3 63.1h0M533.7 206.9h0M498.2 121.4h0M476.4 279.2h0M599.6 19.9h0M529.2 50.5h0M484.3 231.7h0M531.2 96.3h0M524.9 93.1h0M490.7 226.2h0M546.8 84.1h0M563.0 120.2h0M583.7 42.5h0M506.9 195.9h0M527.5 125.4h0M512.3 132.9h0M502.6 254.9h0M497.4 202.6h0M525.5 230.8h0M447.1 246.9h0M541.6 110.8h0M511.2 194.2h0M524.6 268.8h0M576.0 18.9h0M514.0 159.6h0M443.8 202.5h0M531.3 185.4h0M500.6 238.5h0M534.0 180.1h0M524.1 245.8h0M514.2 279.9h0M560.9 76.4h0M529.1 47.4h0M487.4 204.1h0M452.0 188.5h0M501.9 171.8h0M526.5 85.9h0M523.1 179.8h0M472.6 258.9h0M493.6 119.3h0M472.5 210.3h0M512.4 90.5h0M564.1 125.2h0M485.1 144.8h0M508.1 171.7h0M495.2 192.4h0M491.0 206.8h0M560.5 127.7h0M474.9 206.6h0M463.8 210.6h0M454.9 178.6h0M540.6 218.7h0M565.9 43.3h0M471.5 198.9h0M569.2 85.9h0M487.7 112.2h0M466.8 263.8h0M548.8 118.9h0M495.2 251.0h0M447.3 204.5h0M528.2 228.3h0M500.2 244.5h0M471.9 261.0h0M557.3 111.5h0M535.0 141.4h0M440.7 187.2h0M505.7 184.2h0M486.7 210.9h0M536.2 136.2h0M476.7 135.7h0M510.3 256.4h0M563.5 82.1h0M534.9 244.4h0M542.8 131.5h0M579.3 32.9h0M563.1 122.2h0M477.4 216.4h0M475.4 213.9h0M493.0 132.7h0M509.8 80.4h0M547.0 89.7h0M518.6 203.8h0M581.1 34.3h0M515.7 139.9h0M525.4 184.2h0M497.4 188.4h0M436.7 204.5h0M505.9 246.6h0M557.7 69.5h0M476.6 177.5h0M522.6 111.0h0M466.4 241.4h0M510.5 235.1h0M516.2 181.5h0M526.8 141.5h0M461.2 186.8h0M430.0 207.5h0M536.7 194.8h0M533.8 145.3h0M550.6 30.5h0M500.9 202.5h0M528.4 237.7h0M547.0 109.9h0M526.0 156.5h0M519.3 103.8h0M514.5 271.8h0M473.7 197.5h0M531.3 251.6h0M535.2 111.1h0M600.7 35.7h0M577.2 50.1h0M505.4 103.2h0M462.4 171.7h0M512.2 97.7h0M522.0 213.3h0M456.1 219.2h0M534.8 188.9h0M569.7 43.1h0M584.6 35.5h0M515.7 270.8h0M556.9 112.2h0M434.5 225.1h0M462.8 157.4h0M447.3 176.1h0M429.4 216.7h0M423.5 190.2h0M434.2 176.9h0M432.1 213.4h0M436.1 194.0h0M437.3 224.2h0M433.6 188.8h0M459.3 154.4h0M432.3 214.9h0M447.3 178.1h0M432.4 207.3h0M430.0 188.4h0M433.8 195.4h0M453.4 151.4h0M442.7 229.2h0M423.9 220.8h0M461.2 155.6h0M433.5 204.2h0M425.9 218.6h0M442.2 228.5h0M440.1 186.5h0M424.3 209.4h0M458.0 152.5h0M439.9 188.6h0M432.3 224.7h0M428.4 211.8h0M426.9 200.3h0M437.1 228.3h0M459.6 157.7h0M433.3 200.2h0M434.4 223.6h0M442.1 177.6h0M446.0 178.4h0M450.6 167.3h0M453.6 163.5h0M440.2 187.5h0M425.8 206.3h0M446.5 175.1h0M466.4 157.7h0M644.9 172.6h0M652.3 218.5h0M683.0 199.0h0M598.0 143.0h0M575.0 140.0h0"/>
<path stroke="#74c476" d="M556.8 227.9h0M581.7 153.1h0M577.3 186.3h0M562.6 182.1h0M553.9 202.0h0M564.9 231.5h0M568.0 209.9h0M565.6 182.1h0M569.2 181.8h0M558.1 196.9h0M567.4 186.6h0M557.7 210.7h0M558.6 216.1h0M573.7 205.9h0M557.2 203.2h0M551.8 195.6h0M577.8 211.4h0M580.6 141.4h0M563.3 181.2h0M575.8 229.4h0M582.5 221.3h0M550.9 176.3h0M574.7 193.7h0M578.6 194.9h0M576.5 153.6h0M570.7 136.3h0M573.6 225.6h0M581.3 216.5h0M552.3 189.0h0M569.4 220.8h0M572.7 207.6h0M557.1 213.0h0M582.3 153.4h0M551.0 236.6h0M562.6 195.8h0M562.3 208.1h0M566.0 224.9h0M568.3 205.4h0M572.7 180.2h0M577.8 207.1h0M559.3 217.6h0M555.3 214.9h0M560.6 228.7h0M567.2 210.8h0M573.9 209.7h0M560.6 185.4h0M561.7 184.4h0M555.2 220.9h0M571.9 207.9h0M573.5 226.7h0M561.1 222.4h0M577.0 192.1h0M571.2 227.5h0M566.3 214.1h0M569.8 202.4h0M569.1 202.7h0M577.6 189.9h0M582.8 199.6h0M572.6 205.8h0M573.6 214.1h0M575.2 191.2h0M576.8 216.4h0M576.0 206.4h0M557.1 237.3h0M573.5 236.7h0M572.9 244.9h0M577.0 216.8h0M556.0 207.1h0M563.6 197.1h0M561.5 202.9h0M556.3 225.0h0M566.4 189.3h0M560.4 260.9h0M564.1 193.5h0M568.7 208.7h0M554.7 189.8h0M574.6 219.0h0M571.2 192.8h0M572.4 219.2h0M567.2 202.0h0M555.7 178.1h0M578.5 203.0h0M562.1 225.5h0M566.1 210.8h0M554.4 207.6h0M562.5 214.1h0M578.2 217.8h0M547.4 152.0h0M575.6 215.7h0M577.9 188.2h0M556.4 198.5h0M577.2 197.9h0M595.7 109.2h0M563.9 185.6h0M577.9 199.1h0M582.0 156.4h0M570.7 211.5h0M555.2 175.0h0M557.4 243.8h0M561.9 105.9h0M575.3 208.4h0M567.1 206.8h0M572.5 202.3h0M564.6 213.2h0M569.2 192.5h0M568.2 233.2h0M578.1 201.9h0M578.9 209.3h0M566.1 193.0h0M559.6 231.3h0M557.4 224.5h0M560.0 194.5h0M571.5 209.2h0M564.3 178.2h0M580.2 177.0h0M569.8 214.7h0M560.4 185.1h0M559.9 188.3h0M579.0 179.8h0M558.4 184.0h0M570.4 198.2h0M573.2 186.0h0M581.0 212.8h0M566.0 192.7h0M555.1 180.1h0M557.2 169.8h0M578.7 227.0h0M571.3 189.2h0M558.5 188.7h0M569.7 197.4h0M558.7 188.7h0M581.2 192.5h0M556.3 186.3h0M567.7 171.5h0M575.3 219.4h0M560.9 153.6h0M549.3 140.4h0M575.2 192.1h0M582.7 234.8h0M568.0 133.9h0M560.5 233.8h0M554.3 152.8h0M571.2 204.9h0M558.9 219.9h0M561.7 184.6h0M558.0 199.3h0M553.6 191.3h0M563.8 209.2h0M557.8 203.4h0M570.0 200.1h0M550.2 174.5h0M566.6 205.0h0M566.0 217.2h0M566.4 189.8h0M575.9 171.0h0M581.5 197.6h0M561.8 223.2h0M560.5 184.8h0M569.4 210.1h0M553.5 197.8h0M558.4 200.0h0M561.0 192.7h0M561.2 201.7h0M575.6 207.0h0M577.6 130.6h0M571.9 194.8h0M575.4 142.9h0M562.7 168.8h0M578.2 212.5h0M564.5 222.9h0M556.6 228.6h0M574.7 202.5h0M559.1 187.2h0M571.6 167.3h0M568.6 228.5h0M573.2 186.7h0M567.8 204.3h0M557.6 245.2h0M558.7 209.2h0M568.4 207.3h0M571.7 200.7h0M595.7 107.3h0M578.1 176.5h0M569.5 212.6h0M564.3 203.1h0M575.3 226.4h0M564.7 209.3h0M572.2 192.3h0M565.5 205.5h0M564.4 167.5h0M565.0 194.0h0M578.0 228.7h0M581.6 208.6h0M560.2 225.1h0M566.3 213.8h0M559.8 192.0h0M561.4 188.9h0M563.6 225.2h0M578.4 177.6h0M575.3 215.8h0M576.3 203.7h0M573.4 213.1h0M569.0 208.4h0M553.5 215.7h0M552.8 162.9h0M558.9 217.5h0M570.8 197.0h0M580.9 219.9h0M561.4 184.8h0M574.1 215.8h0M561.5 199.5h0M551.8 244.2h0M558.3 220.4h0M566.2 229.4h0M563.7 195.5h0M554.6 205.3h0M549.0 189.9h0M566.4 217.4h0M571.2 204.9h0M570.7 186.9h0M569.0 191.1h0M583.6 171.8h0M588.2 140.8h0M552.6 154.3h0M573.9 183.6h0M574.6 200.1h0M561.1 204.1h0M555.2 197.3h0M556.0 193.1h0M557.4 204.1h0M558.7 210.1h0M566.6 206.6h0M569.8 206.1h0M576.2 190.0h0M569.5 198.4h0M564.9 221.1h0M575.2 181.3h0M546.8 190.1h0M579.2 206.0h0M565.4 199.6h0M552.8 214.5h0M569.3 208.3h0M560.5 202.0h0M564.9 228.5h0M560.6 221.0h0M577.2 230.1h0M574.5 238.8h0M553.9 186.5h0M572.5 200.0h0M567.2 191.3h0M563.8 225.8h0M556.2 179.8h0M548.7 241.0h0M555.7 228.5h0M556.5 218.9h0M565.0 210.0h0M571.5 180.7h0M570.3 219.4h0M548.3 197.9h0M553.7 218.8h0M566.3 209.5h0M560.5 187.4h0M565.2 225.6h0M577.0 184.7h0M578.4 184.3h0M568.2 227.6h0M556.1 170.0h0M577.1 236.9h0M559.9 206.3h0M559.6 196.4h0M576.2 216.5h0M555.7 200.2h0M564.2 228.1h0M564.0 232.7h0M554.1 195.1h0M578.6 232.9h0M549.7 205.2h0M567.4 201.3h0M573.3 192.4h0M564.7 143.4h0M578.2 186.5h0M576.0 218.3h0M541.5 121.3h0M568.1 195.8h0M582.5 190.9h0M570.2 164.6h0M570.8 200.5h0M554.5 204.7h0M581.4 230.2h0M548.1 180.5h0M554.7 190.5h0M571.1 195.7h0M549.8 209.5h0M571.2 233.0h0M569.6 224.2h0M569.1 215.9h0M566.3 221.6h0M574.0 204.7h0M563.0 212.4h0M549.8 212.4h0M562.8 171.3h0M578.4 208.5h0M576.4 189.3h0M571.4 200.2h0M575.1 194.3h0M571.2 218.3h0M561.5 213.9h0M554.7 189.9h0M560.8 200.5h0M574.0 204.5h0M575.3 199.3h0M567.7 202.9h0M571.9 195.6h0M570.6 184.5h0M577.4 232.7h0M560.3 195.6h0M554.1 160.2h0M557.0 199.9h0M575.8 199.4h0M549.5 172.8h0M574.0 210.2h0M572.9 234.5h0M566.6 195.5h0M540.5 157.3h0M568.6 197.9h0M559.9 226.1h0M575.0 192.5h0M562.5 202.2h0M557.5 199.9h0M575.1 220.8h0M557.0 227.1h0M577.4 189.4h0M573.7 210.0h0M564.0 223.8h0M551.7 228.3h0M573.4 205.3h0M554.9 195.6h0M555.4 227.8h0M571.3 212.1h0M560.5 236.7h0M559.0 187.4h0M570.3 175.5h0M555.0 204.4h0M572.1 242.2h0M552.9 233.9h0M560.0 231.6h0M572.7 202.5h0M555.0 225.2h0M563.9 221.9h0M557.3 177.1h0M553.4 176.8h0M575.3 189.0h0M561.6 197.4h0M576.9 215.5h0M559.7 155.7h0M560.2 199.7h0M574.5 194.1h0M548.2 184.8h0M574.2 225.1h0M582.9 232.4h0M554.9 193.7h0M574.5 187.8h0M553.1 187.2h0M576.8 207.2h0M567.8 215.5h0M571.3 214.2h0M552.2 213.2h0M581.8 230.3h0M578.3 202.3h0M568.1 182.7h0M566.2 226.5h0M578.8 218.4h0M564.7 197.4h0M574.9 187.1h0M570.0 239.8h0M573.6 205.3h0M579.1 226.4h0M550.3 192.4h0M561.6 192.0h0M568.5 226.1h0M568.8 201.3h0M560.8 196.6h0M575.0 186.4h0M573.9 218.4h0M548.2 220.6h0M575.3 193.2h0M574.7 206.7h0M556.2 206.8h0M564.6 215.7h0M568.0 191.8h0M546.7 169.9h0M572.7 171.6h0M554.0 209.5h0M545.6 179.4h0M563.5 196.8h0M555.8 230.5h0M581.6 181.6h0M575.0 228.5h0M566.8 190.4h0M573.1 223.7h0M568.8 201.8h0M578.5 196.5h0M572.5 233.1h0M556.9 200.6h0M554.0 214.4h0M569.3 221.9h0M570.5 203.6h0M561.0 225.3h0M570.3 201.1h0M563.2 187.4h0M560.7 230.4h0M575.8 220.0h0M560.4 196.5h0M570.4 223.3h0M578.8 195.1h0M579.3 230.3h0M547.1 237.8h0M575.5 188.0h0M564.6 207.2h0M556.0 181.6h0M564.6 201.9h0M570.0 204.3h0M559.4 184.2h0M552.9 193.0h0M577.0 207.9h0M567.3 192.7h0M566.0 193.1h0M562.0 227.0h0M581.6 228.4h0M569.6 176.5h0M569.6 225.4h0M573.7 220.4h0M572.1 184.6h0M564.7 165.1h0M562.6 205.3h0M563.1 213.4h0M574.5 220.5h0M556.5 208.6h0M564.1 233.3h0M556.1 200.3h0M560.8 224.9h0M575.3 231.5h0M554.1 232.8h0M560.5 208.7h0M577.1 206.4h0M559.9 212.7h0M571.1 205.6h0M574.1 206.3h0M571.9 167.8h0M560.3 203.9h0M553.5 177.0h0M574.8 195.7h0M573.5 186.1h0M576.5 199.4h0M572.3 199.9h0M551.6 215.0h0M562.9 242.3h0M562.1 230.2h0M593.0 108.3h0M573.4 173.3h0M566.3 228.4h0M565.0 215.4h0M558.7 196.4h0M561.7 191.4h0M565.2 193.5h0M556.4 200.0h0M568.5 224.8h0M577.6 199.8h0M571.1 214.6h0M565.1 212.7h0M554.2 208.6h0M573.8 219.3h0M577.5 214.4h0M576.2 195.8h0M569.1 209.1h0M559.7 225.8h0M570.1 166.9h0M563.6 201.5h0M570.2 210.3h0M575.0 215.8h0M556.3 221.4h0M576.0 220.6h0M582.6 166.2h0M562.0 191.2h0M576.9 175.7h0M569.4 231.9h0M562.2 196.2h0M576.5 186.0h0M556.8 162.7h0M565.3 213.8h0M578.7 228.5h0M567.4 182.9h0M565.8 203.8h0M564.6 210.5h0M579.0 230.0h0M553.8 173.3h0M576.6 204.5h0M568.9 202.2h0M578.6 195.0h0M574.1 254.1h0M578.1 191.5h0M574.3 230.3h0M574.3 236.8h0M564.2 174.1h0M565.1 224.9h0M568.1 198.3h0M560.2 197.1h0M552.5 187.2h0M550.7 187.9h0M562.7 173.9h0M556.0 235.1h0M561.3 203.4h0M564.6 222.1h0M553.0 135.4h0M578.3 228.5h0M565.1 215.4h0M578.7 196.7h0M559.4 194.9h0M584.7 124.4h0M557.3 198.8h0M554.6 205.1h0M579.1 191.4h0M581.8 211.9h0M572.5 216.7h0M573.3 215.4h0M568.1 208.5h0M563.3 198.2h0M557.5 200.4h0M572.2 209.6h0M550.1 207.7h0M565.7 192.3h0M575.5 218.0h0M570.9 213.7h0M568.9 225.8h0M567.4 212.7h0M582.6 211.4h0M572.7 219.9h0M564.1 198.2h0M569.6 178.3h0M563.8 183.2h0M578.4 216.4h0M541.9 169.8h0M574.3 183.4h0M580.6 219.0h0M576.3 220.8h0M578.4 221.2h0M566.1 194.6h0M538.7 114.7h0M568.7 204.9h0M558.7 191.3h0M576.4 232.2h0M561.4 217.8h0M578.0 228.4h0M558.9 217.0h0M561.2 149.5h0M572.1 189.6h0M565.0 211.8h0M576.0 202.4h0M555.5 215.2h0M576.9 201.9h0M580.4 207.1h0M576.6 207.8h0M572.4 191.2h0M575.0 138.3h0M562.9 196.0h0M589.6 108.7h0M566.3 223.0h0M557.6 188.9h0M549.3 245.2h0M558.6 209.2h0M573.0 176.3h0M574.6 191.5h0M580.3 188.4h0M580.1 196.2h0M558.1 178.2h0M559.2 224.2h0M580.8 201.6h0M572.0 204.4h0M577.1 181.8h0M560.4 207.9h0M569.6 191.1h0M560.3 222.9h0M582.3 224.0h0M577.7 190.1h0M559.0 223.3h0M571.3 168.5h0M563.4 220.6h0M577.5 223.5h0M573.6 203.8h0M561.6 214.0h0M561.4 196.6h0M560.8 230.5h0M560.4 212.3h0M570.5 220.2h0M569.1 214.9h0M555.5 202.6h0M565.2 212.0h0M579.3 216.4h0M568.4 174.6h0M567.9 199.1h0M555.1 200.5h0M568.5 196.6h0M578.6 196.9h0M566.9 196.4h0M562.9 180.6h0M575.2 192.4h0M559.8 217.8h0M571.1 202.6h0M555.6 198.6h0M560.4 203.4h0M564.1 217.0h0M562.5 190.7h0M572.7 177.0h0M575.8 215.1h0M570.3 215.5h0M580.2 228.6h0M553.0 189.3h0M556.7 203.9h0M573.8 193.5h0M571.5 225.1h0M565.0 214.2h0M561.9 200.5h0M560.4 226.2h0M565.1 201.2h0M576.3 202.9h0M582.3 231.8h0M565.6 223.1h0M567.5 194.3h0M558.1 201.7h0M560.3 203.2h0M566.1 203.1h0M570.3 212.5h0M554.9 122.3h0M580.2 195.0h0M579.0 203.9h0M574.8 209.6h0M558.5 184.0h0M546.3 140.3h0M572.5 220.8h0M572.8 217.1h0M553.1 184.0h0M559.4 192.8h0M581.2 177.0h0M574.9 205.1h0M560.9 201.9h0M559.1 109.3h0M559.6 213.6h0M578.3 223.9h0M563.8 129.6h0M572.4 199.2h0M575.1 181.0h0M576.2 229.5h0M571.4 199.7h0M568.2 189.7h0M561.8 201.0h0M562.4 223.2h0M577.2 213.3h0M560.5 209.9h0M573.6 226.4h0M573.8 200.4h0M574.5 195.1h0M568.6 199.3h0M577.8 208.0h0M568.9 233.5h0M574.3 218.6h0M551.2 206.7h0M565.9 228.2h0M573.2 191.4h0M567.7 198.2h0M556.7 192.4h0M554.8 199.6h0M556.1 193.2h0M547.9 236.6h0M570.3 217.5h0M564.4 223.0h0M576.9 216.4h0M572.2 191.2h0M567.5 181.0h0M561.7 207.4h0M543.0 152.6h0M577.7 198.1h0M559.2 195.6h0M571.1 227.8h0M573.1 211.6h0M549.8 234.7h0M559.6 215.4h0M570.0 195.1h0M559.2 197.8h0M574.6 181.5h0M562.5 199.9h0M560.5 225.4h0M563.4 229.0h0M570.9 216.3h0M578.5 221.8h0M574.9 225.8h0M557.8 221.7h0M571.2 175.6h0M560.3 187.9h0M561.5 185.8h0M562.2 192.6h0M558.6 241.1h0M579.6 204.4h0M559.8 201.8h0M550.1 188.1h0M580.4 186.5h0M568.7 200.4h0M562.4 239.1h0M561.1 223.8h0M568.8 194.0h0M571.3 207.4h0M573.1 222.3h0M577.4 208.5h0M573.8 229.8h0M565.3 185.0h0M572.7 216.7h0M567.9 188.2h0M578.2 208.2h0M570.1 198.0h0M576.1 194.9h0M562.5 179.3h0M564.6 188.7h0M570.0 206.6h0M557.1 215.9h0M566.6 204.1h0M563.0 200.3h0M584.3 180.2h0M551.2 117.8h0M567.6 208.5h0M578.2 189.2h0M575.0 204.6h0M575.2 223.2h0M544.1 161.0h0M561.6 194.4h0M578.0 210.4h0M574.7 185.3h0M574.6 219.2h0M570.4 222.9h0M571.7 113.1h0M579.4 186.8h0M553.0 228.7h0M576.8 234.4h0M573.0 199.2h0M578.4 199.1h0M557.7 209.1h0M572.8 213.6h0M578.4 195.1h0M555.1 195.4h0M558.2 200.2h0M555.3 191.7h0M576.8 245.0h0M569.5 216.4h0M569.3 212.5h0M572.7 197.6h0M560.6 206.0h0M548.6 186.2h0M568.3 213.0h0M562.9 225.7h0M569.9 189.3h0M577.2 208.1h0M554.1 195.3h0M583.8 180.7h0M577.5 215.5h0M581.9 208.2h0M564.0 182.4h0M580.0 195.7h0M558.5 209.2h0M578.0 223.0h0M562.3 205.6h0M576.4 214.8h0M560.3 216.0h0M561.2 231.4h0M556.3 216.4h0M568.4 182.0h0M556.1 191.5h0M560.8 228.6h0M562.2 215.5h0M559.1 215.7h0M568.1 194.1h0M578.8 210.9h0M575.1 223.7h0M558.1 183.8h0M564.3 220.4h0M574.7 208.8h0M572.0 214.1h0M556.6 230.5h0M580.9 163.0h0M554.6 227.8h0M578.4 191.0h0M568.7 200.9h0M571.5 154.1h0M558.2 204.5h0M544.0 132.0h0M581.9 222.1h0M591.2 134.2h0M566.8 200.8h0M560.0 215.8h0M562.7 221.6h0M576.0 203.5h0M569.1 226.2h0M572.4 206.7h0M553.0 234.0h0M578.9 189.5h0M570.9 213.8h0M578.4 184.2h0M555.4 186.5h0M539.6 155.7h0M569.7 178.7h0M563.4 205.5h0M577.1 193.9h0M566.0 212.9h0M558.2 219.1h0M555.3 150.1h0M572.2 187.5h0M557.0 195.1h0M573.7 203.4h0M566.0 198.4h0M560.7 194.9h0M581.7 196.2h0M570.9 178.3h0M558.7 225.9h0M579.2 180.5h0M559.4 212.7h0M554.6 217.5h0M577.4 181.5h0M572.1 179.6h0M549.5 230.8h0M559.4 209.9h0M578.2 219.2h0M577.7 190.8h0M574.3 199.6h0M570.6 202.8h0M580.1 217.1h0M560.4 217.1h0M574.0 217.5h0M567.1 225.2h0M566.8 216.3h0M565.8 210.0h0M551.6 198.0h0M571.5 226.0h0M569.5 230.2h0M579.2 222.0h0M560.9 226.1h0M561.6 207.7h0M554.8 151.3h0M559.8 208.4h0M555.4 214.7h0M566.5 202.5h0M585.3 117.9h0M559.3 209.0h0M566.1 221.0h0M555.8 204.4h0M555.9 240.4h0M580.8 184.6h0M543.7 193.9h0M565.8 204.8h0M566.8 210.3h0M572.3 218.4h0M576.6 186.3h0M574.8 207.1h0M576.0 191.5h0M559.2 203.1h0M575.1 230.7h0M563.5 187.7h0M575.8 212.7h0M570.8 211.9h0M565.8 172.1h0M575.7 199.6h0M565.6 220.3h0M573.6 198.4h0M564.0 226.9h0M574.7 203.7h0M562.9 180.6h0M575.5 147.6h0M575.2 217.6h0M568.6 208.6h0M579.1 207.4h0M559.9 236.8h0M554.8 226.3h0M573.1 185.0h0M559.3 205.0h0M564.4 196.9h0M567.5 219.8h0M575.4 191.9h0M573.0 214.2h0M560.9 222.8h0M558.4 229.1h0M577.8 217.5h0M575.0 223.4h0M580.3 206.8h0M560.5 211.7h0M569.3 186.6h0M559.4 206.8h0M563.3 234.0h0M564.2 191.6h0M561.2 188.1h0M570.5 217.1h0M579.1 240.9h0M567.2 177.6h0M573.3 240.1h0M545.7 158.6h0M570.8 213.0h0M571.3 231.8h0M577.6 216.2h0M557.1 186.3h0M562.3 206.0h0M549.9 177.4h0M571.4 207.7h0M575.6 179.1h0M576.1 208.7h0M553.6 161.5h0M564.9 199.3h0M567.3 190.6h0M557.1 203.8h0M561.1 214.4h0M562.5 205.9h0M566.9 226.5h0M577.2 185.3h0M556.7 193.5h0M564.1 227.1h0M556.3 176.1h0M569.8 222.3h0M573.6 218.7h0M574.2 228.9h0M572.9 195.4h0M578.4 187.9h0M577.2 189.8h0M553.5 263.0h0M566.5 217.9h0M571.7 203.0h0M556.5 246.7h0M550.5 185.3h0M570.9 207.4h0M580.8 199.7h0M578.4 200.3h0M568.3 185.6h0M578.5 201.4h0M564.9 207.7h0M573.6 186.5h0M572.4 207.2h0M570.0 228.4h0M562.9 203.4h0M566.6 197.2h0M553.1 200.7h0M572.3 193.3h0M575.6 191.1h0M551.2 214.6h0M572.2 218.8h0M568.7 181.3h0M567.7 220.4h0M577.1 229.5h0M556.0 179.6h0M552.7 216.2h0M575.5 225.1h0M545.1 157.1h0M556.4 239.6h0M552.7 187.0h0M570.5 230.2h0M574.2 193.6h0M566.3 232.1h0M579.1 223.0h0M578.6 182.3h0M577.0 144.6h0M576.9 224.0h0M574.8 221.2h0M554.8 227.0h0M578.0 208.6h0M569.4 195.1h0M562.7 230.1h0M562.6 211.0h0M577.4 198.4h0M560.9 213.2h0M562.3 198.5h0M555.5 190.0h0M574.9 219.5h0M561.7 206.8h0M563.5 189.4h0M570.5 217.7h0M557.9 212.1h0M568.6 229.0h0M575.9 205.4h0M579.7 195.7h0M576.5 196.8h0M579.8 184.6h0M575.8 203.7h0M575.5 226.3h0M545.0 143.5h0M573.6 197.3h0M562.6 184.2h0M551.6 209.6h0M576.3 229.3h0M549.9 186.4h0M558.5 215.7h0M575.5 185.2h0M558.8 224.8h0M553.6 196.0h0M570.2 199.5h0M564.6 197.4h0M571.2 223.3h0M558.7 206.8h0M576.8 201.7h0M557.9 148.6h0M572.7 221.0h0M565.5 188.8h0M561.8 196.7h0M585.9 157.9h0M585.0 212.2h0M573.8 196.4h0M569.3 197.6h0M564.2 177.6h0M573.9 183.9h0M579.5 210.6h0M576.8 218.9h0M559.1 190.9h0M556.2 223.8h0M573.2 219.7h0M579.3 177.5h0M549.9 161.6h0M558.7 185.8h0M551.0 202.6h0M554.1 200.3h0M571.7 206.1h0M573.4 197.0h0M573.4 212.0h0M565.7 196.0h0M574.3 196.8h0M569.0 217.0h0M584.5 166.7h0M575.4 224.4h0M574.1 203.4h0M548.3 146.2h0M563.0 184.6h0M574.6 201.8h0M573.5 205.2h0M567.5 198.9h0M571.0 223.5h0M574.0 214.4h0M557.0 229.0h0M569.4 213.9h0M568.1 226.4h0M556.7 196.9h0M562.4 215.8h0M576.4 229.4h0M573.0 198.8h0M558.3 190.5h0M581.7 181.2h0M573.4 215.0h0M565.4 230.3h0M567.9 173.0h0M575.3 203.8h0M556.6 251.6h0M572.5 221.9h0M565.8 187.0h0M576.6 208.9h0M557.1 176.4h0M567.7 155.3h0M559.2 192.4h0M579.0 211.6h0M575.3 189.9h0M550.6 197.0h0M576.1 202.1h0M579.7 200.2h0M555.1 228.0h0M560.3 221.9h0M577.8 209.4h0M561.0 204.8h0M570.8 223.4h0M550.1 205.0h0M578.3 208.5h0M562.8 224.2h0M566.1 202.1h0M574.6 206.6h0M577.5 203.9h0M549.2 219.7h0M565.5 209.9h0M565.0 213.2h0M574.6 197.6h0M577.6 208.6h0M563.1 225.1h0M557.8 204.3h0M554.3 186.0h0M560.8 219.3h0M573.9 209.3h0M563.9 189.7h0M558.4 191.7h0M555.4 185.2h0M563.7 232.3h0M565.9 221.4h0M578.9 115.8h0M577.3 221.3h0M564.9 211.8h0M568.4 219.6h0M577.4 193.1h0M572.7 200.8h0M575.3 206.8h0M557.7 189.7h0M550.4 202.5h0M562.1 185.1h0M568.7 193.7h0M563.1 214.9h0M558.6 179.7h0M580.5 182.5h0M559.2 190.2h0M570.0 215.9h0M560.7 213.2h0M568.4 201.4h0M572.1 200.5h0M576.3 208.8h0M570.4 191.6h0M575.0 191.0h0M567.9 207.2h0M562.5 176.6h0M562.8 191.6h0M565.8 214.0h0M566.3 203.4h0M565.7 195.5h0M563.1 199.6h0M545.7 176.0h0M531.9 179.1h0M544.9 244.7h0M542.3 170.9h0M532.5 234.4h0M538.7 175.3h0M541.3 193.5h0M541.8 227.7h0M550.0 203.6h0M541.6 197.5h0M533.1 224.0h0M537.6 165.5h0M546.8 185.9h0M534.9 201.6h0M531.8 191.6h0M537.9 245.9h0M541.2 216.9h0M545.5 222.3h0M533.1 175.2h0M543.9 166.1h0M547.5 218.2h0M541.2 202.0h0M530.3 199.2h0M549.5 248.3h0M529.7 188.4h0M542.6 203.2h0M540.1 171.0h0M545.2 205.0h0M542.8 205.4h0M546.6 211.2h0M530.7 219.1h0M551.1 176.2h0M546.8 167.4h0M534.9 233.0h0M546.4 220.5h0M538.7 211.5h0M548.0 176.8h0M526.4 213.4h0M548.1 253.2h0M546.8 230.2h0M531.3 222.3h0M540.6 210.7h0M534.8 226.9h0M542.2 205.4h0M538.6 172.4h0M536.7 220.5h0M545.8 192.5h0M533.6 232.7h0M547.9 207.2h0M527.3 199.8h0M543.4 227.7h0M535.7 213.1h0M537.9 190.2h0M547.6 199.3h0M545.8 218.4h0M542.8 195.9h0M530.8 192.1h0M547.2 216.0h0M546.7 203.0h0M524.0 204.6h0M545.2 173.5h0M527.9 195.9h0M550.0 178.3h0M538.7 200.1h0M545.1 185.2h0M542.7 234.6h0M541.5 219.0h0M546.7 181.1h0M534.5 197.0h0M533.0 172.4h0M532.7 199.3h0"/>
<path stroke="#a1d99b" d="M602.6 189.6h0M596.3 213.9h0M586.4 222.7h0M587.4 214.4h0M589.1 194.8h0M621.2 187.8h0M579.7 226.0h0M589.1 230.5h0M587.0 238.5h0M587.0 190.1h0M598.9 212.7h0M597.2 212.8h0M612.5 211.3h0M583.7 216.7h0M583.0 231.7h0M586.9 185.8h0M592.1 192.2h0M578.5 237.8h0M599.5 235.9h0M604.4 224.7h0M614.7 215.9h0M590.1 226.0h0M589.4 211.2h0M592.3 215.5h0M587.6 233.6h0M596.2 193.4h0M577.7 204.5h0M618.8 216.7h0M619.6 219.0h0M614.6 198.2h0M611.9 216.0h0M580.6 220.6h0M590.7 187.6h0M590.2 219.8h0M581.6 188.8h0M602.8 245.8h0M616.1 189.5h0M589.4 188.5h0M602.9 220.0h0M582.2 190.5h0M593.7 219.0h0M610.3 247.6h0M588.8 192.7h0M595.6 226.3h0M593.7 209.0h0M581.1 201.1h0M610.6 236.4h0M591.2 212.7h0M598.7 237.4h0M604.2 148.9h0M606.4 194.8h0M588.6 222.7h0M590.9 224.1h0M612.9 179.2h0M603.8 229.6h0M599.1 209.7h0M595.4 212.6h0M598.0 196.7h0M597.4 199.8h0M578.1 202.5h0M583.4 224.6h0M586.9 204.7h0M586.9 193.2h0M618.1 214.4h0M613.8 184.3h0M609.0 227.4h0M588.6 200.4h0M591.5 188.4h0M576.9 216.6h0M591.9 222.7h0M601.0 220.7h0M591.0 227.0h0M612.9 191.3h0M612.4 220.4h0M620.2 214.2h0M602.3 124.5h0M578.2 198.8h0M616.6 189.6h0M583.1 186.2h0M597.9 191.0h0M594.3 237.1h0M583.0 210.4h0M595.9 205.1h0M590.7 202.0h0M582.6 185.8h0M603.3 199.7h0M587.9 217.7h0M584.9 210.1h0M601.7 200.4h0M603.2 190.4h0M595.8 197.6h0M588.2 174.0h0M605.4 183.4h0M583.4 197.3h0M594.8 179.5h0M599.1 223.2h0M578.2 215.1h0M584.1 204.6h0M597.7 200.3h0M590.2 231.9h0M595.6 238.8h0M579.4 218.4h0M579.7 236.8h0M603.9 230.6h0M583.6 214.9h0M580.7 203.2h0M603.6 236.6h0M581.0 230.7h0M591.2 214.4h0M581.8 181.3h0M601.9 215.1h0M618.9 209.9h0M577.4 194.1h0M609.6 221.2h0M585.5 200.4h0M588.0 194.9h0M579.4 192.0h0M598.8 183.0h0M592.6 194.6h0M614.3 213.1h0M604.9 216.5h0M581.8 192.6h0M595.4 199.1h0M588.1 204.7h0M624.6 170.3h0M583.1 221.6h0M614.2 235.1h0M596.3 195.4h0M605.4 181.0h0M595.7 191.5h0M593.2 230.7h0M603.5 219.7h0M599.9 247.3h0M586.7 217.0h0M585.4 222.8h0M600.9 233.0h0M580.7 203.2h0M589.5 231.0h0M581.0 239.7h0M607.3 237.3h0M620.7 186.6h0M595.4 170.3h0M616.6 186.4h0M586.7 227.1h0M583.0 187.1h0M591.4 183.4h0M603.6 187.4h0M604.8 208.7h0M589.5 222.3h0M603.0 186.3h0M587.4 220.5h0M611.6 241.8h0M598.6 186.1h0M582.5 222.1h0M593.7 220.3h0M594.0 202.1h0M587.5 256.3h0M591.8 218.3h0M578.8 224.5h0M617.4 201.5h0M598.7 221.6h0M614.9 227.6h0M610.6 231.0h0M590.1 195.6h0M582.7 245.7h0M605.3 229.1h0M601.9 207.7h0M584.0 172.9h0M595.7 206.9h0M611.7 189.1h0M582.7 222.6h0M594.4 170.7h0M602.6 211.6h0M592.9 190.3h0M605.5 225.9h0M602.9 208.1h0M591.5 222.2h0M579.7 215.4h0M600.8 203.3h0M589.9 225.4h0M580.5 235.5h0M586.7 203.8h0M582.5 195.2h0M591.6 237.8h0M594.3 223.4h0M578.0 224.4h0M577.9 195.9h0M600.9 216.1h0M621.4 184.0h0M577.6 219.2h0M585.4 217.8h0M598.9 228.9h0M594.2 237.8h0M607.7 184.8h0M579.7 234.5h0M611.1 206.1h0M588.3 205.6h0M587.1 236.5h0M608.2 218.7h0M614.9 225.3h0M616.2 218.3h0M610.5 145.6h0M599.1 248.9h0M595.9 168.8h0M587.2 196.4h0M577.5 212.0h0M591.0 211.6h0M602.0 227.8h0M614.4 185.9h0M600.1 209.7h0M582.5 226.0h0M595.1 209.0h0M580.4 218.5h0M617.0 181.6h0M589.0 214.3h0M599.1 185.3h0M587.2 190.2h0M595.3 219.0h0M601.8 193.7h0M612.0 173.2h0M604.8 200.2h0M582.8 213.9h0M600.1 183.5h0M608.0 215.8h0M615.5 185.0h0M595.0 228.0h0M582.9 238.5h0M606.4 222.4h0M589.6 212.5h0M591.4 199.7h0M614.6 202.1h0M582.8 206.4h0M590.6 234.2h0M601.6 193.5h0M596.4 216.7h0M613.9 233.5h0M596.6 222.2h0M585.2 218.3h0M602.1 217.4h0M605.1 199.4h0M582.8 203.4h0M581.7 182.3h0M601.8 237.6h0M619.4 192.3h0M584.6 221.3h0M606.2 234.7h0M593.5 208.7h0M612.8 213.7h0M583.0 196.9h0M600.2 190.3h0M611.2 232.7h0M583.8 234.8h0M584.5 197.3h0M619.3 150.4h0M602.1 232.2h0M584.1 190.1h0M594.6 209.3h0M598.6 194.2h0M583.8 199.4h0M581.4 200.0h0M614.3 204.4h0M618.1 187.0h0M607.0 214.7h0M616.2 234.9h0M588.0 234.2h0M598.0 187.3h0M601.5 187.2h0M596.2 234.2h0M589.2 210.3h0M586.8 196.4h0M600.0 242.1h0M603.3 185.4h0M606.7 229.3h0M580.7 220.4h0M615.0 180.0h0M585.9 237.3h0M596.5 224.4h0M586.7 205.1h0M593.9 193.9h0M588.2 204.7h0M578.4 223.0h0M594.5 205.0h0M616.4 205.7h0M616.9 232.5h0M586.6 216.7h0M608.0 211.5h0M609.8 237.9h0M580.4 238.7h0M614.1 210.8h0M590.3 220.8h0M603.4 196.1h0M610.9 200.7h0M602.0 208.1h0M580.9 227.5h0M583.4 208.5h0M602.6 186.7h0M605.7 190.3h0M588.4 214.9h0M580.3 226.2h0M615.7 208.9h0M588.6 237.6h0M593.5 207.5h0M581.8 228.6h0M582.5 216.5h0M595.0 204.9h0M597.2 222.7h0M596.5 206.8h0M578.6 216.9h0M591.0 198.0h0M580.9 188.4h0M590.6 233.2h0M595.3 191.7h0M578.9 231.3h0M584.1 206.7h0M601.5 207.1h0M597.0 217.8h0M618.3 195.0h0M596.2 214.7h0M579.9 229.2h0M599.8 202.1h0M596.0 227.8h0M609.5 180.1h0M595.0 195.2h0M595.1 207.3h0M592.4 178.8h0M594.6 240.8h0M590.8 225.5h0M614.5 230.5h0M603.2 213.7h0M579.5 209.7h0M601.3 233.4h0M580.6 203.6h0M607.1 229.1h0M607.8 222.8h0M578.6 217.7h0M617.8 186.8h0M596.0 193.1h0M605.9 193.7h0M604.7 175.1h0M615.5 226.4h0M618.5 180.1h0M585.3 219.5h0M602.0 216.2h0M591.7 189.3h0M599.8 193.8h0M579.9 193.4h0M596.3 215.2h0M583.1 221.5h0M580.8 209.9h0M587.1 211.8h0M596.7 225.5h0M577.8 187.6h0M606.4 199.4h0M591.1 265.6h0M611.3 218.4h0M593.6 186.6h0M607.4 204.4h0M618.4 108.8h0M594.3 192.6h0M604.5 203.2h0M594.8 187.3h0M593.5 213.0h0M579.1 208.2h0M596.3 186.6h0M596.5 197.9h0M588.4 204.3h0M590.0 215.9h0M586.2 209.4h0M618.5 195.5h0M591.4 219.6h0M589.3 204.0h0M579.1 231.0h0M582.1 183.5h0M589.6 183.8h0M598.4 235.9h0M588.8 208.5h0M613.9 182.6h0M612.1 206.5h0M594.1 185.5h0M578.4 222.9h0M598.9 201.7h0M607.5 212.5h0M577.8 195.5h0M607.2 199.7h0M587.4 234.5h0M602.2 217.0h0M592.4 226.0h0M610.0 222.8h0M606.7 194.7h0M600.3 229.4h0M598.9 206.7h0M581.0 240.7h0M597.1 206.5h0M603.9 222.4h0M602.8 185.9h0M614.0 227.6h0M582.7 199.3h0M595.2 199.2h0M586.0 235.3h0M590.2 202.3h0M594.2 206.9h0M583.1 198.6h0M584.7 226.6h0M602.1 216.0h0M620.8 211.5h0M583.2 217.5h0M610.0 221.4h0M585.5 216.7h0M611.8 179.1h0M593.4 208.7h0M580.2 234.2h0M604.5 183.1h0M583.9 217.9h0M613.2 232.2h0M598.7 155.7h0M616.5 236.4h0M591.3 231.5h0M593.6 186.5h0M610.1 231.6h0M609.1 225.9h0M614.4 197.6h0M592.3 220.4h0M618.0 202.8h0M608.1 190.1h0M581.4 231.7h0M580.7 208.0h0M615.5 195.9h0M576.7 223.6h0M601.3 186.2h0M615.9 203.2h0M598.4 182.3h0M591.4 176.8h0M586.1 244.2h0M606.7 218.5h0M624.1 171.7h0M586.5 220.0h0M611.0 199.8h0M603.0 201.0h0M580.2 205.5h0M582.7 215.3h0M586.5 220.8h0M581.0 200.6h0M587.7 199.8h0M610.7 161.5h0M601.0 203.0h0M613.0 200.3h0M590.9 210.0h0M607.8 148.3h0M622.5 225.4h0M608.6 136.0h0M591.0 208.3h0M589.0 173.7h0M599.0 201.8h0M611.8 208.6h0M608.8 236.9h0M615.1 233.6h0M603.1 192.7h0M616.8 222.3h0M581.5 203.0h0M586.6 188.6h0M605.5 190.0h0M581.9 159.2h0M601.3 237.8h0M613.8 233.1h0M596.9 196.1h0M618.1 227.6h0M585.9 191.2h0M589.5 188.6h0M591.4 220.9h0M582.3 227.2h0M597.4 261.7h0M592.8 204.7h0M588.5 239.5h0M583.5 217.4h0M580.2 204.8h0M591.5 233.6h0M585.8 170.7h0M578.3 236.1h0M606.2 205.9h0M618.1 218.1h0M584.3 206.9h0M588.8 186.9h0M600.8 229.9h0M579.3 228.3h0M621.4 216.5h0M602.1 215.9h0M619.2 184.4h0M617.9 225.8h0M615.2 207.3h0M584.7 248.1h0M598.2 216.9h0M584.4 217.1h0M600.7 213.1h0M607.9 207.2h0M578.0 212.8h0M591.2 242.6h0M599.5 231.7h0M607.0 191.0h0M600.5 243.0h0M590.5 217.5h0M598.8 211.4h0M613.9 216.9h0M617.0 185.5h0M593.1 188.4h0M604.2 231.4h0M583.3 202.9h0M588.0 204.8h0M599.5 235.6h0M590.8 218.8h0M603.4 203.2h0M607.5 193.7h0M594.1 214.1h0M585.2 226.9h0M590.4 233.6h0M589.4 208.3h0M582.8 207.0h0M580.3 111.5h0M610.2 211.2h0M597.4 210.1h0M612.6 183.6h0M576.8 183.3h0M609.4 198.4h0M595.1 235.2h0M594.8 190.4h0M601.8 222.8h0M601.0 200.5h0M588.6 236.7h0M578.6 197.4h0M614.2 188.9h0M613.7 241.1h0M598.3 221.8h0M608.7 233.0h0M580.0 200.2h0M605.0 208.5h0M619.5 200.6h0M587.4 224.6h0M577.4 201.8h0M577.8 185.7h0M591.3 220.3h0M608.4 214.9h0M581.7 222.8h0M617.1 193.3h0M584.1 211.8h0M584.8 143.5h0M594.1 215.6h0M611.5 216.6h0M613.0 195.5h0M584.1 243.2h0M595.9 182.1h0M588.8 165.1h0M613.7 199.6h0M581.4 225.1h0M601.3 218.1h0M585.9 228.5h0M605.9 246.9h0M581.9 213.4h0M584.6 189.7h0M613.8 198.9h0M604.6 188.6h0M591.6 194.4h0M615.0 223.1h0M585.6 199.8h0M580.9 176.0h0M607.4 198.7h0M586.0 209.5h0M596.4 223.0h0M611.1 221.0h0M616.1 211.5h0M584.0 185.8h0M587.3 210.6h0M578.1 184.7h0M588.0 223.1h0M601.2 154.1h0M600.5 177.9h0M599.3 237.2h0M592.1 190.8h0M607.3 212.7h0M576.7 218.3h0M606.3 219.4h0M599.6 203.9h0M585.0 209.3h0M589.3 193.6h0M586.5 225.6h0M604.7 210.7h0M615.4 231.1h0M604.8 195.1h0M587.0 213.2h0M588.0 225.6h0M590.3 205.2h0M583.9 188.8h0M591.7 208.7h0M576.9 226.3h0M604.1 235.1h0M587.9 228.3h0M594.5 203.1h0M585.4 223.5h0M590.4 212.7h0M612.4 200.7h0M594.7 192.5h0M606.3 213.9h0M604.6 192.3h0M613.4 228.0h0M578.2 215.2h0M592.5 203.5h0M591.2 201.0h0M592.5 235.6h0M597.2 236.8h0M586.2 200.4h0M597.0 175.5h0M587.6 231.8h0M599.7 170.2h0M597.6 216.2h0M614.5 224.4h0M615.2 176.2h0M602.2 194.5h0M604.4 198.5h0M586.1 218.9h0M583.4 205.6h0M609.9 200.8h0M581.1 215.5h0M582.4 223.8h0M594.6 156.8h0M587.3 195.8h0M583.9 175.9h0M602.6 198.7h0M590.7 205.6h0M602.9 223.3h0M577.1 205.9h0M589.4 236.8h0M594.1 189.3h0M596.7 224.5h0M618.7 204.2h0M610.0 184.7h0M608.7 202.0h0M593.7 178.2h0M585.5 241.3h0M588.6 185.6h0M587.0 223.2h0M600.3 175.9h0M581.6 222.1h0M618.0 221.0h0M596.2 189.9h0M588.7 177.1h0M590.7 224.8h0M621.1 238.1h0M587.9 187.2h0M580.9 257.4h0M595.9 219.8h0M579.9 189.5h0M618.0 207.6h0M578.0 209.3h0M615.5 226.3h0M591.8 198.5h0M592.3 191.6h0M581.2 223.3h0M617.5 202.9h0M578.4 211.3h0M597.8 192.8h0M607.7 178.9h0M578.5 227.2h0M589.0 237.7h0M592.4 247.9h0M581.4 210.4h0M607.4 164.5h0M597.5 167.6h0M584.2 208.7h0M606.4 218.2h0M611.3 159.3h0M581.7 192.7h0M617.3 127.8h0M576.6 227.4h0M608.5 213.5h0M577.1 195.7h0M576.5 210.8h0M600.3 192.3h0M593.0 237.4h0M602.2 179.9h0M621.7 210.2h0M582.2 191.6h0M579.7 196.1h0M583.3 230.2h0M591.5 228.4h0M607.4 198.6h0M593.1 204.7h0M612.8 208.6h0M583.9 200.1h0M590.3 236.4h0M587.7 186.7h0M599.1 231.6h0M577.4 205.5h0M605.0 197.3h0M581.7 217.2h0M619.5 193.7h0M608.7 223.8h0M590.7 226.5h0M605.2 195.5h0M579.7 198.7h0M584.8 205.0h0M576.7 204.4h0M597.6 207.9h0M582.6 241.7h0M581.8 220.3h0M580.9 183.8h0M594.4 200.5h0M588.7 235.6h0M608.7 201.5h0M586.4 208.8h0M595.0 202.1h0M612.5 206.9h0M580.2 243.5h0M585.6 199.5h0M603.2 221.4h0M618.4 203.5h0M610.0 231.2h0M577.5 211.5h0M592.4 214.6h0M593.8 191.6h0M581.9 233.8h0M614.0 208.6h0M582.4 197.9h0M602.5 198.4h0M597.6 206.4h0M588.7 215.7h0M594.0 189.7h0M580.2 232.3h0M612.9 196.9h0M603.0 229.7h0M585.9 199.9h0M617.4 209.9h0M590.5 199.8h0M614.3 237.4h0M584.6 207.3h0M577.6 226.3h0M599.6 221.1h0M582.0 203.9h0M576.9 263.1h0M605.7 227.7h0M577.0 223.4h0M588.9 186.2h0M590.0 231.4h0M594.7 186.9h0M579.9 199.3h0M591.8 207.9h0M617.7 162.1h0M585.9 214.2h0M587.9 194.2h0M593.6 217.4h0M588.1 207.0h0M599.6 185.2h0M579.7 189.2h0M582.2 220.2h0M584.8 190.5h0M581.2 212.3h0M580.3 197.3h0M596.6 184.2h0M611.1 189.3h0M596.1 211.0h0M600.1 240.5h0M583.5 215.3h0M616.9 193.8h0M577.8 189.5h0M603.1 187.4h0M616.6 238.6h0M577.5 255.4h0M594.9 204.1h0M584.4 184.3h0M610.6 239.8h0M630.5 116.2h0M605.1 199.3h0M598.8 201.9h0M618.9 217.2h0M591.9 208.6h0M576.5 198.7h0M591.5 221.0h0M579.8 205.3h0M620.0 159.6h0M604.3 169.0h0M594.9 238.6h0M595.2 197.4h0M634.5 156.8h0M588.0 177.9h0M612.4 198.4h0M582.1 209.0h0M616.7 160.4h0M590.6 227.1h0M605.8 223.0h0M581.2 192.2h0M593.6 196.2h0M590.5 188.5h0M618.3 240.0h0M603.8 185.4h0M599.3 220.5h0M594.9 200.6h0M618.4 224.0h0M582.4 210.3h0M618.0 238.4h0M583.7 221.6h0M580.1 153.6h0M613.0 188.7h0M578.4 180.8h0M601.3 218.4h0M582.9 186.5h0M586.0 194.5h0M588.4 206.4h0M618.4 210.6h0M586.2 238.1h0M608.2 205.3h0M596.4 228.6h0M576.9 192.6h0M586.8 197.9h0M606.0 222.9h0M580.8 200.0h0M609.9 245.4h0M586.0 222.8h0M600.4 205.8h0M616.8 189.2h0M581.8 218.3h0M610.8 238.8h0M583.4 217.2h0M592.7 196.3h0M617.6 192.7h0M602.9 181.0h0M611.3 210.9h0M612.1 208.9h0M582.1 194.0h0M588.9 211.5h0M600.3 188.0h0M577.4 191.1h0M591.6 191.9h0M585.0 233.6h0M600.2 204.0h0M587.7 204.3h0M601.8 217.9h0M584.7 234.4h0M583.6 208.0h0M598.7 223.8h0M607.3 192.1h0M591.6 214.7h0M584.2 265.0h0M594.8 221.3h0M582.1 210.7h0M591.4 202.9h0M611.0 222.6h0M599.8 234.4h0M616.0 206.5h0M597.9 201.7h0M586.3 186.9h0M589.6 198.0h0M580.3 206.1h0M616.2 201.7h0M608.9 199.9h0M581.2 225.2h0M594.2 152.6h0M578.7 206.7h0M583.7 200.7h0M599.5 195.5h0M586.2 231.4h0M594.5 202.0h0M615.1 195.9h0M613.0 208.1h0M590.1 223.8h0M609.0 180.0h0M602.1 206.1h0M619.3 230.8h0M578.5 198.1h0M584.7 236.9h0M586.6 227.8h0M586.2 217.3h0M600.5 198.7h0M605.9 235.7h0M622.3 180.9h0M609.3 221.8h0M589.1 202.4h0M582.3 225.6h0M604.4 214.4h0M579.6 227.1h0M609.1 231.3h0M583.1 206.1h0M612.3 216.4h0M591.8 204.8h0M609.3 198.1h0M578.7 185.5h0M616.1 226.3h0M602.0 202.9h0M611.2 222.5h0M577.6 212.8h0M586.0 200.3h0M613.9 199.2h0M579.9 200.0h0M595.9 223.8h0M607.7 149.9h0M596.4 204.0h0M582.8 224.9h0M592.4 232.2h0M594.5 195.5h0M603.7 198.2h0M605.4 198.3h0M600.4 185.1h0M584.8 205.0h0M604.4 206.9h0M605.5 206.4h0M607.8 200.7h0M600.1 237.1h0M579.0 241.2h0M606.9 214.2h0M582.4 207.3h0M576.7 224.9h0M590.2 178.7h0M596.5 219.5h0M579.5 213.8h0M616.6 208.6h0M611.8 247.8h0M583.1 167.1h0M619.9 172.5h0M608.5 190.2h0M576.7 172.6h0M612.5 223.7h0M578.3 197.7h0M589.6 228.4h0M606.0 216.2h0M581.1 231.2h0M582.7 221.2h0M592.0 199.2h0M597.7 217.7h0M611.4 166.1h0M601.6 225.1h0M611.7 236.2h0M610.4 245.6h0M583.6 196.1h0M593.9 203.3h0M579.5 211.9h0M606.5 197.2h0M608.8 239.1h0M598.1 239.7h0M606.3 234.0h0M614.3 144.5h0M595.1 223.2h0M579.5 186.3h0M589.6 191.5h0M582.3 204.3h0M598.7 254.0h0M598.4 207.4h0M615.1 241.1h0M581.9 203.5h0M603.6 228.0h0M601.4 197.9h0M616.9 209.3h0M613.1 240.9h0M578.4 198.5h0M589.6 230.5h0M595.7 225.8h0M581.1 193.5h0M619.1 191.9h0M602.0 245.9h0M616.8 220.6h0M591.0 223.4h0M582.8 235.4h0M590.7 198.9h0M592.0 185.6h0M594.6 219.9h0M582.2 177.1h0M580.7 219.7h0M587.8 188.6h0M589.7 217.0h0M585.0 201.5h0M584.7 187.6h0M605.3 203.3h0M579.0 197.5h0M584.1 213.4h0M606.2 182.6h0M586.3 241.7h0M602.3 211.7h0M615.3 206.4h0M593.1 190.1h0M588.2 163.8h0M588.2 200.1h0M594.6 215.4h0M609.5 231.9h0M584.3 218.8h0M586.0 191.4h0M595.9 236.0h0M581.4 216.7h0M615.1 198.5h0M610.6 212.4h0M584.3 219.3h0M597.9 194.2h0M610.8 201.2h0M612.7 190.4h0M601.4 209.9h0M599.2 213.3h0M586.3 241.6h0M594.0 216.6h0M585.6 218.5h0M597.8 226.5h0M588.1 219.8h0M598.5 226.6h0M577.7 201.5h0M611.2 212.0h0M595.3 210.5h0M614.8 212.5h0M588.8 231.3h0M615.7 216.0h0M586.3 220.6h0M586.3 199.8h0M603.4 197.4h0M581.8 210.3h0M589.3 206.1h0M613.5 189.2h0M610.7 223.9h0M605.9 189.1h0M583.8 205.7h0M613.4 204.0h0M578.2 207.3h0M613.8 232.7h0M609.8 235.0h0M614.0 220.3h0M587.1 176.8h0M616.0 198.8h0M593.9 206.6h0M605.0 194.9h0M598.5 236.4h0M578.7 162.6h0M580.5 236.2h0M602.2 216.8h0M605.9 188.4h0M587.5 210.8h0M584.4 199.1h0M589.0 195.7h0M597.0 196.1h0M577.5 199.8h0M591.2 214.4h0M611.2 228.5h0M584.7 230.8h0M588.9 196.4h0M598.7 201.2h0M587.8 197.9h0M580.1 246.4h0M600.7 196.2h0M588.0 218.2h0M592.9 223.7h0M621.6 195.0h0M606.6 228.9h0M593.6 238.6h0M585.2 217.9h0M589.2 185.2h0M595.9 202.2h0M595.6 233.4h0M582.4 199.9h0M602.8 211.8h0M580.5 188.7h0M585.9 211.2h0M583.7 219.6h0M603.6 225.9h0M597.9 235.7h0M583.6 199.1h0M593.1 223.9h0M587.3 230.9h0M579.1 184.7h0M615.5 238.2h0M599.3 193.2h0M591.8 236.5h0M581.8 194.9h0M613.5 193.8h0M613.3 172.5h0M611.2 211.3h0M599.3 181.3h0M614.0 197.1h0M596.6 224.7h0M581.6 236.1h0M584.9 213.1h0M591.3 195.0h0M589.3 219.9h0M583.9 214.1h0M595.8 203.3h0M589.5 198.3h0M586.0 211.7h0M581.1 230.6h0M592.2 205.8h0M608.2 220.8h0M612.5 197.5h0M584.8 199.5h0M578.9 230.3h0M617.7 193.9h0M589.0 194.8h0M578.3 239.9h0M617.9 217.9h0M579.8 241.8h0M609.5 206.0h0M588.8 236.5h0M611.6 222.8h0M614.2 234.5h0M580.6 231.9h0M597.7 195.0h0M593.1 208.4h0M585.1 229.9h0M592.2 217.1h0M612.2 222.3h0M588.1 220.7h0M594.0 215.8h0M593.0 217.4h0M605.0 187.9h0M603.2 198.9h0M597.8 190.3h0M589.2 109.8h0M581.1 230.8h0M591.5 228.4h0M596.6 183.4h0M586.4 200.1h0M589.2 244.4h0M584.9 209.6h0M583.2 212.2h0M584.1 237.4h0M592.8 180.8h0M588.3 240.5h0M614.9 194.0h0M606.8 202.7h0M602.4 216.8h0M580.7 236.9h0M605.9 254.6h0M585.1 229.8h0M592.9 231.8h0M619.1 199.8h0M600.6 187.1h0M610.2 205.4h0M585.4 211.0h0M596.2 188.8h0M590.9 193.5h0M594.7 238.1h0M604.0 209.0h0M577.1 201.2h0M597.9 231.2h0M583.4 224.3h0M592.4 223.5h0M600.9 218.0h0M599.0 221.6h0M579.6 228.7h0M601.7 221.5h0M599.5 230.6h0M584.8 192.6h0M597.5 234.2h0M586.7 181.5h0M587.4 183.8h0M592.2 199.5h0M589.2 208.9h0M615.8 229.0h0M578.3 222.2h0M599.1 133.4h0M592.3 207.9h0M610.9 200.8h0M592.2 185.3h0M589.9 209.5h0M618.1 176.3h0M588.1 217.7h0M587.5 233.2h0M604.6 219.3h0M588.6 199.5h0M580.3 235.0h0M600.6 219.1h0M600.0 204.2h0M577.1 215.8h0M595.0 173.6h0M602.5 237.3h0M590.9 174.0h0M579.4 196.1h0M583.9 232.4h0M614.3 229.0h0M601.8 196.8h0M598.2 195.8h0M601.2 166.4h0M606.7 242.7h0M605.8 198.5h0M587.3 221.6h0M586.0 194.1h0M578.1 209.7h0M582.9 205.9h0M616.1 217.8h0M593.0 229.7h0M619.2 232.1h0M594.3 225.5h0M587.5 192.6h0M592.8 185.5h0M601.4 221.5h0M576.7 228.8h0M588.0 225.4h0M608.2 235.0h0M594.9 187.3h0M582.4 203.5h0M597.5 212.7h0M600.5 237.5h0M595.8 201.8h0M587.0 214.2h0M577.4 218.0h0M590.8 168.4h0M597.2 233.4h0M610.6 214.5h0M579.0 173.1h0M592.4 258.0h0M612.4 234.4h0M608.4 184.3h0M592.5 177.8h0M591.9 183.0h0M578.1 226.4h0M581.5 201.7h0M598.9 216.9h0M603.6 161.2h0M602.6 213.3h0M607.4 200.2h0M609.4 204.1h0M620.1 216.2h0M590.4 207.8h0M582.9 203.8h0M577.8 204.8h0M601.2 194.9h0M592.0 199.8h0M606.1 201.9h0M590.1 216.8h0M593.1 232.8h0M588.9 231.3h0M578.0 215.2h0M590.9 203.0h0M588.4 183.4h0M594.0 191.4h0M603.2 222.5h0M607.4 224.8h0M598.5 238.9h0M590.8 188.7h0M581.3 219.6h0M590.2 184.8h0M606.3 233.2h0M577.4 239.0h0M587.3 219.4h0M587.8 215.7h0M602.9 194.3h0M611.3 232.6h0M620.4 194.8h0M576.9 186.4h0M620.6 201.3h0M581.6 210.5h0M594.2 223.1h0M620.8 166.8h0M606.2 232.1h0M585.8 208.9h0M616.8 157.8h0M591.3 184.4h0M583.9 202.8h0M595.5 223.5h0M616.0 215.7h0M607.3 230.1h0M581.4 183.5h0M596.3 214.6h0M592.5 194.5h0M587.9 238.4h0M598.6 239.9h0M593.9 231.2h0M614.7 233.7h0M583.5 203.3h0M577.8 200.4h0M598.6 237.3h0M610.5 203.5h0M580.5 214.1h0M607.2 200.8h0M599.3 153.7h0M606.4 199.5h0M611.0 200.4h0M581.7 238.0h0M596.7 185.8h0M594.0 216.0h0M616.4 183.8h0M581.1 198.4h0M596.4 220.8h0M578.0 180.3h0M600.3 231.9h0M581.0 215.2h0M617.0 216.1h0M588.8 199.4h0M588.8 199.8h0M591.2 212.8h0M588.4 208.3h0M590.9 233.7h0M587.9 216.7h0M585.6 231.1h0M611.5 180.5h0M607.5 201.5h0M584.2 228.7h0M582.7 192.3h0M585.2 209.0h0M590.8 188.4h0M583.6 202.5h0M595.9 230.8h0M580.4 213.4h0M605.9 194.5h0M592.5 224.8h0M602.6 183.6h0M601.6 145.5h0M588.0 222.1h0M611.5 149.8h0M611.0 239.2h0M620.9 218.1h0M601.9 228.8h0M606.6 194.6h0M597.5 182.1h0M581.7 214.7h0M601.0 216.3h0M609.6 172.3h0M587.8 185.1h0M590.2 215.1h0M602.6 221.4h0M590.4 183.3h0M603.7 218.6h0M590.5 209.0h0M587.3 189.3h0M588.4 209.3h0M595.2 206.3h0M584.4 212.7h0M598.7 215.8h0M610.5 217.0h0M584.3 189.9h0M583.2 224.3h0M601.6 201.5h0M587.8 190.8h0M587.3 222.0h0M610.5 191.2h0M591.0 176.5h0M583.8 237.3h0M618.9 207.3h0M615.8 200.7h0M616.4 180.8h0M582.7 228.2h0M598.1 214.2h0M604.3 196.3h0M579.8 179.3h0M612.5 177.6h0M579.0 210.0h0M599.3 197.9h0M586.6 221.2h0M604.9 196.0h0M595.0 192.0h0M594.2 224.3h0M599.8 219.5h0M580.7 186.2h0M580.0 204.5h0M594.0 202.6h0M596.5 202.8h0M618.8 214.7h0M612.3 222.3h0M588.6 236.3h0M588.2 212.3h0M609.8 230.6h0M596.1 237.6h0M601.1 205.5h0M614.0 173.1h0M629.8 126.6h0M612.1 211.7h0M593.2 198.4h0M584.6 223.2h0M610.2 170.1h0M587.2 203.1h0M580.8 204.5h0M587.2 227.0h0M583.4 195.3h0M600.0 236.2h0M577.8 216.1h0M616.3 239.9h0M608.3 221.2h0M579.9 207.8h0M617.9 206.7h0M609.8 165.4h0M587.2 210.3h0M607.3 229.7h0M576.8 236.5h0M590.8 209.7h0M601.0 165.8h0M590.7 203.4h0M580.5 199.4h0M585.2 209.4h0M578.7 188.2h0M609.6 194.9h0M578.1 223.8h0M588.0 231.8h0M605.0 180.5h0M592.1 229.1h0M598.5 188.4h0M606.8 183.6h0M580.9 231.3h0M579.9 201.3h0M626.0 152.9h0M583.3 188.0h0M606.1 215.6h0M585.6 168.6h0M610.2 187.0h0M592.1 228.1h0M583.6 228.4h0M616.4 200.5h0M590.9 194.4h0M604.2 187.9h0M611.3 186.1h0M593.8 221.7h0M586.2 184.6h0M589.5 229.1h0M591.9 211.8h0M578.9 220.0h0M619.0 218.5h0M587.4 221.1h0M617.8 224.6h0M595.7 196.0h0M593.8 209.2h0M597.6 230.3h0M579.4 190.7h0M584.4 197.8h0M582.4 183.8h0M592.4 223.4h0M579.1 228.3h0M583.1 213.4h0M585.7 226.2h0M606.8 226.0h0M582.9 192.9h0M590.6 235.0h0M586.0 221.0h0M582.4 226.4h0M587.1 219.0h0M585.6 167.8h0M600.0 199.9h0M577.3 221.3h0M634.9 146.4h0M614.4 189.1h0M606.7 256.0h0M593.6 202.3h0M594.8 224.9h0M618.3 186.3h0M606.6 209.7h0M613.5 185.8h0M580.1 181.8h0M583.0 208.3h0M608.9 218.9h0M586.8 195.0h0M606.1 191.0h0M611.5 214.9h0M580.8 214.9h0M611.3 173.3h0M577.4 227.3h0M609.9 195.7h0M580.9 197.0h0M582.5 197.2h0M597.5 232.2h0M584.1 229.3h0M593.8 230.4h0M580.8 237.7h0M589.0 231.0h0M582.5 190.8h0M588.4 193.9h0M585.2 206.5h0M597.2 196.3h0M592.7 188.2h0M604.3 205.7h0M586.8 224.2h0M608.8 188.1h0M587.8 207.5h0M619.9 182.8h0M601.6 188.4h0M585.1 201.4h0M591.8 206.3h0M617.9 224.0h0M599.8 222.9h0M584.9 223.6h0M597.8 234.9h0M588.0 211.8h0M615.4 202.4h0M589.1 209.5h0M602.9 219.1h0M591.4 235.6h0M597.8 225.8h0M601.5 176.3h0M593.7 221.4h0M585.0 209.6h0M599.4 234.9h0M595.9 220.6h0M579.2 250.5h0M604.7 214.8h0M607.3 172.1h0M584.2 258.3h0M593.0 214.7h0M593.8 224.3h0M592.2 210.4h0M600.3 225.3h0M589.2 180.0h0M600.3 198.5h0M589.3 224.8h0M600.2 187.4h0M579.5 216.0h0M585.9 237.6h0M578.6 189.0h0M584.8 238.6h0M589.2 191.9h0M600.0 197.2h0M589.6 218.8h0M594.4 240.6h0M596.4 190.1h0M599.4 205.2h0M604.5 227.9h0M578.4 224.7h0M616.2 199.0h0M584.3 189.3h0M602.6 185.0h0M600.0 191.6h0M589.9 191.7h0M592.1 191.8h0M580.4 199.8h0M582.8 194.4h0M594.7 207.2h0M578.6 121.2h0M581.0 193.9h0M583.9 214.1h0M588.8 191.1h0M618.7 221.1h0M606.6 213.1h0M599.8 193.5h0M615.4 212.4h0M618.7 159.0h0M592.0 229.4h0M585.8 235.4h0M595.6 181.5h0M597.6 227.4h0M603.3 234.2h0M578.5 200.4h0M582.1 209.1h0M597.3 208.2h0M614.4 202.8h0M619.7 169.4h0M600.8 215.1h0M578.3 201.7h0M578.9 191.5h0M599.7 219.2h0M605.7 233.8h0M617.2 199.1h0M588.1 225.8h0M600.1 227.2h0M624.9 168.4h0M610.1 202.1h0M584.9 224.2h0M604.6 230.0h0M599.9 226.7h0M591.0 225.2h0M605.4 238.6h0M582.9 188.4h0M612.0 236.8h0M584.2 212.2h0M608.9 119.9h0M580.3 219.1h0M586.4 241.0h0M582.7 193.3h0M620.4 182.4h0M581.9 224.8h0M589.3 226.5h0M613.2 237.6h0M585.1 202.4h0M610.8 206.7h0M597.1 219.8h0M620.3 190.3h0M588.8 235.4h0M621.3 223.2h0M594.5 189.5h0M616.6 197.0h0M580.1 194.1h0M593.2 198.4h0M622.5 233.6h0M584.1 224.8h0M614.8 194.1h0M610.3 233.7h0M598.3 228.9h0M594.0 209.3h0M583.4 203.1h0M578.4 233.0h0M593.9 229.9h0M596.2 195.0h0M618.9 201.3h0M586.0 239.0h0M592.9 176.7h0M589.0 232.7h0M594.7 209.5h0M580.9 203.4h0M606.8 196.0h0M610.6 210.3h0M577.2 222.6h0M613.5 186.8h0M597.7 184.7h0M614.3 174.8h0M579.8 201.4h0M594.8 188.5h0M601.3 233.7h0M590.6 191.9h0M622.6 212.6h0M594.1 195.1h0M581.8 215.2h0M591.5 177.8h0M582.9 213.7h0M584.9 208.9h0M592.1 210.0h0M602.2 201.4h0M580.0 192.6h0M613.8 217.7h0M601.4 199.5h0M599.2 211.4h0M586.6 200.7h0M622.9 180.2h0M578.5 192.5h0M601.5 212.9h0M581.9 218.3h0M586.8 154.7h0M588.9 201.8h0M610.1 209.6h0M599.8 205.0h0M612.9 231.7h0M603.0 233.7h0M588.8 202.0h0M600.9 231.1h0M601.9 201.6h0M588.6 238.3h0M581.2 229.6h0M579.0 236.9h0M615.8 186.4h0M613.2 225.9h0M602.9 229.1h0M591.1 222.6h0M595.3 196.8h0M588.9 216.5h0M579.1 197.4h0M595.4 182.6h0M594.7 226.5h0M599.3 216.1h0M607.7 206.2h0M594.1 203.0h0M589.5 233.3h0M616.7 201.2h0M587.7 225.2h0M594.0 197.2h0M590.3 190.1h0M590.7 191.3h0M610.5 172.5h0M579.9 231.5h0M587.1 234.0h0M620.5 175.7h0M589.7 196.6h0M597.2 210.1h0M595.0 236.0h0M615.3 218.2h0M600.4 253.1h0M607.6 225.7h0M602.0 208.7h0M618.6 200.7h0M601.0 180.2h0M599.5 237.7h0M608.7 192.7h0M596.3 200.5h0M614.8 186.6h0M599.7 217.6h0M609.9 201.6h0M580.0 210.0h0M611.9 223.4h0M588.3 201.1h0M597.2 238.0h0M595.9 232.4h0M588.3 231.2h0M604.5 201.3h0M583.2 202.6h0M579.8 187.6h0M609.9 220.9h0M620.2 221.3h0M611.5 229.6h0M602.6 188.9h0M606.5 208.1h0M582.4 224.8h0M588.7 220.2h0M580.2 172.8h0M592.9 191.0h0M587.8 207.1h0M583.4 227.3h0M610.5 198.4h0M584.9 194.2h0M598.6 205.1h0M616.6 211.8h0M594.6 227.3h0M582.3 212.1h0M604.1 184.2h0M606.6 227.9h0M585.3 208.3h0M588.4 230.7h0M583.7 231.9h0M586.1 222.2h0M592.6 205.7h0M621.7 229.5h0M590.0 233.7h0M593.4 198.3h0M598.4 216.9h0M582.4 246.7h0M581.1 188.4h0M612.9 231.9h0M592.7 203.4h0M585.7 190.8h0M579.2 222.1h0M587.9 170.8h0M581.8 195.5h0M599.0 237.2h0M578.7 202.4h0M587.7 231.4h0M607.6 232.4h0M590.9 226.4h0M618.0 218.5h0M601.2 220.8h0M579.7 189.4h0M583.6 213.5h0M612.7 237.9h0M590.4 223.3h0M611.7 181.6h0M605.6 227.2h0M584.8 228.2h0M577.0 213.7h0M599.0 212.6h0M589.9 226.2h0M590.0 221.9h0M596.3 201.4h0M590.7 205.8h0M591.3 194.8h0M605.6 173.3h0M605.4 191.1h0M585.8 215.4h0M604.0 165.3h0M584.0 236.8h0M618.1 221.1h0M581.7 226.7h0M589.6 232.8h0M585.3 240.7h0M592.9 185.7h0M591.7 227.0h0M577.5 216.1h0M616.1 209.4h0M608.6 198.2h0M585.0 201.5h0M595.9 224.4h0M599.6 208.4h0M600.8 180.6h0M594.4 209.3h0M618.4 180.4h0M597.4 206.8h0M622.0 217.4h0M605.2 186.1h0M620.8 206.9h0M597.0 228.1h0M605.5 237.9h0M598.1 204.8h0M609.6 217.0h0M586.7 171.0h0M588.0 239.4h0M584.7 211.6h0M599.9 196.8h0M592.1 194.5h0M599.9 171.5h0M586.5 238.3h0M589.8 239.5h0M587.3 228.0h0M583.8 193.3h0M612.6 208.0h0M577.4 201.9h0M614.2 224.1h0M587.1 190.6h0M595.8 240.3h0M578.5 229.1h0M592.8 183.5h0M615.9 220.3h0M613.7 192.0h0M595.1 233.1h0M592.1 192.3h0M599.8 198.2h0M616.7 232.3h0M591.3 206.5h0M587.3 212.1h0M584.4 226.3h0M576.8 209.8h0M579.7 227.1h0M609.7 169.8h0M584.5 208.2h0M620.5 198.9h0M611.8 233.7h0M611.0 204.7h0M589.5 183.5h0M616.6 200.6h0M610.4 193.7h0M576.6 188.8h0M592.9 191.5h0M600.1 211.4h0M610.5 238.4h0M589.8 224.9h0M586.1 176.4h0M597.9 230.0h0M608.1 233.2h0M581.5 186.1h0M586.8 211.3h0M579.8 216.8h0M619.7 190.6h0M595.9 187.1h0M592.9 208.0h0M582.9 211.3h0M588.3 191.6h0M584.4 226.2h0M607.7 175.7h0M587.7 230.4h0M600.1 232.1h0M580.7 202.3h0M592.1 225.3h0M576.8 226.0h0M606.4 237.7h0M615.7 198.4h0M595.1 185.4h0M610.6 223.0h0M619.6 228.0h0M587.6 195.1h0M576.7 234.5h0M605.8 172.5h0M609.4 265.1h0M596.8 136.1h0M599.9 187.5h0M585.6 235.4h0M593.8 206.6h0M590.8 192.9h0M580.1 202.3h0M580.4 208.8h0M615.4 235.4h0M593.9 195.2h0M606.2 182.7h0M602.0 231.9h0M607.2 233.8h0M610.7 211.7h0M589.4 188.9h0M611.6 199.6h0M606.6 190.4h0M577.7 186.0h0M577.9 216.8h0M593.9 188.7h0M590.1 193.8h0M589.0 244.4h0M603.2 220.1h0M601.8 190.6h0M611.5 247.6h0M587.4 201.4h0M599.2 216.3h0M582.2 212.9h0M578.9 164.8h0M581.6 201.0h0M577.9 226.9h0M607.6 211.5h0M605.7 217.9h0M579.8 207.9h0M596.0 171.5h0M606.4 235.8h0M589.2 232.4h0M594.7 228.0h0M599.3 191.7h0M601.0 198.5h0M606.8 234.4h0M581.5 225.3h0M620.5 202.8h0M592.8 207.4h0M588.8 192.4h0M585.9 187.1h0M609.6 228.0h0M600.0 185.3h0M611.2 212.8h0M580.6 199.9h0M578.0 222.7h0M586.3 192.9h0M581.0 229.1h0M602.9 161.9h0M599.6 215.8h0M598.5 213.9h0M592.0 208.6h0M610.3 213.9h0M593.8 236.6h0M585.8 212.5h0M593.0 194.9h0M618.9 184.1h0M629.6 114.9h0M615.3 229.4h0M577.7 225.4h0M589.8 239.9h0M588.0 201.4h0M592.5 195.6h0M578.8 224.4h0M592.7 174.8h0M580.6 203.4h0M582.7 213.3h0M591.2 208.0h0M609.0 211.8h0M602.8 227.7h0M609.2 103.1h0M594.8 222.4h0M581.0 190.0h0M582.7 209.3h0M577.2 219.3h0M578.1 185.5h0M594.2 184.9h0M583.6 237.9h0M588.3 238.5h0M593.6 210.2h0M597.9 205.3h0M603.1 178.7h0M589.7 181.6h0M612.9 228.2h0M595.9 229.6h0M581.6 212.7h0M603.0 211.4h0M592.2 186.1h0M589.2 201.8h0M578.2 230.8h0M617.6 201.1h0M609.1 175.3h0M596.8 209.2h0M591.0 200.0h0M602.4 237.9h0M606.9 214.8h0M599.5 221.1h0M580.0 253.0h0M611.1 216.7h0M611.3 232.1h0M593.2 214.9h0M612.1 204.8h0M602.4 241.9h0M584.0 225.6h0M620.4 191.8h0M589.7 220.3h0M588.9 207.9h0M587.3 205.4h0M591.3 213.1h0M584.5 203.4h0M590.4 189.1h0M607.3 198.8h0M580.6 240.6h0M590.1 232.7h0M599.7 213.7h0M602.7 215.7h0M582.4 101.4h0M590.4 213.7h0M614.8 189.2h0M590.8 223.7h0M594.6 211.1h0M595.9 162.9h0M577.3 197.1h0M596.7 235.6h0M587.3 235.5h0M598.3 211.8h0M618.6 207.3h0M579.5 230.7h0M591.8 227.5h0M585.4 189.1h0M581.5 212.0h0M577.7 231.6h0M606.7 197.4h0M614.1 184.5h0M590.5 217.3h0M587.4 203.6h0M577.1 206.2h0M604.1 239.7h0M620.1 231.4h0M596.5 186.7h0M590.7 227.6h0M601.3 108.2h0M617.7 175.7h0M579.7 187.5h0M619.6 168.9h0M608.9 230.4h0M590.8 206.4h0M592.3 200.1h0M577.2 200.2h0M597.6 229.6h0M576.7 245.6h0M585.6 186.4h0M607.4 188.1h0M597.0 211.9h0M596.3 189.3h0M581.9 212.7h0M617.9 216.7h0M612.2 224.0h0M581.0 227.9h0M602.7 200.3h0M613.8 205.8h0M609.4 232.5h0M607.0 148.4h0M606.0 190.9h0M606.1 216.8h0M598.6 173.5h0M616.3 233.6h0M620.2 170.3h0M615.4 225.8h0M584.1 166.1h0M583.7 193.4h0M579.5 235.0h0M611.0 203.8h0M616.2 203.7h0M591.1 159.9h0M585.8 185.8h0M577.7 181.4h0M589.6 174.1h0M611.4 203.9h0M588.3 184.4h0M580.7 231.3h0M604.2 232.3h0M602.4 226.9h0M606.5 208.2h0M579.3 209.3h0M622.9 156.7h0M584.9 216.4h0M611.9 222.0h0M608.5 192.1h0M596.7 237.5h0M587.5 202.9h0M603.1 212.2h0M581.3 223.7h0M588.5 226.6h0M597.0 193.3h0M599.3 225.6h0M612.4 227.2h0M580.6 231.9h0M615.7 205.7h0M579.1 218.9h0M583.0 196.9h0M600.6 231.2h0M595.3 231.4h0M597.1 209.8h0M616.3 216.6h0M596.9 222.1h0M618.6 212.3h0M593.2 243.2h0M618.6 220.7h0M596.2 227.3h0M599.4 253.4h0M591.9 181.3h0M579.8 222.6h0M588.3 230.7h0M580.9 207.4h0M603.2 184.3h0M588.5 218.8h0M586.3 189.4h0M612.1 199.6h0M586.6 184.4h0M610.3 202.7h0M607.6 181.3h0M580.8 172.8h0M598.9 227.5h0M581.9 201.2h0M579.5 214.5h0M588.6 192.6h0M618.1 235.2h0M600.2 192.6h0M582.6 209.0h0M609.5 200.8h0M605.2 188.1h0M590.6 177.5h0M618.6 187.1h0M583.4 237.7h0M606.4 236.1h0M588.5 195.6h0M618.7 156.4h0M591.8 226.1h0M594.2 217.0h0M596.0 220.7h0M581.7 190.5h0M614.5 244.3h0M609.8 207.4h0M593.1 240.8h0M580.5 218.5h0M609.4 229.5h0M599.1 183.6h0M586.9 184.5h0M582.7 189.4h0M580.8 225.7h0M613.6 188.8h0M606.4 210.4h0M587.4 203.6h0M586.2 220.4h0M610.0 216.8h0M621.3 177.0h0M609.9 186.8h0M596.2 230.2h0M582.0 209.1h0M609.8 224.5h0M597.2 198.3h0M579.9 228.8h0M612.3 224.7h0M588.4 230.9h0M609.4 181.8h0M599.9 204.4h0M577.5 224.2h0M583.0 202.3h0M595.7 131.3h0M591.8 193.4h0M593.3 210.2h0M617.4 195.4h0M603.8 183.5h0M582.3 190.3h0M594.4 189.4h0M591.6 213.3h0M614.0 174.2h0M584.7 215.9h0M591.5 223.4h0M581.3 191.2h0M589.0 223.6h0M592.3 190.4h0M585.7 219.4h0M586.8 213.5h0M598.3 205.9h0M594.0 215.0h0M580.6 236.2h0M594.5 197.1h0M585.1 186.9h0M606.2 223.9h0M593.3 228.1h0M613.7 199.5h0M590.6 195.8h0M607.3 240.2h0M592.7 208.9h0M599.3 194.9h0M587.3 194.1h0M587.5 190.8h0M612.2 186.1h0M608.0 200.1h0M584.5 228.9h0M608.1 187.5h0M589.8 213.1h0M605.8 185.1h0M614.8 187.2h0M598.9 224.0h0M582.3 201.3h0M585.0 237.4h0M581.0 193.2h0M587.9 191.2h0M592.5 208.7h0M593.0 208.6h0M590.5 208.4h0M620.7 189.4h0M604.4 197.0h0M577.8 208.1h0M586.1 228.0h0M581.3 217.0h0M599.2 221.2h0M605.2 254.0h0M580.5 208.4h0M596.4 209.9h0M593.0 188.1h0M592.4 198.6h0M591.7 243.6h0M590.5 199.3h0M598.3 185.9h0M580.3 224.6h0M593.4 221.1h0M617.7 220.8h0M579.0 199.9h0M581.0 206.0h0M617.7 202.0h0M601.7 203.6h0M603.0 224.8h0M579.0 227.4h0M586.9 235.7h0M589.4 227.2h0M599.0 206.1h0M589.7 250.1h0M622.9 162.4h0M606.9 214.6h0M581.7 192.7h0M604.0 100.2h0M585.5 224.5h0M622.7 179.0h0M613.4 202.4h0M590.6 191.5h0M604.3 237.3h0M581.9 188.4h0M604.3 211.8h0M612.5 191.1h0M601.5 198.7h0M616.1 214.9h0M593.2 226.0h0M616.4 214.4h0M609.0 167.3h0M619.0 188.7h0M608.6 208.3h0M582.7 196.3h0M587.3 203.8h0M591.7 172.3h0M587.9 229.0h0M605.8 225.3h0M581.8 217.1h0M588.8 200.7h0M605.7 194.8h0M584.6 207.7h0M591.4 191.6h0M610.6 216.2h0M613.5 211.4h0M579.1 239.8h0M597.0 194.7h0M578.6 200.3h0M585.2 211.5h0M613.1 198.8h0M612.4 241.8h0M600.8 239.9h0M580.9 241.6h0M593.3 205.8h0M582.0 218.0h0M581.2 239.5h0M582.3 234.9h0M612.4 212.6h0M581.0 236.0h0M580.0 218.6h0M588.0 237.6h0M583.6 231.5h0M577.4 204.9h0M579.7 214.9h0M586.0 225.8h0M582.7 202.8h0M600.2 198.9h0M593.4 204.7h0M595.5 238.3h0M582.1 186.4h0M599.3 203.5h0M591.1 230.5h0M579.0 182.7h0M579.2 207.9h0M578.5 202.1h0M589.9 241.2h0M611.3 218.8h0M598.2 228.0h0M607.0 201.3h0M587.8 222.0h0M600.5 204.5h0M596.0 217.2h0M579.4 220.3h0M598.0 208.5h0M584.6 180.0h0M615.0 200.4h0M576.7 222.3h0M596.0 188.2h0M604.7 236.7h0M601.4 227.9h0M601.1 208.5h0M603.1 184.6h0M577.4 152.9h0M587.9 216.7h0M593.9 222.5h0M607.7 225.8h0M596.1 211.6h0M605.2 216.0h0M596.0 229.4h0M607.4 195.6h0M603.8 213.0h0M585.4 210.2h0M607.4 236.5h0M586.1 199.0h0M590.0 218.1h0M585.4 219.1h0M596.3 231.2h0M578.8 189.5h0M600.1 209.7h0M612.0 211.9h0M595.0 224.7h0M615.1 212.7h0M591.4 203.0h0M605.7 221.8h0M584.0 197.7h0M592.4 212.3h0M576.6 136.5h0M596.4 234.2h0M590.3 203.7h0M591.7 214.4h0M611.4 230.2h0M614.4 191.7h0M589.6 220.8h0M592.5 230.9h0M579.3 207.2h0M592.1 208.0h0M614.7 214.9h0M598.9 228.0h0M583.0 185.6h0M582.4 203.7h0M595.0 216.0h0M582.4 215.6h0"/>
<path stroke="#c7e9c0" d="M622.0 212.8h0M627.8 208.2h0M619.7 202.0h0M613.9 182.8h0M627.4 164.8h0M611.9 237.7h0M625.4 204.6h0M623.0 243.1h0M612.6 218.5h0M628.3 187.8h0M652.5 203.3h0M629.5 194.6h0M630.3 216.6h0M630.7 178.5h0M639.4 229.2h0M648.5 224.9h0M631.2 215.1h0M637.2 238.8h0M613.1 207.3h0M623.2 209.0h0M608.4 233.3h0M632.7 194.2h0M625.0 228.9h0M612.8 223.1h0M654.6 190.3h0M624.5 200.3h0M619.5 195.0h0M608.4 239.2h0M621.6 209.2h0M617.0 239.9h0M610.9 228.9h0M621.8 203.4h0M644.8 200.2h0M623.8 235.4h0M626.9 236.1h0M610.0 210.5h0M634.2 213.4h0M618.7 242.9h0M634.3 217.9h0M630.1 224.1h0M630.4 232.1h0M618.4 223.8h0M629.4 222.8h0M641.8 213.5h0M652.1 222.0h0M618.8 193.0h0M622.9 177.8h0M654.6 226.8h0M641.6 229.8h0M624.1 203.8h0M616.3 201.5h0M609.1 237.1h0M646.8 168.0h0M614.1 216.0h0M621.0 239.7h0M616.7 168.6h0M617.3 230.4h0M612.2 185.7h0M608.7 270.8h0M608.6 224.7h0M641.3 213.9h0M626.1 212.4h0M650.0 219.2h0M629.9 230.8h0M638.5 224.9h0M646.7 197.3h0M616.3 194.0h0M610.7 195.1h0M619.1 201.1h0M640.4 215.2h0M623.8 225.0h0M613.9 224.8h0M613.0 223.0h0M611.1 219.4h0M616.0 234.8h0M607.7 228.5h0M623.8 202.1h0M627.7 196.4h0M613.3 220.0h0M630.1 205.7h0M645.1 220.1h0M632.8 214.1h0M624.9 218.3h0M640.1 201.1h0M615.8 227.3h0M621.4 216.1h0M620.2 190.9h0M614.3 222.4h0M629.0 197.8h0M612.6 218.7h0M619.8 197.3h0M660.5 208.7h0M621.9 221.5h0M637.4 242.0h0M608.9 210.7h0M661.8 225.8h0M645.6 208.2h0M643.4 227.0h0M632.2 237.9h0M626.8 207.6h0M608.3 220.2h0M612.4 180.7h0M622.8 236.8h0M620.9 214.9h0M657.8 206.5h0M618.8 235.8h0M612.3 213.3h0M635.2 213.0h0M633.0 244.3h0M625.6 217.9h0M610.4 214.3h0M619.2 206.5h0M645.2 209.8h0M608.3 203.1h0M612.0 239.8h0M617.3 242.1h0M633.5 199.3h0M623.2 227.2h0M635.3 187.6h0M622.0 223.2h0M660.1 211.3h0M630.0 183.4h0M624.2 226.2h0M608.6 194.9h0M609.0 215.0h0M618.2 210.6h0M619.6 233.2h0M641.1 209.8h0M609.7 191.4h0M618.2 220.7h0M625.4 166.7h0M619.6 207.9h0M649.7 225.8h0M646.5 178.9h0M630.4 231.2h0M622.2 252.9h0M613.8 228.0h0M612.3 231.7h0M660.3 199.6h0M616.4 213.3h0M619.0 205.6h0M620.9 245.2h0M609.1 232.0h0M633.0 203.4h0M639.8 244.2h0M608.2 236.3h0M609.6 213.4h0M623.4 208.4h0M628.6 220.1h0M634.2 204.1h0M611.8 200.3h0M629.9 197.3h0M612.4 211.6h0M619.4 218.9h0M630.6 193.9h0M613.9 193.8h0M614.1 212.5h0M658.8 215.0h0M609.1 211.0h0M654.6 195.1h0M618.6 225.0h0M614.0 234.2h0M646.5 202.5h0M645.6 219.2h0M608.9 199.8h0M645.3 233.1h0M619.4 217.2h0M627.6 209.4h0M633.1 175.0h0M613.0 189.5h0M630.9 190.4h0M616.5 190.8h0M627.6 228.3h0M615.7 207.1h0M632.9 226.0h0M632.7 222.9h0M627.7 192.2h0M642.7 210.4h0M608.2 217.4h0M638.3 219.9h0M639.4 238.2h0M620.2 229.6h0M626.5 224.7h0M621.2 197.9h0M641.1 239.8h0M617.5 206.8h0M641.4 194.0h0M659.9 212.3h0M619.4 204.2h0M629.2 203.5h0M628.1 205.0h0M634.3 204.4h0M616.4 233.4h0M626.7 216.1h0M623.4 234.7h0M636.1 220.7h0M655.2 233.1h0M649.5 232.1h0M615.9 219.8h0M631.6 233.2h0M651.0 223.2h0M625.3 194.8h0M631.0 166.4h0M609.2 229.4h0M641.6 217.0h0M656.1 198.9h0M616.7 181.7h0M609.0 170.4h0M610.5 198.6h0M641.2 201.7h0M615.6 215.8h0M624.7 203.5h0M615.5 185.7h0M645.1 225.6h0M625.2 204.2h0M611.4 231.3h0M615.1 209.0h0M625.8 192.5h0M636.5 178.6h0M615.8 239.4h0M609.0 239.0h0M638.3 221.2h0M641.0 230.3h0M625.4 196.1h0M631.0 231.8h0M621.5 127.0h0M624.0 225.0h0M609.7 196.8h0M633.3 191.4h0M610.0 220.4h0M625.7 230.9h0M634.3 198.9h0M611.7 214.6h0M616.6 203.8h0M619.4 221.9h0M616.5 189.0h0M643.0 233.6h0M629.0 201.7h0M617.3 201.0h0M613.1 193.3h0M608.9 199.0h0M635.5 241.9h0M610.5 238.7h0M620.2 185.8h0M643.7 184.9h0M610.1 240.1h0M628.7 239.0h0M623.1 183.8h0M613.3 205.2h0M643.7 218.3h0M609.8 209.6h0M609.6 227.8h0M617.7 179.4h0M617.0 241.2h0M611.1 206.4h0M628.5 229.6h0M618.9 175.8h0M635.2 201.1h0M641.4 216.6h0M661.1 177.5h0M614.6 221.7h0M614.6 239.0h0M615.2 201.2h0M613.1 217.7h0M626.5 213.7h0M642.6 247.0h0M639.0 208.3h0M630.0 214.6h0M646.6 215.6h0M633.7 201.9h0M634.8 203.4h0M629.4 197.9h0M641.0 195.3h0M610.2 219.9h0M641.5 207.2h0M637.0 193.7h0M617.0 240.1h0M618.5 228.7h0M631.1 188.2h0M640.1 230.2h0M652.3 207.5h0M636.6 225.3h0M640.0 217.0h0M609.0 241.8h0M632.8 207.7h0M625.4 199.3h0M626.8 209.2h0M662.7 143.1h0M632.2 214.5h0M659.3 201.0h0M610.0 185.0h0M648.1 165.2h0M656.8 188.1h0M622.3 208.1h0M626.4 243.0h0M613.3 214.0h0M614.0 233.4h0M611.9 210.3h0M654.8 204.4h0M631.7 206.8h0M626.0 192.5h0M616.0 196.8h0M613.4 205.6h0M631.2 175.0h0M621.5 214.8h0M635.4 211.7h0M617.0 203.1h0M610.2 193.2h0M618.5 182.5h0M647.0 203.6h0M627.6 233.2h0M657.9 216.1h0M617.2 232.2h0M618.7 221.6h0M638.1 219.9h0M654.3 198.9h0M618.8 196.5h0M637.0 240.7h0M609.3 235.8h0M633.5 229.7h0M615.3 226.3h0M628.2 235.2h0M611.4 200.2h0M620.5 200.7h0M616.3 214.4h0M628.6 207.9h0M628.3 186.7h0M610.2 210.3h0M608.9 213.4h0M611.2 234.9h0M631.3 189.2h0M636.7 171.3h0M632.7 210.5h0M612.7 223.6h0M630.9 187.9h0M615.5 199.6h0M608.9 208.8h0M643.7 203.2h0M630.8 264.7h0M615.5 209.0h0M626.5 220.0h0M630.1 237.4h0M608.0 231.6h0M622.3 234.6h0M613.5 225.8h0M621.4 213.3h0M631.5 225.3h0M652.2 237.7h0M639.3 222.7h0M614.2 239.5h0M618.8 199.4h0M634.1 218.8h0M612.6 199.5h0M657.4 209.0h0M641.5 253.4h0M615.9 196.2h0M619.5 222.8h0M619.4 204.0h0M623.6 219.1h0M628.9 228.5h0M617.6 226.6h0M631.6 209.5h0M608.1 179.4h0M631.5 210.1h0M646.6 223.2h0M624.8 233.1h0M642.9 210.1h0M617.0 199.9h0M609.4 205.8h0M621.8 196.2h0M623.6 211.7h0M627.7 190.4h0M612.8 210.0h0M653.0 219.0h0M618.1 269.2h0M621.2 227.4h0M615.6 208.2h0M635.9 231.8h0M637.8 261.1h0M634.0 233.5h0M626.1 205.9h0M609.8 195.4h0M613.2 235.7h0M627.3 178.9h0M637.6 230.4h0M633.6 213.1h0M641.1 217.1h0M618.3 222.7h0M633.5 197.4h0M618.5 206.3h0M637.1 209.6h0M648.1 226.7h0M616.0 222.5h0M644.5 203.2h0M628.3 202.5h0M647.7 213.5h0M629.6 216.5h0M613.5 222.8h0M638.3 214.8h0M622.2 201.5h0M618.4 238.0h0M637.7 202.3h0M639.0 202.4h0M617.6 214.0h0M618.8 250.2h0M619.7 228.1h0M619.2 195.3h0M628.5 193.7h0M614.0 214.0h0M625.4 198.2h0M612.9 181.7h0M617.0 225.5h0M622.6 210.0h0M625.4 219.9h0M626.9 195.6h0M628.2 196.6h0M635.9 230.7h0M624.9 197.8h0M611.2 172.1h0M607.9 260.4h0M611.7 141.1h0M610.1 221.2h0M634.0 183.9h0M645.1 259.0h0M636.0 251.7h0M634.3 208.3h0M623.3 211.0h0M649.2 191.7h0M634.8 199.6h0M618.5 233.5h0M642.9 195.1h0M610.5 212.6h0M611.9 238.6h0M613.6 193.2h0M630.2 220.9h0M620.2 191.9h0M639.9 204.5h0M615.3 220.4h0M651.8 206.1h0M620.8 227.2h0M657.0 182.8h0M638.6 202.3h0M610.5 189.5h0M657.7 196.3h0M620.3 219.3h0M657.7 213.2h0M641.5 223.5h0M610.7 217.3h0M629.8 196.7h0M626.0 223.8h0M645.9 201.0h0M610.3 194.5h0M645.9 190.4h0M632.6 196.0h0M626.1 230.3h0M659.5 187.9h0M625.0 197.7h0M627.0 222.2h0M628.1 201.3h0M614.0 211.9h0M640.3 217.7h0M618.0 227.4h0M640.3 153.1h0M610.7 235.5h0M630.9 233.1h0M614.3 224.5h0M632.9 237.8h0M614.4 224.7h0M617.4 185.1h0M609.6 229.3h0M623.8 238.1h0M624.6 225.8h0M637.6 189.0h0M615.2 204.3h0M610.6 192.0h0M624.5 198.5h0M639.3 198.0h0M650.5 233.5h0M628.4 249.0h0M616.3 194.3h0M642.3 194.4h0M608.0 214.0h0M610.9 214.9h0M617.6 235.0h0M645.5 213.9h0M626.2 235.0h0M611.3 218.1h0M632.6 215.4h0M607.8 204.7h0M608.2 186.7h0M631.0 217.0h0M623.7 237.2h0M612.1 205.4h0M608.7 229.3h0M612.5 196.8h0M625.2 226.8h0M632.0 238.9h0M613.9 237.5h0M638.1 237.0h0M660.3 202.2h0M617.8 218.9h0M632.5 206.1h0M611.9 215.5h0M636.0 196.4h0M621.1 235.3h0M646.7 227.3h0M614.8 226.9h0M649.2 207.7h0M633.7 206.2h0M611.3 187.7h0M650.9 219.1h0M612.5 237.3h0M635.5 192.4h0M631.8 211.5h0M628.9 220.7h0M615.5 223.3h0M627.5 199.8h0M612.1 211.9h0M625.2 211.9h0M639.0 188.2h0M634.1 226.2h0M614.7 229.1h0M650.5 215.9h0M639.1 192.3h0M618.3 217.8h0M614.7 210.7h0M624.0 249.5h0M626.1 204.0h0M617.2 195.7h0M608.0 268.3h0M618.4 188.3h0M631.5 194.1h0M614.4 207.2h0M628.2 223.5h0M617.1 208.2h0M613.4 226.7h0M639.4 219.0h0M616.1 206.6h0M646.0 230.4h0M617.7 242.1h0M650.1 205.8h0M610.9 214.0h0M626.8 208.9h0M625.5 220.6h0M641.0 236.2h0M621.8 195.4h0M619.0 223.0h0M608.4 213.7h0M608.9 226.6h0M628.3 196.2h0M622.2 229.9h0M654.2 225.5h0M641.1 199.0h0M610.4 221.1h0M620.8 219.3h0M625.9 236.0h0M633.0 209.0h0M617.8 200.5h0M658.9 223.9h0M608.2 140.6h0M637.3 198.5h0M621.2 194.1h0M640.0 217.0h0M632.3 191.1h0M652.6 235.0h0M640.4 252.0h0M629.4 205.6h0M622.7 219.6h0M612.3 253.3h0M621.0 216.9h0M654.5 220.5h0M611.4 225.8h0M638.3 195.5h0M631.2 202.8h0M608.3 211.5h0M625.5 217.3h0M655.8 195.3h0M611.2 202.0h0M619.2 221.8h0M630.3 219.6h0M618.6 227.8h0M623.4 194.6h0M644.2 202.9h0M649.3 194.3h0M627.3 224.1h0M612.2 194.7h0M613.2 238.3h0M617.9 231.2h0M631.9 217.5h0M651.2 218.3h0M616.4 199.6h0M614.6 217.3h0M647.4 216.2h0M618.2 198.4h0M611.5 210.7h0M651.3 206.2h0M624.4 241.7h0M635.1 200.1h0M627.2 233.0h0M607.8 239.8h0M611.2 218.4h0M620.9 202.9h0M619.5 230.5h0M609.3 200.5h0M642.3 234.7h0M611.9 212.0h0M608.5 199.4h0M620.9 190.8h0M614.0 227.1h0M613.6 199.2h0M623.8 255.9h0M629.1 214.1h0M634.4 215.8h0M641.7 221.1h0M613.9 218.2h0M625.5 204.0h0M629.2 192.4h0M640.1 245.8h0M631.0 204.2h0M617.7 220.1h0M613.7 216.4h0M618.2 129.2h0M612.5 225.1h0M618.8 247.3h0M623.3 209.3h0M627.6 257.1h0M619.9 220.1h0M609.9 209.7h0M616.7 226.0h0M640.6 193.7h0M619.8 208.1h0M623.2 251.3h0M636.6 199.1h0M638.5 240.7h0M640.4 228.7h0M617.3 192.4h0M611.5 206.2h0M619.5 192.8h0M609.2 196.2h0M626.6 193.7h0M608.0 200.3h0M618.6 199.8h0M660.4 215.0h0M659.5 199.7h0M624.0 186.2h0M619.0 218.6h0M624.8 206.5h0M646.8 237.7h0M615.8 210.4h0M616.4 206.5h0M642.0 222.0h0M628.2 194.1h0M615.7 233.5h0M609.6 222.2h0M608.1 238.1h0M625.3 224.1h0M620.2 192.6h0M611.9 220.5h0M618.3 210.9h0M608.6 198.9h0M631.6 195.6h0M632.5 203.4h0M648.5 238.5h0M621.8 158.3h0M617.0 238.3h0M608.1 219.3h0M625.6 206.4h0M635.3 211.1h0M614.7 227.7h0M640.2 206.3h0M612.4 219.5h0M647.6 180.2h0M648.0 213.0h0M653.9 141.3h0M627.7 214.0h0M643.8 225.0h0M612.4 214.2h0M631.4 246.1h0M615.6 208.2h0M632.0 195.9h0M639.6 229.3h0M607.9 222.6h0M613.9 195.1h0M627.9 241.2h0M631.2 205.9h0M611.4 213.9h0M633.8 209.7h0M608.8 194.1h0M614.2 209.3h0M611.1 221.5h0M611.2 233.6h0M632.0 219.3h0M632.8 187.9h0M631.8 199.5h0M633.2 207.5h0M646.6 207.3h0M617.4 213.9h0M623.3 206.0h0M620.5 207.2h0M616.3 226.0h0M637.5 238.2h0M620.3 231.4h0M631.5 197.8h0M615.2 211.9h0M622.8 202.5h0M610.1 236.0h0M655.6 222.3h0M615.5 226.7h0M612.9 207.0h0M640.3 215.1h0M627.2 232.9h0M614.4 201.4h0M631.2 257.1h0M640.9 220.1h0M639.1 241.4h0M614.2 146.2h0M631.9 215.5h0M640.6 224.4h0M614.8 247.4h0M613.7 191.7h0M622.6 193.1h0M622.8 203.4h0M666.3 215.3h0M618.0 209.4h0M610.1 193.2h0M609.1 203.1h0M609.6 213.0h0M630.1 201.3h0M620.7 225.8h0M623.8 216.0h0M619.1 239.8h0M647.1 221.6h0M645.3 181.4h0M612.7 214.3h0M641.1 193.9h0M613.0 228.1h0M634.1 234.6h0M641.1 186.2h0M608.7 237.2h0M620.4 219.4h0M630.2 209.8h0M611.0 195.7h0M636.7 195.7h0M653.9 162.5h0M652.7 241.7h0M615.1 200.7h0M626.7 211.7h0M612.2 225.8h0M625.3 209.1h0M631.5 197.5h0M648.4 212.8h0M619.9 211.8h0M643.9 199.6h0M616.8 193.2h0M612.1 216.4h0M608.4 220.4h0M622.9 212.4h0M617.2 216.4h0M633.3 195.5h0M625.9 231.0h0M623.8 224.8h0M619.9 191.7h0M632.3 217.7h0M621.9 237.0h0M625.1 187.6h0M629.5 192.9h0M637.7 184.8h0M616.6 199.6h0M619.9 194.4h0M647.7 216.6h0M627.1 193.3h0M658.9 135.2h0M620.8 219.5h0M630.3 228.8h0M609.2 234.6h0M613.6 188.5h0M632.2 208.6h0M611.4 234.7h0M617.1 208.1h0M615.0 246.7h0M622.3 226.6h0M613.1 221.2h0M614.8 217.9h0M619.0 227.4h0M612.0 199.5h0M630.5 190.0h0M630.7 161.4h0M626.2 197.5h0M642.8 239.1h0M609.9 184.1h0M634.0 221.1h0M643.3 188.2h0M656.8 202.1h0M613.8 239.3h0M614.6 219.2h0M629.6 222.2h0M635.4 189.4h0M627.9 209.9h0M620.4 189.2h0M644.6 235.2h0M626.0 213.5h0M636.6 174.2h0M631.6 211.6h0M644.3 236.6h0M638.2 216.7h0M630.6 198.5h0M635.4 199.9h0M617.8 199.2h0M636.2 211.0h0M650.4 226.2h0M626.4 205.2h0M622.9 194.5h0M633.5 233.8h0M648.5 194.4h0M646.8 252.1h0M662.9 212.3h0M610.0 236.8h0M619.5 233.8h0M615.7 230.4h0M621.6 238.4h0M625.0 204.2h0M617.0 197.4h0M618.3 218.5h0M611.0 236.6h0M623.1 238.6h0M628.3 192.4h0M619.9 169.1h0M615.0 244.0h0M617.8 203.1h0M616.6 193.6h0M625.7 194.6h0M613.8 243.1h0M627.4 261.6h0M613.0 236.5h0M616.2 196.3h0M648.3 249.1h0M645.2 204.8h0M613.4 216.3h0M629.3 203.9h0M627.2 200.8h0M611.7 231.4h0M621.3 216.5h0M623.0 200.1h0M626.7 218.2h0M647.3 212.0h0M612.1 214.8h0M614.4 222.0h0M628.2 219.5h0M651.1 239.8h0M624.2 229.6h0M647.7 209.7h0M648.3 209.0h0M630.6 161.9h0M613.3 223.1h0M632.7 222.9h0M618.2 198.8h0M660.2 205.1h0M632.7 201.8h0M623.3 216.7h0M640.9 211.5h0M616.6 213.8h0M611.2 228.7h0M613.4 248.9h0M630.9 209.8h0M624.0 213.2h0M613.1 208.3h0M630.9 173.9h0M655.6 222.4h0M637.7 219.4h0M609.4 207.4h0M639.8 192.9h0M614.2 205.2h0M628.3 183.1h0M625.4 209.0h0M651.6 186.2h0M616.9 192.9h0M618.8 185.9h0M614.6 221.1h0M613.1 213.4h0M642.6 209.1h0M608.9 203.7h0M618.1 198.3h0M615.7 190.4h0M617.3 239.5h0M642.3 185.8h0M621.8 209.2h0M623.7 154.0h0M612.1 238.8h0M657.1 212.6h0M614.4 208.1h0M611.1 174.5h0M629.8 220.2h0M623.0 213.0h0M610.7 191.0h0M635.7 216.2h0M622.9 162.0h0M633.0 195.0h0M618.3 208.0h0M636.2 215.6h0M632.6 194.0h0M628.2 223.9h0M638.8 208.5h0M627.2 137.9h0M612.1 186.5h0M607.9 273.7h0M620.6 225.8h0M643.0 208.9h0M626.3 212.1h0M653.3 236.4h0M607.9 205.6h0M610.8 193.0h0M614.7 210.1h0M612.3 182.1h0M620.4 239.0h0M621.2 198.0h0M617.0 237.1h0M613.8 232.8h0M608.7 192.7h0M614.8 213.0h0M646.4 202.2h0M607.7 205.9h0M649.9 257.9h0M607.9 227.9h0M616.6 193.5h0M624.2 203.6h0M636.5 190.7h0M612.4 216.3h0M609.4 191.9h0M613.6 232.5h0M610.5 191.3h0M643.7 205.1h0M622.0 196.6h0M638.6 231.3h0M612.4 228.9h0M629.2 234.1h0M615.6 194.5h0M662.5 217.6h0M646.5 209.2h0M620.2 225.2h0M627.3 221.2h0M612.1 233.2h0M613.4 222.9h0M644.0 216.9h0M616.9 195.5h0M643.2 225.8h0M648.4 231.2h0M617.7 200.4h0M634.8 233.2h0M641.5 224.9h0M633.8 216.6h0M618.1 198.5h0M638.3 206.2h0M610.1 197.0h0M611.6 221.4h0M642.4 208.4h0M659.4 243.0h0M630.2 230.9h0M628.8 178.3h0M610.6 222.3h0M645.3 239.5h0M609.5 221.8h0M636.3 227.7h0M625.5 253.1h0M651.5 197.6h0M614.9 219.9h0M634.8 215.2h0M610.1 241.3h0M619.3 191.9h0M638.6 236.0h0M613.0 213.9h0M609.6 244.7h0M613.9 226.8h0M618.9 207.5h0M639.6 232.6h0M625.3 200.7h0M639.2 228.2h0M654.3 187.8h0M613.7 197.9h0M626.5 207.1h0M646.6 227.2h0M621.9 164.3h0M637.2 192.0h0M630.5 207.5h0M655.3 231.1h0M642.0 205.1h0M618.6 190.1h0M630.7 219.5h0M637.7 240.3h0M630.4 205.5h0M619.1 216.6h0M618.9 198.8h0M621.0 235.2h0M639.9 198.8h0M636.0 191.6h0M619.4 214.2h0M612.7 224.5h0M641.3 244.3h0M642.5 219.8h0M616.8 208.5h0M622.6 199.1h0M621.9 234.3h0M645.6 222.2h0M628.1 210.3h0M630.1 199.4h0M645.0 222.2h0M635.3 195.8h0M620.4 208.4h0M609.4 189.4h0M622.7 171.8h0M636.2 215.5h0M632.9 173.5h0M614.6 217.2h0M626.6 230.9h0M614.5 232.4h0M611.9 226.2h0M639.4 210.2h0M635.7 221.6h0M612.5 224.1h0M629.5 205.0h0M634.5 216.6h0M625.9 159.2h0M611.9 203.9h0M629.1 199.1h0M627.2 193.2h0M638.6 201.8h0M646.2 139.7h0M621.0 201.0h0M609.0 203.5h0M607.8 195.5h0M613.0 232.9h0M645.1 207.4h0M625.7 215.2h0M635.6 258.1h0M614.4 185.6h0M626.2 125.3h0M614.7 196.0h0M638.1 211.0h0M617.3 225.1h0M621.1 196.1h0M652.7 217.7h0M644.1 188.5h0M644.3 188.9h0M633.4 273.8h0M624.7 228.7h0M636.5 236.0h0M633.3 254.0h0M626.8 195.4h0M625.9 210.5h0M656.1 224.2h0M614.8 260.6h0M635.6 205.4h0M614.5 208.6h0M613.7 214.1h0M660.9 206.9h0M614.7 210.0h0M614.8 194.2h0M624.7 225.6h0M612.6 233.6h0M608.3 220.9h0M608.3 233.1h0M616.3 217.7h0M620.2 198.6h0M609.1 224.4h0M619.5 195.2h0M647.5 206.2h0M638.7 224.5h0M640.6 209.7h0M618.8 196.4h0M608.4 230.9h0M661.9 206.2h0M613.8 185.2h0M626.2 215.8h0M627.4 214.2h0M633.1 238.9h0M619.1 205.6h0M614.5 236.7h0M634.6 213.3h0M622.7 254.0h0M621.4 226.3h0M615.4 206.4h0M610.3 216.9h0M609.3 196.3h0M613.7 204.2h0M648.4 217.7h0M641.3 232.0h0M623.0 218.9h0M630.3 202.5h0M625.0 219.0h0M640.1 201.6h0M638.4 210.1h0M616.6 243.4h0M620.0 202.2h0M629.6 206.6h0M617.9 218.1h0M624.3 238.8h0M644.7 205.3h0M637.6 209.6h0M630.2 224.8h0M632.4 216.4h0M624.0 201.8h0M610.4 210.1h0M635.1 198.2h0M637.1 224.2h0M636.3 194.2h0M629.2 210.7h0M617.5 224.5h0M639.4 203.6h0M633.3 238.1h0M626.5 184.4h0M612.0 223.2h0M629.7 196.6h0M630.1 224.0h0M623.2 201.6h0M610.0 203.3h0M630.3 237.8h0M621.4 243.9h0M628.7 231.9h0M631.2 227.6h0M623.5 186.4h0M626.7 214.6h0M653.8 216.2h0M614.9 228.1h0M644.8 240.5h0M619.0 233.1h0M638.4 221.8h0M620.3 203.6h0M646.0 245.7h0M609.5 205.9h0M613.3 207.8h0M613.9 216.6h0M645.7 212.9h0M635.2 223.3h0M618.0 210.8h0M618.1 219.1h0M647.4 222.7h0M628.8 218.6h0M628.5 233.0h0M615.7 199.8h0M614.0 228.8h0M616.5 211.7h0M611.8 249.0h0M633.6 238.0h0M652.2 193.9h0M612.0 205.8h0M627.0 219.4h0M640.6 206.1h0M618.9 213.1h0M658.3 213.0h0M617.4 218.3h0M617.2 214.0h0M621.9 210.2h0M620.7 202.4h0M658.2 201.2h0M637.1 221.6h0M642.0 229.7h0M620.3 237.7h0M643.4 188.8h0M620.2 223.1h0M616.8 188.2h0M615.2 215.0h0M622.1 216.9h0M624.1 248.2h0M645.9 123.3h0M613.8 215.1h0M625.8 203.9h0M621.0 232.0h0M641.0 192.3h0M638.2 237.1h0M631.6 231.5h0M609.5 194.7h0M643.5 232.0h0M652.1 237.7h0M628.6 214.5h0M639.1 221.4h0M612.6 218.6h0M623.1 211.4h0M631.4 232.2h0M627.3 263.1h0M607.9 198.2h0M613.2 207.6h0M626.1 213.8h0M613.7 223.0h0M658.1 184.8h0M622.4 209.5h0M621.4 235.5h0M612.5 189.7h0M624.8 205.1h0M617.5 205.7h0M623.5 196.9h0M639.7 218.8h0M609.2 239.1h0M640.4 217.2h0M615.4 200.6h0M615.4 234.6h0M613.2 203.7h0M614.8 195.6h0M647.3 221.2h0M629.3 248.3h0M613.7 210.4h0M621.7 245.5h0M639.5 211.5h0M641.6 219.0h0M641.6 231.1h0M644.4 216.6h0M632.3 184.4h0M624.5 213.2h0M650.1 230.7h0M633.8 235.4h0M621.4 242.0h0M634.7 222.7h0M615.6 226.4h0M633.0 216.2h0M616.6 222.0h0M625.6 230.6h0M624.5 224.5h0M611.4 213.0h0M632.1 223.6h0M618.5 204.5h0M654.4 192.3h0M612.4 210.0h0M650.0 215.7h0M614.7 203.4h0M643.2 213.4h0M635.2 213.2h0M617.0 221.6h0M617.9 198.0h0M614.2 253.3h0M614.7 236.1h0M624.8 185.5h0M622.1 195.4h0M624.6 238.6h0M612.0 192.2h0M627.7 233.3h0M645.7 226.1h0M617.7 205.7h0M628.4 213.6h0M617.1 198.3h0M614.5 231.7h0M638.9 193.5h0M638.2 204.3h0M637.5 217.6h0M628.5 168.9h0M624.7 219.2h0M628.2 202.3h0M615.0 215.9h0M628.6 205.3h0M626.6 204.9h0M613.1 199.5h0M628.5 201.5h0M610.0 213.9h0M629.8 217.3h0M639.4 141.1h0M623.4 189.0h0M618.9 205.3h0M618.7 229.4h0M630.2 264.1h0M615.9 215.9h0M626.7 227.4h0M625.6 189.0h0M612.1 209.0h0M613.5 249.7h0M616.9 215.5h0M628.8 209.5h0M612.2 228.4h0M644.9 240.8h0M622.6 203.8h0M620.8 136.7h0M650.0 191.0h0M608.2 203.9h0M634.1 187.4h0M620.1 233.4h0M610.2 222.7h0M610.0 197.9h0M623.3 204.3h0M608.6 202.9h0M609.4 190.0h0M608.5 213.2h0M625.2 200.0h0M659.4 198.4h0M640.4 194.5h0M612.8 180.0h0M611.5 220.2h0M647.0 200.5h0M618.3 239.4h0M622.4 161.6h0M616.5 231.9h0M646.4 228.0h0M653.9 210.4h0M656.3 216.1h0M651.4 235.9h0M620.2 236.7h0M650.9 172.0h0M616.6 209.7h0M635.9 233.1h0M632.6 208.7h0M630.8 252.9h0M608.1 213.7h0M640.7 153.4h0M615.6 186.4h0M617.2 218.3h0M653.9 170.9h0M628.4 210.6h0M614.8 178.3h0M614.1 217.4h0M632.7 204.5h0M619.1 202.4h0M638.7 198.1h0M640.2 228.2h0M616.6 200.1h0M640.9 208.9h0M629.0 229.8h0M630.1 253.8h0M636.3 224.8h0M611.0 202.6h0M609.1 239.3h0M617.2 225.5h0M624.3 212.2h0M622.6 235.3h0M624.6 200.3h0M624.5 214.8h0M657.9 219.0h0M616.4 230.1h0M608.3 214.9h0M608.7 202.6h0M647.4 204.2h0M613.7 239.9h0M647.7 214.3h0M623.6 192.3h0M620.7 217.5h0M622.4 206.5h0M627.8 230.4h0M621.2 192.4h0M608.3 217.0h0M614.6 217.5h0M613.8 214.4h0M636.9 165.0h0M634.0 206.7h0M629.1 225.2h0M633.8 215.1h0M656.5 221.7h0M633.3 209.1h0M625.2 236.9h0M626.1 209.1h0M627.9 235.3h0M633.9 217.6h0M653.3 227.9h0M614.4 206.6h0M615.0 205.0h0M607.9 243.1h0M625.2 199.5h0M647.3 203.2h0M621.1 223.9h0M622.0 197.9h0M617.1 226.9h0M611.8 204.3h0M624.6 214.4h0M613.7 247.9h0M619.6 213.1h0M651.9 206.7h0M613.5 226.3h0M613.5 211.1h0M609.5 224.6h0M616.6 225.0h0M607.7 218.7h0M608.1 227.9h0M625.4 198.8h0M612.9 203.4h0M638.5 205.3h0M608.9 200.5h0M632.5 195.2h0M612.3 191.7h0M616.5 218.2h0M627.1 215.7h0M621.1 187.3h0M618.8 186.7h0M627.8 215.2h0M631.2 206.8h0M614.5 223.8h0M645.0 230.7h0M616.5 227.5h0M615.5 203.1h0M620.2 235.8h0M611.2 240.7h0M622.0 208.1h0M607.6 190.0h0M635.4 226.1h0M611.7 222.7h0M650.1 248.2h0M611.5 209.0h0M619.0 216.5h0M635.4 217.0h0M631.1 242.0h0M629.1 202.4h0M632.3 233.1h0M624.0 191.5h0M628.1 208.0h0M614.2 238.8h0M620.4 192.4h0M631.0 232.5h0M625.9 237.3h0M628.2 226.0h0M632.9 193.0h0M611.0 233.2h0M653.9 212.1h0M641.3 201.9h0M609.4 232.4h0M628.9 196.7h0M630.8 201.4h0M618.5 211.1h0M624.5 190.1h0M618.2 223.3h0M611.3 195.3h0M616.2 194.4h0M625.1 238.2h0M625.0 192.6h0M655.7 201.3h0M622.5 245.2h0M626.4 196.3h0M612.7 229.1h0M620.9 229.3h0M609.9 236.1h0M624.6 215.8h0M621.9 203.4h0M608.0 183.9h0M638.4 218.2h0M615.8 233.8h0M657.9 133.2h0M625.3 194.7h0M638.0 237.5h0M627.8 205.2h0M646.3 218.4h0M623.0 188.1h0M618.5 237.8h0M628.2 206.0h0M656.5 223.7h0M619.2 207.5h0M658.4 195.2h0M623.4 219.6h0M660.8 182.3h0M636.6 202.6h0M614.9 228.2h0M649.8 180.0h0M638.8 214.2h0M636.5 206.4h0M623.7 237.8h0M614.5 226.2h0M639.2 198.1h0M619.8 194.5h0M612.8 199.0h0M646.8 190.5h0M617.9 197.1h0M612.7 247.7h0M647.8 238.0h0M619.4 222.7h0M607.6 224.8h0M649.6 194.5h0M620.0 192.0h0M616.9 215.2h0M616.1 202.5h0M650.5 249.9h0M622.8 217.7h0M624.1 238.1h0M630.1 185.4h0M617.4 221.6h0M637.8 206.3h0M611.3 219.8h0M624.3 233.1h0M637.0 240.6h0M621.5 189.7h0M612.8 249.7h0M652.0 219.0h0M627.8 200.1h0M617.2 207.5h0M637.5 246.4h0M616.1 236.5h0M632.8 192.1h0M646.1 203.1h0M629.4 194.5h0"/>
</g>
<circle cx="477.4" cy="160.4" r="5.05" fill="none" stroke="#3182bd" stroke-width="3.3"/>
<circle cx="503.8" cy="154.8" r="5.05" fill="none" stroke="#fd8d3c" stroke-width="3.3"/>
<circle cx="561.9" cy="202.4" r="5.05" fill="none" stroke="#31a354" stroke-width="3.3"/>
<circle cx="593.2" cy="208" r="5.05" fill="none" stroke="#74c476" stroke-width="3.3"/>
<circle cx="621.6" cy="214.3" r="5.05" fill="none" stroke="#a1d99b" stroke-width="3.3"/>
<rect x="409.3" y="15.7" width="274.40000000000003" height="266.8" fill="none" stroke="#333" stroke-width="1.1"/>
<text x="546.4" y="10" font-size="12.5" text-anchor="middle" textLength="147" lengthAdjust="spacingAndGlyphs">Image PIP PCA projection</text>
<text x="546.1" y="297.6" font-size="10.4" text-anchor="middle" textLength="108.7" lengthAdjust="spacingAndGlyphs">Principal component 1</text>
<text transform="translate(400 149.2) rotate(-90)" font-size="10.4" text-anchor="middle" textLength="109" lengthAdjust="spacingAndGlyphs">Principal component 2</text>
<text x="386.5" y="299.4" font-size="16">b</text>
<rect x="583.3" y="20.5" width="95.2" height="74.2" rx="2" fill="#fff" fill-opacity="0.8" stroke="#ccc" stroke-width="0.8"/>
<circle cx="597.6" cy="28.6" r="5.05" fill="none" stroke="#3182bd" stroke-width="3.3"/>
<text x="616" y="31.9" font-size="10.4" textLength="49.1" lengthAdjust="spacingAndGlyphs">Hospital A</text>
<circle cx="597.6" cy="43.0" r="5.05" fill="none" stroke="#fd8d3c" stroke-width="3.3"/>
<text x="616" y="46.3" font-size="10.4" textLength="48.4" lengthAdjust="spacingAndGlyphs">Hospital B</text>
<circle cx="597.6" cy="57.4" r="5.05" fill="none" stroke="#31a354" stroke-width="3.3"/>
<text x="616" y="60.7" font-size="10.4" textLength="58.2" lengthAdjust="spacingAndGlyphs">Hospital C 1</text>
<circle cx="597.6" cy="71.8" r="5.05" fill="none" stroke="#74c476" stroke-width="3.3"/>
<text x="616" y="75.1" font-size="10.4" textLength="58.2" lengthAdjust="spacingAndGlyphs">Hospital C 2</text>
<circle cx="597.6" cy="86.2" r="5.05" fill="none" stroke="#a1d99b" stroke-width="3.3"/>
<text x="616" y="89.5" font-size="10.4" textLength="58.2" lengthAdjust="spacingAndGlyphs">Hospital C 3</text>
</g></svg></body></html>
